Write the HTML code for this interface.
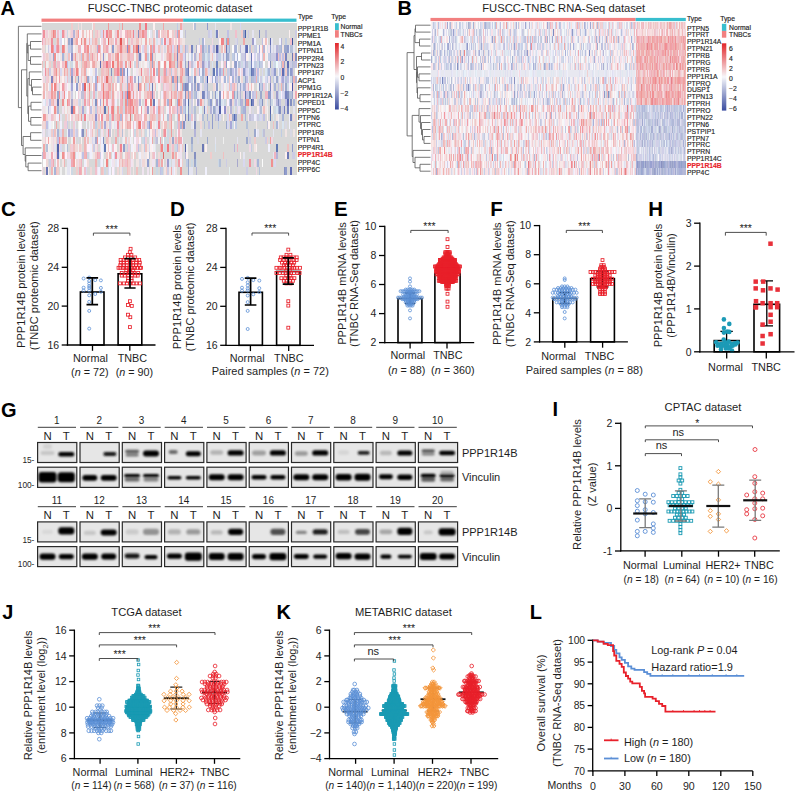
<!DOCTYPE html><html><head><meta charset="utf-8"><style>html,body{margin:0;padding:0;background:#fff}svg{display:block;font-family:"Liberation Sans",sans-serif;font-size:10.8px;fill:#1e1e1e}</style></head><body><svg width="795" height="793" viewBox="0 0 795 793"><text x="0.6" y="14.8" font-size="20" font-weight="bold" fill="#000">A</text><text x="170" y="11.9" font-size="11.2" text-anchor="middle">FUSCC-TNBC proteomic dataset</text><g shape-rendering="crispEdges" transform="translate(41.50 22.50) scale(1.5741 7.6000)" fill="none" stroke-width="1"><path stroke="#d8d8d8" d="M0 0.5h19M20 0.5h3M24 0.5h1M26 0.5h6M34 0.5h8M43 0.5h6M50 0.5h1M52 0.5h10M63 0.5h3M67 0.5h4M72 0.5h5M78 0.5h8M87 0.5h1M90 0.5h6M98 0.5h7M106 0.5h4M111 0.5h9M121 0.5h5M127 0.5h35M33 1.5h1M37 1.5h1M70 1.5h1M84 1.5h1M90 1.5h1M92 1.5h14M108 1.5h2M113 1.5h5M119 1.5h4M124 1.5h3M130 1.5h1M132 1.5h2M135 1.5h3M139 1.5h3M143 1.5h14M158 1.5h3M7 2.5h2M14 2.5h1M36 2.5h1M55 2.5h1M91 2.5h9M101 2.5h1M104 2.5h4M109 2.5h3M116 2.5h1M120 2.5h3M125 2.5h3M129 2.5h5M136 2.5h4M144 2.5h1M147 2.5h4M153 2.5h2M156 2.5h2M160 2.5h2M2 3.5h1M89 3.5h1M93 3.5h1M97 3.5h1M105 3.5h1M110 3.5h1M113 3.5h1M120 3.5h1M125 3.5h1M134 3.5h1M161 3.5h1M14 4.5h1M72 4.5h1M83 4.5h1M93 4.5h1M98 4.5h1M120 4.5h1M156 4.5h3M1 5.5h1M6 5.5h1M9 5.5h1M18 5.5h1M25 5.5h1M85 5.5h1M92 5.5h1M107 5.5h1M109 5.5h2M112 5.5h2M115 5.5h1M120 5.5h1M142 5.5h2M146 5.5h1M155 5.5h1M157 5.5h1M0 6.5h1M36 6.5h2M43 6.5h1M45 6.5h1M57 6.5h1M75 6.5h2M86 6.5h1M98 6.5h1M107 6.5h1M116 6.5h1M139 6.5h1M141 6.5h1M145 6.5h1M149 6.5h1M160 6.5h1M2 7.5h1M22 7.5h1M45 7.5h1M63 7.5h1M68 7.5h1M87 7.5h1M90 7.5h1M112 7.5h1M132 7.5h1M146 7.5h1M11 8.5h1M44 8.5h1M51 8.5h1M66 8.5h1M76 8.5h1M83 8.5h1M88 8.5h1M102 8.5h1M106 8.5h3M113 8.5h1M135 8.5h2M144 8.5h1M147 8.5h1M149 8.5h1M151 8.5h1M161 8.5h1M21 9.5h1M31 9.5h1M73 9.5h1M75 9.5h1M96 9.5h1M109 9.5h1M127 9.5h1M137 9.5h2M140 9.5h2M148 9.5h1M12 10.5h1M48 10.5h1M52 10.5h1M64 10.5h1M75 10.5h1M85 10.5h1M94 10.5h1M97 10.5h1M105 10.5h1M108 10.5h1M110 10.5h1M117 10.5h1M128 10.5h1M132 10.5h1M137 10.5h1M141 10.5h1M144 10.5h1M152 10.5h3M157 10.5h1M159 10.5h1M161 10.5h1M11 11.5h2M24 11.5h1M27 11.5h1M41 11.5h1M46 11.5h1M49 11.5h1M78 11.5h1M94 11.5h1M96 11.5h1M98 11.5h2M102 11.5h1M106 11.5h1M118 11.5h1M121 11.5h1M123 11.5h1M126 11.5h1M130 11.5h2M133 11.5h1M135 11.5h2M144 11.5h1M147 11.5h1M152 11.5h1M155 11.5h1M158 11.5h2M161 11.5h1M13 12.5h2M46 12.5h1M57 12.5h1M68 12.5h1M83 12.5h2M89 12.5h1M92 12.5h1M98 12.5h1M103 12.5h2M106 12.5h2M109 12.5h1M114 12.5h1M116 12.5h2M124 12.5h3M128 12.5h1M130 12.5h1M140 12.5h1M142 12.5h1M144 12.5h1M146 12.5h1M148 12.5h1M152 12.5h1M154 12.5h3M159 12.5h1M161 12.5h1M8 13.5h1M10 13.5h1M13 13.5h1M17 13.5h1M19 13.5h1M22 13.5h1M26 13.5h2M29 13.5h1M35 13.5h1M75 13.5h1M80 13.5h1M84 13.5h2M92 13.5h3M98 13.5h3M102 13.5h1M104 13.5h2M107 13.5h1M109 13.5h3M113 13.5h4M119 13.5h1M124 13.5h6M131 13.5h5M137 13.5h6M145 13.5h2M148 13.5h1M151 13.5h2M154 13.5h1M156 13.5h1M158 13.5h4M2 14.5h1M11 14.5h1M14 14.5h2M27 14.5h1M34 14.5h1M37 14.5h1M40 14.5h1M45 14.5h1M47 14.5h1M49 14.5h1M53 14.5h2M56 14.5h1M62 14.5h1M65 14.5h1M76 14.5h1M81 14.5h1M83 14.5h1M85 14.5h1M89 14.5h8M98 14.5h3M102 14.5h29M132 14.5h3M138 14.5h2M142 14.5h5M148 14.5h4M153 14.5h2M156 14.5h2M159 14.5h1M161 14.5h1M17 15.5h2M22 15.5h1M24 15.5h1M26 15.5h1M40 15.5h1M44 15.5h2M48 15.5h1M50 15.5h1M58 15.5h1M63 15.5h1M67 15.5h1M71 15.5h1M76 15.5h1M79 15.5h1M86 15.5h1M90 15.5h5M96 15.5h3M100 15.5h5M106 15.5h4M111 15.5h4M116 15.5h8M125 15.5h5M131 15.5h1M133 15.5h2M136 15.5h6M144 15.5h1M147 15.5h15M2 16.5h1M9 16.5h1M13 16.5h1M17 16.5h1M26 16.5h1M36 16.5h1M48 16.5h1M53 16.5h1M56 16.5h1M62 16.5h1M73 16.5h2M79 16.5h1M81 16.5h1M84 16.5h1M90 16.5h1M93 16.5h2M96 16.5h6M103 16.5h1M105 16.5h5M111 16.5h11M123 16.5h1M125 16.5h7M134 16.5h1M137 16.5h7M145 16.5h4M150 16.5h6M157 16.5h2M160 16.5h2M21 17.5h1M40 17.5h1M44 17.5h1M51 17.5h1M56 17.5h1M60 17.5h1M73 17.5h1M75 17.5h2M78 17.5h4M84 17.5h1M89 17.5h2M93 17.5h4M98 17.5h9M108 17.5h7M116 17.5h10M127 17.5h1M129 17.5h18M150 17.5h5M157 17.5h2M161 17.5h1M0 18.5h1M4 18.5h1M8 18.5h1M12 18.5h1M15 18.5h1M26 18.5h1M30 18.5h4M35 18.5h1M39 18.5h1M42 18.5h1M59 18.5h1M68 18.5h1M72 18.5h1M75 18.5h1M78 18.5h1M82 18.5h1M86 18.5h1M90 18.5h2M94 18.5h1M96 18.5h1M99 18.5h13M114 18.5h3M118 18.5h6M125 18.5h3M129 18.5h3M133 18.5h2M136 18.5h1M138 18.5h2M141 18.5h5M147 18.5h1M149 18.5h13M1 19.5h1M5 19.5h1M11 19.5h1M13 19.5h2M20 19.5h2M23 19.5h1M29 19.5h2M32 19.5h2M37 19.5h1M41 19.5h1M44 19.5h1M47 19.5h1M49 19.5h1M52 19.5h2M57 19.5h1M59 19.5h1M61 19.5h3M65 19.5h2M68 19.5h1M71 19.5h2M74 19.5h1M77 19.5h1M86 19.5h2M89 19.5h4M96 19.5h2M99 19.5h5M105 19.5h14M120 19.5h10M131 19.5h5M137 19.5h1M139 19.5h15M156 19.5h2M159 19.5h3"/><path stroke="#f0cccc" d="M19 0.5h1M33 0.5h1M28 1.5h1M34 1.5h1M57 1.5h1M60 1.5h1M76 1.5h1M78 1.5h1M83 1.5h1M127 1.5h1M4 2.5h1M9 2.5h1M20 2.5h1M33 2.5h1M35 2.5h1M43 2.5h1M45 2.5h1M51 2.5h1M63 2.5h1M75 2.5h1M11 3.5h1M31 3.5h1M34 3.5h1M44 3.5h1M52 3.5h1M56 3.5h1M85 3.5h1M90 3.5h1M133 3.5h1M3 4.5h1M20 4.5h1M24 4.5h1M33 4.5h1M45 4.5h1M79 4.5h1M87 4.5h1M154 4.5h1M160 4.5h1M5 5.5h1M14 5.5h1M34 5.5h1M38 5.5h1M49 5.5h1M55 5.5h1M101 5.5h1M3 6.5h1M15 6.5h1M26 6.5h1M40 6.5h1M65 6.5h2M84 6.5h1M90 6.5h1M105 6.5h1M117 6.5h1M125 6.5h1M152 6.5h1M155 6.5h1M4 7.5h1M27 7.5h1M36 7.5h1M43 7.5h1M46 7.5h1M50 7.5h1M64 7.5h1M71 7.5h1M119 7.5h1M3 8.5h1M24 8.5h1M41 8.5h1M47 8.5h1M81 8.5h1M36 9.5h1M60 9.5h1M65 9.5h2M80 9.5h1M83 9.5h1M89 9.5h1M32 10.5h1M58 10.5h1M9 11.5h1M25 11.5h1M30 11.5h1M59 11.5h1M69 11.5h1M105 11.5h1M7 12.5h1M15 12.5h1M21 12.5h2M32 12.5h1M47 12.5h1M62 12.5h1M72 12.5h1M75 12.5h1M2 13.5h1M36 13.5h1M53 13.5h1M60 13.5h1M81 13.5h1M6 14.5h1M20 14.5h1M60 14.5h1M63 14.5h1M70 14.5h1M9 15.5h1M12 15.5h1M42 15.5h1M81 15.5h1M135 15.5h1M143 15.5h1M18 16.5h1M24 16.5h1M28 16.5h1M42 16.5h1M87 16.5h1M89 16.5h1M9 17.5h1M34 17.5h1M41 17.5h1M53 17.5h1M59 17.5h1M70 17.5h1M107 17.5h1M24 18.5h1M52 18.5h1M55 18.5h1M85 18.5h1M89 18.5h1M10 19.5h1M22 19.5h1M39 19.5h1M55 19.5h1M79 19.5h1"/><path stroke="#f0d8d8" d="M23 0.5h1M2 1.5h1M5 1.5h1M18 1.5h1M21 1.5h1M36 1.5h1M71 1.5h1M79 1.5h1M3 2.5h1M5 2.5h1M16 2.5h1M26 2.5h1M28 2.5h1M48 2.5h1M56 2.5h1M58 2.5h2M69 2.5h1M85 2.5h1M88 2.5h1M0 3.5h2M33 3.5h1M47 3.5h1M76 3.5h1M94 3.5h1M2 4.5h1M4 4.5h1M15 4.5h1M22 4.5h1M27 4.5h1M34 4.5h1M52 4.5h2M71 4.5h1M152 4.5h1M46 5.5h2M57 5.5h1M89 5.5h1M10 6.5h1M21 6.5h1M62 6.5h1M8 7.5h1M14 7.5h1M18 7.5h1M81 7.5h1M103 7.5h1M127 7.5h1M29 8.5h1M31 8.5h1M35 8.5h1M53 8.5h1M60 8.5h1M98 8.5h1M109 8.5h1M123 8.5h1M160 8.5h1M3 9.5h1M18 9.5h1M29 9.5h1M117 9.5h1M147 9.5h1M9 10.5h1M11 10.5h1M20 10.5h1M22 10.5h1M61 10.5h1M77 10.5h1M102 10.5h1M121 10.5h1M14 11.5h1M16 11.5h1M21 11.5h1M33 11.5h1M36 11.5h1M38 11.5h1M65 11.5h1M70 11.5h1M76 11.5h1M3 12.5h1M8 12.5h1M17 12.5h1M24 12.5h1M31 12.5h1M33 12.5h1M120 12.5h1M160 12.5h1M0 13.5h2M11 13.5h1M41 13.5h1M50 13.5h1M66 13.5h1M76 13.5h1M101 13.5h1M39 14.5h1M46 14.5h1M50 14.5h1M61 14.5h1M73 14.5h1M84 14.5h1M55 15.5h1M61 15.5h1M82 15.5h1M84 15.5h1M11 16.5h1M21 16.5h2M25 16.5h1M32 16.5h1M49 16.5h1M63 16.5h1M82 16.5h1M16 17.5h1M57 17.5h1M74 17.5h1M82 17.5h1M3 18.5h1M22 18.5h1M29 18.5h1M50 18.5h1M64 18.5h2M2 19.5h1M31 19.5h1M48 19.5h1"/><path stroke="#f0e4e4" d="M25 0.5h1M120 0.5h1M4 1.5h1M17 1.5h1M46 1.5h1M49 1.5h1M112 1.5h1M62 2.5h1M72 2.5h1M89 2.5h2M15 3.5h1M21 3.5h2M32 3.5h1M46 3.5h1M79 3.5h1M153 3.5h1M10 4.5h1M12 4.5h1M23 4.5h1M38 4.5h1M40 4.5h1M46 4.5h1M65 4.5h1M78 4.5h1M107 4.5h1M4 5.5h1M24 5.5h1M35 5.5h2M62 5.5h1M64 5.5h1M75 5.5h1M79 5.5h1M6 6.5h1M13 6.5h1M33 6.5h1M56 6.5h1M61 6.5h1M64 6.5h1M87 6.5h1M138 6.5h1M5 7.5h1M12 7.5h1M20 7.5h1M24 7.5h1M26 7.5h1M31 7.5h1M37 7.5h1M47 7.5h1M122 7.5h1M2 8.5h1M23 8.5h1M49 8.5h1M59 8.5h1M71 8.5h1M75 8.5h1M110 8.5h1M117 8.5h1M9 9.5h1M35 9.5h1M46 9.5h1M81 9.5h1M101 9.5h1M160 9.5h1M14 10.5h1M18 10.5h1M25 10.5h1M28 10.5h1M38 10.5h1M40 10.5h1M89 10.5h1M135 10.5h2M142 10.5h1M1 11.5h1M17 11.5h1M32 11.5h1M47 11.5h1M119 11.5h1M140 11.5h1M142 11.5h1M20 12.5h1M29 12.5h1M40 12.5h1M55 12.5h1M67 12.5h1M90 12.5h1M100 12.5h2M149 12.5h1M39 13.5h1M42 13.5h1M71 13.5h1M136 13.5h1M9 14.5h1M23 14.5h1M33 14.5h1M52 14.5h1M55 14.5h1M64 14.5h1M79 14.5h1M88 14.5h1M155 14.5h1M160 14.5h1M0 15.5h2M6 15.5h1M8 15.5h1M31 15.5h1M43 15.5h1M6 16.5h1M34 16.5h1M37 16.5h1M51 16.5h1M64 16.5h1M67 16.5h1M135 16.5h1M33 17.5h1M48 17.5h1M61 17.5h1M63 17.5h2M66 17.5h1M69 17.5h1M13 18.5h1M46 18.5h1M58 18.5h1M60 18.5h2M66 18.5h1M69 18.5h1M50 19.5h1M58 19.5h1M78 19.5h1M81 19.5h1M85 19.5h1"/><path stroke="#f0f0f0" d="M32 0.5h1M27 1.5h1M45 1.5h1M41 2.5h1M64 2.5h2M67 2.5h1M3 3.5h1M43 3.5h1M63 3.5h1M115 3.5h1M124 3.5h1M131 3.5h1M137 3.5h1M41 4.5h1M49 4.5h1M59 4.5h1M73 4.5h3M92 4.5h1M110 4.5h1M131 4.5h1M136 4.5h1M142 4.5h1M3 5.5h1M20 5.5h1M23 5.5h1M54 5.5h1M63 5.5h1M65 5.5h1M72 5.5h1M80 5.5h1M32 6.5h1M35 6.5h1M59 6.5h1M110 6.5h1M60 7.5h1M65 7.5h1M99 7.5h1M126 7.5h1M138 7.5h1M141 7.5h1M157 7.5h1M17 8.5h1M20 8.5h1M112 8.5h1M116 8.5h1M132 8.5h1M137 8.5h1M20 9.5h1M28 9.5h1M49 9.5h1M63 9.5h2M72 9.5h1M100 9.5h1M107 9.5h1M112 9.5h1M120 9.5h1M133 9.5h1M0 10.5h1M15 10.5h1M31 10.5h1M49 10.5h1M63 10.5h1M83 10.5h2M147 10.5h1M3 11.5h1M7 11.5h1M15 11.5h1M64 11.5h1M68 11.5h1M143 11.5h1M146 11.5h1M157 11.5h1M28 12.5h1M58 12.5h1M78 12.5h2M85 12.5h1M96 12.5h1M99 12.5h1M150 12.5h1M6 13.5h1M23 13.5h1M30 13.5h1M32 13.5h1M45 13.5h1M72 13.5h1M83 13.5h1M96 13.5h1M67 14.5h1M16 15.5h1M19 15.5h1M52 15.5h1M57 15.5h1M74 15.5h1M115 15.5h1M5 16.5h1M15 16.5h1M23 16.5h1M59 16.5h1M71 16.5h1M92 16.5h1M5 17.5h1M12 17.5h1M23 17.5h1M32 17.5h1M52 17.5h1M11 18.5h1M40 18.5h1M77 18.5h1M12 19.5h1M15 19.5h1M26 19.5h1M69 19.5h1"/><path stroke="#f09c9c" d="M42 0.5h1M51 0.5h1M8 1.5h1M23 1.5h1M43 1.5h2M87 1.5h1M81 2.5h1M14 3.5h1M69 3.5h1M87 3.5h1M21 4.5h1M66 4.5h1M81 4.5h1M53 5.5h1M74 5.5h1M99 5.5h1M51 6.5h1M74 6.5h1M89 6.5h1M28 7.5h1M51 7.5h1M88 7.5h1M6 8.5h1M55 8.5h1M62 8.5h1M89 8.5h1M6 9.5h1M58 9.5h1M55 10.5h1M101 10.5h1M42 11.5h1M53 11.5h1M74 11.5h1M1 12.5h1M25 12.5h1M87 12.5h1M69 13.5h1M82 13.5h1M82 14.5h1M13 15.5h1M20 15.5h1M35 15.5h1M145 15.5h1M83 17.5h1M20 18.5h1M70 19.5h1"/><path stroke="#f0c0c0" d="M49 0.5h1M6 1.5h1M14 1.5h1M22 1.5h1M26 1.5h1M30 1.5h1M32 1.5h1M2 2.5h1M21 2.5h1M32 2.5h1M39 2.5h1M44 2.5h1M49 2.5h1M52 2.5h1M60 2.5h2M68 2.5h1M82 2.5h1M142 2.5h1M37 3.5h1M40 3.5h1M48 3.5h1M51 3.5h1M53 3.5h1M66 3.5h1M74 3.5h1M81 3.5h1M114 3.5h1M116 3.5h1M17 4.5h1M31 4.5h1M37 4.5h1M50 4.5h1M54 4.5h1M58 4.5h1M60 4.5h1M85 4.5h1M101 4.5h1M108 4.5h1M150 4.5h1M0 5.5h1M21 5.5h1M26 5.5h1M29 5.5h2M60 5.5h1M87 5.5h1M25 6.5h1M38 6.5h1M41 6.5h1M77 6.5h1M81 6.5h1M85 6.5h1M7 7.5h1M38 7.5h1M67 7.5h1M77 7.5h1M80 7.5h1M89 7.5h1M1 8.5h1M14 8.5h1M33 8.5h1M38 8.5h1M63 8.5h1M72 8.5h1M82 8.5h1M85 8.5h1M119 8.5h1M133 8.5h1M7 9.5h1M17 9.5h1M43 9.5h1M68 9.5h1M87 9.5h1M92 9.5h1M118 9.5h1M6 10.5h1M35 10.5h1M74 10.5h1M37 11.5h1M39 11.5h1M83 11.5h1M89 11.5h1M141 11.5h1M36 12.5h1M44 12.5h1M53 12.5h1M60 12.5h1M69 12.5h1M71 12.5h1M119 12.5h1M33 13.5h1M78 13.5h2M147 13.5h1M8 14.5h1M32 14.5h1M35 14.5h1M29 15.5h1M41 15.5h1M53 15.5h1M20 16.5h1M66 16.5h1M156 16.5h1M18 17.5h1M50 17.5h1M54 17.5h1M115 17.5h1M10 18.5h1M49 18.5h1M9 19.5h1M38 19.5h1M54 19.5h1M60 19.5h1"/><path stroke="#f09090" d="M62 0.5h1M39 1.5h1M48 1.5h1M64 1.5h1M25 2.5h1M27 2.5h1M118 2.5h1M29 3.5h1M55 3.5h1M58 3.5h1M8 4.5h1M48 4.5h1M48 5.5h1M78 5.5h1M88 5.5h1M9 6.5h1M35 7.5h1M56 7.5h1M14 9.5h1M42 9.5h1M51 9.5h1M56 9.5h1M13 10.5h1M16 10.5h1M53 10.5h1M57 10.5h1M130 10.5h1M8 11.5h1M56 11.5h1M61 13.5h1M13 17.5h1M20 17.5h1M146 18.5h1M88 19.5h1"/><path stroke="#f07884" d="M66 0.5h1M41 5.5h1M56 5.5h1M80 16.5h1"/><path stroke="#fcf0f0" d="M71 0.5h1M96 0.5h1M25 1.5h1M29 1.5h1M31 1.5h1M51 1.5h2M81 1.5h2M157 1.5h1M15 2.5h1M24 2.5h1M53 2.5h1M84 2.5h1M86 2.5h1M113 2.5h1M141 2.5h1M20 3.5h1M26 3.5h1M99 3.5h1M139 3.5h1M142 3.5h1M96 4.5h1M130 4.5h1M143 4.5h1M12 5.5h1M31 5.5h1M44 5.5h1M58 5.5h1M66 5.5h1M77 5.5h1M98 5.5h1M121 5.5h1M29 6.5h1M72 6.5h1M94 6.5h1M0 7.5h1M10 7.5h1M13 7.5h1M96 7.5h1M106 7.5h1M114 7.5h1M117 7.5h1M4 8.5h1M12 8.5h1M28 8.5h1M46 8.5h1M64 8.5h1M74 8.5h1M134 8.5h1M158 8.5h1M0 9.5h1M47 9.5h1M74 9.5h1M116 9.5h1M67 10.5h1M76 10.5h1M96 10.5h1M22 11.5h1M79 11.5h1M82 11.5h1M137 11.5h1M0 12.5h1M88 12.5h1M115 12.5h1M143 12.5h1M52 13.5h1M57 13.5h1M70 13.5h1M77 13.5h1M122 13.5h1M144 13.5h1M44 14.5h1M69 14.5h1M75 14.5h1M3 15.5h1M5 15.5h1M25 15.5h1M4 16.5h1M41 16.5h1M47 16.5h1M58 16.5h1M69 16.5h1M104 16.5h1M136 16.5h1M7 17.5h1M24 17.5h1M42 17.5h1M67 17.5h1M86 17.5h1M92 17.5h1M126 17.5h1M155 17.5h1M21 18.5h1M28 18.5h1M4 19.5h1M18 19.5h1"/><path stroke="#f0a8a8" d="M77 0.5h1M88 0.5h1M54 1.5h1M56 1.5h1M80 1.5h1M10 2.5h1M22 2.5h1M66 2.5h1M128 2.5h1M80 3.5h1M26 4.5h1M29 4.5h1M35 4.5h1M47 4.5h1M100 4.5h1M22 5.5h1M27 5.5h1M33 5.5h1M50 5.5h1M82 5.5h1M84 5.5h1M14 6.5h1M27 6.5h1M42 6.5h1M46 6.5h1M69 7.5h1M78 7.5h1M82 7.5h1M85 7.5h1M43 8.5h1M65 8.5h1M68 8.5h1M8 9.5h1M30 9.5h1M45 9.5h1M78 9.5h1M88 9.5h1M115 9.5h1M30 10.5h1M45 10.5h1M78 10.5h1M81 10.5h1M48 11.5h1M55 11.5h1M11 12.5h1M42 12.5h1M49 12.5h1M51 12.5h1M82 12.5h1M127 12.5h1M9 13.5h1M54 13.5h1M56 13.5h1M89 13.5h1M4 15.5h1M47 15.5h1M70 15.5h1M87 15.5h1M1 16.5h1M76 18.5h1M82 19.5h1"/><path stroke="#c0cce4" d="M86 0.5h1M76 2.5h1M155 2.5h1M17 3.5h1M104 3.5h1M118 3.5h1M136 3.5h1M25 4.5h1M67 4.5h1M95 4.5h1M106 4.5h1M112 4.5h2M121 4.5h1M144 4.5h1M135 5.5h1M139 5.5h1M82 6.5h1M103 6.5h1M114 6.5h1M118 6.5h1M132 6.5h1M143 6.5h1M151 6.5h1M95 7.5h1M101 7.5h1M104 7.5h1M118 7.5h1M137 7.5h1M143 7.5h1M147 7.5h1M139 8.5h1M131 9.5h1M119 10.5h1M139 10.5h1M34 11.5h1M90 11.5h1M94 12.5h1M34 13.5h1M112 13.5h1M123 13.5h1M36 14.5h1M152 14.5h1M65 15.5h1M65 16.5h1M133 16.5h1M92 18.5h1M76 19.5h1"/><path stroke="#f0ccd8" d="M89 0.5h1M0 1.5h1M3 1.5h1M19 1.5h1M47 1.5h1M50 1.5h1M1 2.5h1M83 2.5h1M42 3.5h1M1 4.5h1M51 4.5h1M94 5.5h1M7 6.5h1M80 6.5h1M99 6.5h1M136 6.5h1M3 7.5h1M55 7.5h1M76 7.5h1M40 8.5h1M56 8.5h1M58 8.5h1M79 8.5h2M141 8.5h1M4 9.5h2M13 9.5h1M23 9.5h1M38 9.5h1M44 10.5h1M46 10.5h1M18 11.5h1M23 11.5h1M85 11.5h1M19 12.5h1M30 12.5h1M54 12.5h1M14 13.5h2M20 13.5h1M58 14.5h1M71 14.5h1M2 15.5h1M66 15.5h1M19 16.5h1M35 16.5h1M55 16.5h1M60 16.5h1M56 18.5h1"/><path stroke="#b4c0d8" d="M97 0.5h1M73 1.5h1M119 2.5h1M132 3.5h1M151 3.5h1M158 3.5h2M102 4.5h2M122 4.5h1M145 4.5h1M125 5.5h1M152 5.5h1M159 5.5h1M73 6.5h1M102 7.5h1M134 7.5h1M155 7.5h1M124 8.5h1M97 9.5h1M108 9.5h1M157 9.5h2M106 10.5h1M97 11.5h1M110 11.5h1M127 11.5h1M139 11.5h1M80 12.5h1M102 12.5h1M103 13.5h1M130 13.5h1M51 14.5h1M3 16.5h1M16 16.5h1M95 16.5h1M68 17.5h1M113 18.5h1M138 19.5h1"/><path stroke="#909ccc" d="M105 0.5h1M45 3.5h1M86 3.5h1M145 3.5h1M156 3.5h1M70 4.5h1M117 4.5h1M117 5.5h1M123 5.5h1M50 6.5h1M92 6.5h1M128 6.5h1M148 6.5h1M156 6.5h1M158 6.5h1M23 7.5h1M61 7.5h1M83 7.5h1M22 8.5h1M86 8.5h1M99 8.5h1M111 8.5h1M110 9.5h1M144 9.5h2M107 10.5h1M129 10.5h1M108 12.5h1M112 12.5h1M123 12.5h1M68 13.5h1M108 13.5h1M52 16.5h1M159 16.5h1M67 18.5h1M155 19.5h1"/><path stroke="#e4e4f0" d="M110 0.5h1M9 1.5h1M69 1.5h1M134 1.5h1M11 2.5h1M31 2.5h1M79 2.5h1M146 2.5h1M57 3.5h1M72 3.5h1M127 3.5h2M146 3.5h1M148 3.5h1M157 3.5h1M160 3.5h1M99 4.5h1M109 4.5h1M114 4.5h1M116 4.5h1M132 4.5h1M52 5.5h1M67 5.5h1M73 5.5h1M90 5.5h1M97 5.5h1M150 5.5h2M122 6.5h1M124 6.5h1M131 6.5h1M15 7.5h1M53 7.5h1M62 7.5h1M75 7.5h1M98 7.5h1M115 7.5h1M131 7.5h1M148 7.5h1M18 8.5h1M69 8.5h1M96 8.5h1M114 8.5h1M118 8.5h1M125 8.5h1M12 9.5h1M32 9.5h1M90 9.5h1M99 9.5h1M146 9.5h1M4 10.5h1M33 10.5h1M104 10.5h1M115 10.5h1M124 10.5h1M148 10.5h1M5 11.5h1M28 11.5h1M61 11.5h1M104 11.5h1M108 11.5h1M160 11.5h1M12 12.5h1M16 12.5h1M39 12.5h1M136 12.5h1M18 13.5h1M21 13.5h1M46 13.5h1M73 13.5h1M95 13.5h1M0 14.5h1M4 14.5h2M29 14.5h1M74 14.5h1M101 14.5h1M137 14.5h1M147 14.5h1M33 15.5h1M49 15.5h1M51 15.5h1M54 15.5h1M68 15.5h1M110 15.5h1M124 15.5h1M8 16.5h1M39 16.5h1M72 16.5h1M25 17.5h1M30 17.5h1M65 17.5h1M128 17.5h1M147 17.5h1M16 18.5h3M37 18.5h1M47 18.5h1M63 18.5h1M83 18.5h2M16 19.5h2M46 19.5h1M83 19.5h1M94 19.5h2"/><path stroke="#d8d8f0" d="M126 0.5h1M38 1.5h1M107 1.5h1M12 2.5h1M8 3.5h1M64 3.5h1M83 3.5h1M88 3.5h1M108 3.5h1M90 4.5h1M135 4.5h1M96 5.5h1M104 5.5h1M128 5.5h1M147 5.5h1M12 6.5h1M106 6.5h1M130 6.5h1M140 6.5h1M30 7.5h1M142 7.5h1M154 7.5h1M67 8.5h1M127 8.5h1M86 9.5h1M104 9.5h1M153 9.5h1M23 10.5h1M73 11.5h1M111 11.5h1M124 11.5h1M138 11.5h1M113 12.5h1M118 12.5h1M139 12.5h1M91 13.5h1M118 13.5h1M12 14.5h1M21 14.5h1M32 15.5h1M12 16.5h1M68 16.5h1M46 17.5h1M128 18.5h1M148 18.5h1M28 19.5h1M42 19.5h1M51 19.5h1"/><path stroke="#f0909c" d="M1 1.5h1M13 1.5h1M6 2.5h1M10 3.5h1M36 3.5h1M2 6.5h1M74 7.5h1M11 9.5h1M44 11.5h1M38 12.5h1M45 12.5h1M48 13.5h1M42 14.5h1M78 14.5h1M11 15.5h1M47 17.5h1M132 18.5h1"/><path stroke="#f08484" d="M7 1.5h1M114 2.5h1M6 3.5h1M13 3.5h1M50 3.5h1M69 4.5h1M15 5.5h1M81 5.5h1M22 6.5h1M8 8.5h1M30 8.5h1M39 8.5h1M39 10.5h1M87 10.5h1M131 10.5h1M20 11.5h1M45 11.5h1M76 16.5h1M41 18.5h1"/><path stroke="#f0c0cc" d="M10 1.5h1M35 1.5h1M63 1.5h1M77 1.5h1M85 1.5h1M123 1.5h1M57 2.5h1M158 2.5h1M62 3.5h1M65 3.5h1M84 3.5h1M28 4.5h1M56 4.5h2M10 5.5h2M13 5.5h1M116 5.5h1M20 6.5h1M39 6.5h1M67 6.5h1M16 7.5h1M25 7.5h1M40 7.5h1M70 7.5h1M77 8.5h1M121 8.5h1M37 9.5h1M50 9.5h1M62 9.5h1M71 9.5h1M77 9.5h1M79 9.5h1M29 10.5h1M35 11.5h1M54 11.5h1M66 11.5h1M75 11.5h1M77 11.5h1M84 11.5h1M87 11.5h1M6 12.5h1M63 12.5h1M81 12.5h1M95 12.5h1M58 13.5h1M64 13.5h1M45 16.5h1M83 16.5h1M55 17.5h1M71 17.5h1M6 18.5h1M53 18.5h1M27 19.5h1M34 19.5h1"/><path stroke="#f0e4f0" d="M11 1.5h1M29 2.5h1M74 2.5h1M5 3.5h1M30 3.5h1M73 3.5h1M77 3.5h1M144 3.5h1M1 6.5h1M60 6.5h1M39 7.5h1M72 7.5h1M107 7.5h1M144 7.5h1M151 7.5h1M101 8.5h1M146 8.5h1M154 8.5h1M24 9.5h1M59 9.5h1M42 10.5h2M0 11.5h1M2 11.5h1M13 11.5h1M43 11.5h1M125 11.5h1M132 11.5h1M4 12.5h2M131 12.5h1M47 13.5h1M150 13.5h1M1 14.5h1M38 14.5h1M21 15.5h1M28 15.5h1M88 16.5h1M3 17.5h2M8 17.5h1M87 17.5h2M45 18.5h1M57 18.5h1M70 18.5h2M35 19.5h1M64 19.5h1M67 19.5h1"/><path stroke="#d8e4f0" d="M12 1.5h1M70 2.5h1M73 2.5h1M67 3.5h1M143 3.5h1M104 4.5h1M17 5.5h1M105 5.5h1M108 5.5h1M68 6.5h1M95 6.5h1M112 6.5h1M142 6.5h1M157 6.5h1M140 7.5h1M5 8.5h1M111 9.5h1M151 9.5h1M2 10.5h1M112 10.5h1M114 10.5h1M143 10.5h1M122 11.5h1M149 11.5h1M147 12.5h1M4 13.5h1M153 13.5h1M77 16.5h1M110 16.5h1M11 17.5h1M81 18.5h1"/><path stroke="#f0d8e4" d="M15 1.5h1M40 1.5h1M38 2.5h1M80 2.5h1M108 2.5h1M16 3.5h1M107 3.5h1M6 4.5h1M44 4.5h1M76 4.5h1M100 5.5h1M83 6.5h1M127 6.5h1M1 7.5h1M52 7.5h1M10 8.5h1M15 8.5h1M52 8.5h1M78 8.5h1M115 8.5h1M130 8.5h1M48 9.5h1M57 9.5h1M128 9.5h1M3 10.5h1M8 10.5h1M21 10.5h1M65 10.5h1M79 10.5h1M117 11.5h1M35 12.5h1M31 13.5h1M44 13.5h1M31 14.5h1M41 14.5h1M7 15.5h1M37 15.5h1M60 15.5h1M146 15.5h1M7 16.5h1M132 16.5h1M17 17.5h1M49 17.5h1M23 18.5h1M79 18.5h1M135 18.5h1M0 19.5h1M56 19.5h1M136 19.5h1"/><path stroke="#ccd8e4" d="M16 1.5h1M110 1.5h1M96 3.5h1M105 4.5h1M140 4.5h1M19 5.5h1M59 5.5h1M68 5.5h1M127 5.5h1M131 5.5h2M137 5.5h1M148 5.5h1M49 7.5h1M91 7.5h1M124 7.5h1M128 7.5h1M150 7.5h1M158 7.5h1M156 8.5h1M34 9.5h1M123 9.5h1M24 10.5h1M103 10.5h1M116 10.5h1M122 10.5h1M125 10.5h1M146 10.5h1M52 11.5h1M148 11.5h1M43 12.5h1M138 12.5h1M37 13.5h1M121 13.5h1M59 14.5h1M66 14.5h1M80 14.5h1M140 14.5h1M64 15.5h1M78 15.5h1M80 15.5h1M78 16.5h1M85 16.5h1M29 17.5h1M36 18.5h1M95 18.5h1M98 18.5h1M112 18.5h1M19 19.5h1M40 19.5h1M73 19.5h1"/><path stroke="#b4b4d8" d="M20 1.5h1M152 2.5h1M35 3.5h1M109 3.5h1M122 3.5h1M126 3.5h1M141 3.5h1M149 3.5h1M91 4.5h1M97 4.5h1M115 4.5h1M106 5.5h1M123 6.5h1M59 7.5h1M161 7.5h1M95 8.5h1M100 8.5h1M129 8.5h1M126 9.5h1M54 10.5h1M62 10.5h1M90 10.5h1M127 10.5h1M149 10.5h1M4 11.5h1M86 11.5h1M88 11.5h1M107 11.5h1M120 11.5h1M50 12.5h1M97 14.5h1M122 16.5h1M91 17.5h1M149 17.5h1M98 19.5h1"/><path stroke="#f0f0fc" d="M24 1.5h1M72 1.5h1M88 1.5h2M46 2.5h1M77 2.5h1M135 2.5h1M143 2.5h1M151 2.5h1M25 3.5h1M38 3.5h1M100 3.5h1M9 4.5h1M11 4.5h1M18 4.5h1M64 4.5h1M77 4.5h1M94 4.5h1M123 4.5h1M124 5.5h1M134 5.5h1M24 6.5h1M31 6.5h1M53 6.5h1M55 6.5h1M70 6.5h1M96 6.5h1M101 6.5h1M126 6.5h1M150 6.5h1M33 7.5h1M58 7.5h1M109 7.5h1M36 8.5h2M143 8.5h1M2 9.5h1M15 9.5h1M76 9.5h1M119 9.5h1M1 10.5h1M47 10.5h1M73 10.5h1M92 10.5h1M109 10.5h1M80 11.5h1M100 11.5h1M114 11.5h1M10 12.5h1M52 12.5h1M76 12.5h1M135 12.5h1M157 12.5h1M5 13.5h1M12 13.5h1M28 13.5h1M59 13.5h1M63 13.5h1M157 13.5h1M16 14.5h1M136 14.5h1M36 15.5h1M38 15.5h1M56 15.5h1M69 15.5h1M89 15.5h1M31 16.5h1M38 16.5h1M57 16.5h1M144 16.5h1M22 17.5h1M31 17.5h1M45 17.5h1M62 17.5h1M72 17.5h1M27 18.5h1M38 18.5h1M44 18.5h1M48 18.5h1M88 18.5h1M36 19.5h1M43 19.5h1M84 19.5h1M104 19.5h1"/><path stroke="#f08490" d="M41 1.5h1M58 1.5h1M78 2.5h1M115 2.5h1M48 6.5h1M63 6.5h1M71 6.5h1M56 10.5h1M66 10.5h1M27 12.5h1M74 13.5h1M50 16.5h1"/><path stroke="#f0b4b4" d="M42 1.5h1M55 1.5h1M62 1.5h1M30 2.5h1M34 2.5h1M71 2.5h1M23 3.5h1M28 3.5h1M39 3.5h1M59 3.5h1M140 3.5h1M42 4.5h1M55 4.5h1M80 4.5h1M82 4.5h1M88 4.5h1M141 4.5h1M2 5.5h1M32 5.5h1M69 5.5h1M71 5.5h1M83 5.5h1M153 5.5h1M4 6.5h1M8 6.5h1M11 6.5h1M16 6.5h1M18 6.5h1M23 6.5h1M49 6.5h1M69 6.5h1M88 6.5h1M97 6.5h1M104 6.5h1M9 7.5h1M21 7.5h1M42 7.5h1M66 7.5h1M79 7.5h1M84 7.5h1M136 7.5h1M160 7.5h1M9 8.5h1M45 8.5h1M50 8.5h1M122 8.5h1M152 8.5h1M1 9.5h1M40 9.5h1M67 9.5h1M84 9.5h2M94 9.5h1M136 9.5h1M7 10.5h1M59 10.5h1M88 10.5h1M50 11.5h1M60 11.5h1M23 12.5h1M41 12.5h1M48 12.5h1M59 12.5h1M65 12.5h2M70 12.5h1M74 12.5h1M77 12.5h1M38 13.5h1M51 13.5h1M55 13.5h1M65 13.5h1M13 14.5h1M28 14.5h1M77 14.5h1M14 15.5h2M27 15.5h1M27 16.5h1M75 16.5h1M2 17.5h1M14 17.5h1M19 17.5h1M27 17.5h1M43 17.5h1M85 17.5h1M14 18.5h1M34 18.5h1M51 18.5h1M54 18.5h1M6 19.5h1M25 19.5h1"/><path stroke="#f0b4c0" d="M53 1.5h1M74 1.5h1M40 2.5h1M87 2.5h1M24 3.5h1M49 3.5h1M101 3.5h1M43 4.5h1M89 4.5h1M7 5.5h1M40 5.5h1M51 5.5h1M44 7.5h1M131 8.5h1M27 9.5h1M33 9.5h1M142 9.5h2M50 10.5h1M60 10.5h1M51 11.5h1M57 11.5h1M81 11.5h1M61 12.5h1M87 13.5h1M48 14.5h1M87 14.5h1M85 15.5h1M124 16.5h1M36 17.5h1M148 17.5h1M25 18.5h1M74 18.5h1"/><path stroke="#d8d8e4" d="M59 1.5h1M112 2.5h1M123 2.5h1M12 3.5h1M75 3.5h1M78 3.5h1M147 3.5h1M5 4.5h1M16 4.5h1M63 4.5h1M17 6.5h1M28 6.5h1M17 7.5h1M32 7.5h1M142 8.5h1M44 9.5h1M125 9.5h1M26 10.5h1M70 10.5h1M112 11.5h1M134 11.5h1M26 12.5h1M73 12.5h1M151 12.5h1M49 13.5h1M155 13.5h1M3 14.5h1M158 14.5h1M23 15.5h1M46 15.5h1M99 15.5h1M14 16.5h1M62 18.5h1"/><path stroke="#8490c0" d="M61 1.5h1M138 1.5h1M161 4.5h1M145 5.5h1M44 6.5h1M54 6.5h1M19 7.5h1M86 7.5h1M97 7.5h1M92 8.5h1M138 8.5h1M91 9.5h1M103 9.5h1M113 9.5h1M132 9.5h1M156 9.5h1M34 10.5h1M91 10.5h1M113 10.5h1M140 10.5h1M150 10.5h1M158 10.5h1M93 11.5h1M151 11.5h1M90 13.5h1M97 13.5h1M26 14.5h1M39 15.5h1M97 17.5h1M154 19.5h1"/><path stroke="#f0a8b4" d="M65 1.5h2M0 2.5h1M47 2.5h1M54 2.5h1M9 3.5h1M41 3.5h1M82 3.5h1M84 4.5h1M8 5.5h1M39 5.5h1M42 5.5h2M47 6.5h1M57 7.5h1M42 8.5h1M57 8.5h1M161 9.5h1M17 10.5h1M51 10.5h1M71 11.5h1M88 15.5h1M1 17.5h1M6 17.5h1M28 17.5h1M35 17.5h1M7 18.5h1M19 18.5h1M24 19.5h1"/><path stroke="#e4f0f0" d="M67 1.5h1M68 4.5h1M126 4.5h1M73 8.5h1M92 11.5h1M101 11.5h1M30 15.5h1M0 16.5h1M44 16.5h1M39 17.5h1M43 18.5h1M7 19.5h1M119 19.5h1"/><path stroke="#fcfcfc" d="M68 1.5h1M75 1.5h1M13 2.5h1M37 2.5h1M121 3.5h1M125 4.5h1M76 5.5h1M118 5.5h1M141 5.5h1M30 6.5h1M161 6.5h1M0 8.5h1M32 8.5h1M48 8.5h1M94 8.5h1M16 9.5h1M22 9.5h1M68 10.5h1M72 10.5h1M62 11.5h1M18 12.5h1M37 12.5h1M7 13.5h1M24 13.5h1M24 14.5h1M57 14.5h1M77 15.5h1M58 17.5h1M1 18.5h2M140 18.5h1"/><path stroke="#a8b4d8" d="M86 1.5h1M102 2.5h1M19 3.5h1M91 3.5h1M106 3.5h1M119 3.5h1M123 3.5h1M152 3.5h1M13 4.5h1M124 4.5h1M129 5.5h1M138 5.5h1M91 6.5h1M100 6.5h1M135 6.5h1M144 6.5h1M154 6.5h1M34 7.5h1M108 7.5h1M116 7.5h1M121 7.5h1M133 7.5h1M54 8.5h1M128 8.5h1M140 8.5h1M148 8.5h1M98 9.5h1M105 9.5h1M80 10.5h1M126 10.5h1M160 10.5h1M10 11.5h1M91 11.5h1M128 11.5h1M150 11.5h1M105 12.5h1M129 12.5h1M153 12.5h1M88 13.5h1M149 13.5h1M10 14.5h1M73 18.5h1M137 18.5h1M8 19.5h1"/><path stroke="#c0c0d8" d="M91 1.5h1M142 1.5h1M70 3.5h1M150 3.5h1M61 4.5h1M61 5.5h1M95 5.5h1M103 5.5h1M130 5.5h1M160 5.5h1M79 6.5h1M108 6.5h1M153 8.5h1M25 9.5h2M106 9.5h1M97 12.5h1M110 12.5h1M132 12.5h1M143 13.5h1M43 14.5h1M141 14.5h1M73 15.5h1M0 17.5h1"/><path stroke="#cccce4" d="M106 1.5h1M131 1.5h1M161 1.5h1M100 2.5h1M124 2.5h1M4 3.5h1M18 3.5h1M92 3.5h1M103 3.5h1M135 3.5h1M30 4.5h1M119 4.5h1M127 4.5h2M137 4.5h1M146 4.5h3M126 5.5h1M136 5.5h1M140 5.5h1M158 5.5h1M5 6.5h1M119 6.5h1M146 6.5h1M92 7.5h1M113 7.5h1M139 7.5h1M84 8.5h1M103 8.5h2M120 8.5h1M19 9.5h1M52 9.5h1M135 9.5h1M150 9.5h1M154 9.5h1M95 10.5h1M100 10.5h1M95 11.5h1M153 11.5h1M86 12.5h1M111 12.5h1M133 12.5h2M137 12.5h1M16 13.5h1M43 13.5h1M86 13.5h1M7 14.5h1M18 14.5h1M22 14.5h1M68 14.5h1M131 14.5h1M72 15.5h1M132 15.5h1M142 15.5h1M33 16.5h1M54 16.5h1M37 17.5h1M159 17.5h2M5 18.5h1M117 18.5h1M80 19.5h1M130 19.5h1"/><path stroke="#7884c0" d="M111 1.5h1M19 2.5h1M95 3.5h1M129 3.5h1M62 4.5h1M86 4.5h1M155 4.5h1M133 5.5h1M134 6.5h1M61 8.5h1M91 8.5h1M145 8.5h1M54 9.5h1M102 9.5h1M155 9.5h1M134 10.5h1M103 11.5h1M154 11.5h1M156 11.5h1M91 12.5h1M93 12.5h1M158 12.5h1"/><path stroke="#c0c0e4" d="M118 1.5h1M18 2.5h1M140 2.5h1M111 4.5h1M138 4.5h1M151 4.5h1M153 4.5h1M16 5.5h1M161 5.5h1M34 6.5h1M121 6.5h1M129 6.5h1M137 6.5h1M147 6.5h1M48 7.5h1M94 7.5h1M111 7.5h1M123 7.5h1M130 7.5h1M135 7.5h1M152 7.5h1M156 7.5h1M150 8.5h1M95 9.5h1M130 9.5h1M134 9.5h1M5 10.5h1M123 10.5h1M138 10.5h1M151 10.5h1M155 10.5h1M31 11.5h1M141 12.5h1M3 13.5h1M67 13.5h1M106 13.5h1M19 14.5h1M25 14.5h1M72 14.5h1M10 15.5h1M61 16.5h1M86 16.5h1M26 17.5h1M75 19.5h1"/><path stroke="#9ca8cc" d="M128 1.5h1M17 2.5h1M117 2.5h1M102 3.5h1M154 3.5h2M7 4.5h1M118 4.5h1M70 5.5h1M91 5.5h1M122 5.5h1M102 6.5h1M120 6.5h1M29 7.5h1M54 7.5h1M93 7.5h1M110 7.5h1M125 7.5h1M129 7.5h1M149 7.5h1M159 7.5h1M90 8.5h1M93 8.5h1M97 8.5h1M105 8.5h1M126 8.5h1M155 8.5h1M10 9.5h1M93 9.5h1M122 9.5h1M124 9.5h1M139 9.5h1M159 9.5h1M145 10.5h1M109 11.5h1M121 12.5h1M117 13.5h1M135 14.5h1M83 15.5h1M95 15.5h1M105 15.5h1M130 15.5h1M93 18.5h1M97 18.5h1M93 19.5h1"/><path stroke="#4860a8" d="M129 1.5h1M133 10.5h1"/><path stroke="#fcf0fc" d="M23 2.5h1M103 2.5h1M68 3.5h1M0 4.5h1M36 4.5h1M134 4.5h1M139 4.5h1M114 5.5h1M119 5.5h1M144 5.5h1M58 6.5h1M73 7.5h1M100 7.5h1M120 7.5h1M7 8.5h1M16 8.5h1M21 8.5h1M25 8.5h1M87 8.5h1M157 8.5h1M61 9.5h1M114 9.5h1M152 9.5h1M36 10.5h1M98 10.5h1M118 10.5h1M6 11.5h1M29 11.5h1M72 11.5h1M115 11.5h1M9 12.5h1M64 12.5h1M25 13.5h1M30 14.5h1M86 14.5h1M59 15.5h1M62 15.5h1M29 16.5h2M43 16.5h1M46 16.5h1M70 16.5h1M15 17.5h1M38 17.5h1M9 18.5h1M45 19.5h1"/><path stroke="#e46c6c" d="M42 2.5h1M41 7.5h1M55 9.5h1M77 17.5h1"/><path stroke="#e45454" d="M50 2.5h1"/><path stroke="#9c9ccc" d="M134 2.5h1M86 5.5h1M102 5.5h1M154 5.5h1M52 6.5h1M149 9.5h1M99 10.5h1M111 10.5h1M120 10.5h1M67 11.5h1M80 18.5h1"/><path stroke="#606cb4" d="M145 2.5h1M61 3.5h1M130 3.5h1M37 5.5h1M156 5.5h1M153 6.5h1M156 10.5h1M10 17.5h1M158 19.5h1"/><path stroke="#3c549c" d="M159 2.5h1"/><path stroke="#f09ca8" d="M7 3.5h1M27 3.5h1M71 3.5h1M32 4.5h1M28 5.5h1M78 6.5h1M115 6.5h1M11 7.5h1M13 8.5h1M41 9.5h1M53 9.5h1M69 9.5h1M82 9.5h1M121 9.5h1M27 10.5h1M41 10.5h1M63 11.5h1M2 12.5h1M75 15.5h1M87 18.5h1"/><path stroke="#9090cc" d="M54 3.5h1M19 4.5h1M39 4.5h1M149 4.5h1M116 11.5h1M34 12.5h1"/><path stroke="#e47878" d="M60 3.5h1M69 10.5h1M82 10.5h1M56 12.5h1"/><path stroke="#a8a8cc" d="M98 3.5h1M19 10.5h1M34 15.5h1M124 18.5h1"/><path stroke="#5460a8" d="M111 3.5h1M113 11.5h1M145 11.5h1M10 16.5h1M91 16.5h1"/><path stroke="#a8a8d8" d="M112 3.5h1M138 3.5h1M129 4.5h1M19 6.5h1M113 6.5h1M159 6.5h1M145 7.5h1M153 7.5h1M19 8.5h1M26 8.5h1M34 8.5h1M37 10.5h1M86 10.5h1M26 11.5h1M129 11.5h1M40 13.5h1M120 13.5h1M17 14.5h1"/><path stroke="#6c78b4" d="M117 3.5h1M133 4.5h1M159 4.5h1M93 6.5h1M70 8.5h1M129 9.5h1M10 10.5h1M71 10.5h1M19 11.5h1M102 16.5h1M156 17.5h1M3 19.5h1"/><path stroke="#f07878" d="M45 5.5h1M39 9.5h1M58 11.5h1M62 13.5h1"/><path stroke="#8484c0" d="M93 5.5h1M6 7.5h1M70 9.5h1"/><path stroke="#6c84c0" d="M111 5.5h1"/><path stroke="#f0fcfc" d="M149 5.5h1"/><path stroke="#6078b4" d="M109 6.5h1M133 6.5h1M40 11.5h1M145 12.5h1M40 16.5h1M149 16.5h1"/><path stroke="#8490cc" d="M111 6.5h1"/><path stroke="#4854a8" d="M105 7.5h1M159 8.5h1"/><path stroke="#e46060" d="M27 8.5h1"/><path stroke="#546ca8" d="M93 10.5h1"/><path stroke="#546cb4" d="M122 12.5h1"/></g><rect x="41.5" y="18.6" width="141.67" height="3.2" fill="#f28080"/><rect x="183.17" y="18.6" width="113.33" height="3.2" fill="#38bece"/><text x="298" y="19.3" font-size="6.8" stroke="#1e1e1e" stroke-width="0.15">Type</text><text x="297.8" y="30.8" font-size="6.8" stroke="#1e1e1e" stroke-width="0.15">PPP1R1B</text><text x="297.8" y="38.2" font-size="6.8" stroke="#1e1e1e" stroke-width="0.15">PPME1</text><text x="297.8" y="45.7" font-size="6.8" stroke="#1e1e1e" stroke-width="0.15">PPM1A</text><text x="297.8" y="53.1" font-size="6.8" stroke="#1e1e1e" stroke-width="0.15">PTPN11</text><text x="297.8" y="60.5" font-size="6.8" stroke="#1e1e1e" stroke-width="0.15">PPP2R4</text><text x="297.8" y="68" font-size="6.8" stroke="#1e1e1e" stroke-width="0.15">PTPN23</text><text x="297.8" y="75.4" font-size="6.8" stroke="#1e1e1e" stroke-width="0.15">PPP1R7</text><text x="297.8" y="82.8" font-size="6.8" stroke="#1e1e1e" stroke-width="0.15">ACP1</text><text x="297.8" y="90.2" font-size="6.8" stroke="#1e1e1e" stroke-width="0.15">PPM1G</text><text x="297.8" y="97.7" font-size="6.8" stroke="#1e1e1e" stroke-width="0.15">PPP1R12A</text><text x="297.8" y="105.1" font-size="6.8" stroke="#1e1e1e" stroke-width="0.15">CPPED1</text><text x="297.8" y="112.5" font-size="6.8" stroke="#1e1e1e" stroke-width="0.15">PPP5C</text><text x="297.8" y="120" font-size="6.8" stroke="#1e1e1e" stroke-width="0.15">PTPN6</text><text x="297.8" y="127.4" font-size="6.8" stroke="#1e1e1e" stroke-width="0.15">PTPRC</text><text x="297.8" y="134.8" font-size="6.8" stroke="#1e1e1e" stroke-width="0.15">PPP1R8</text><text x="297.8" y="142.2" font-size="6.8" stroke="#1e1e1e" stroke-width="0.15">PTPN1</text><text x="297.8" y="149.7" font-size="6.8" stroke="#1e1e1e" stroke-width="0.15">PPP4R1</text><text x="297.8" y="157.1" font-size="6.8" font-weight="bold" fill="#e8262b" stroke="#e8262b" stroke-width="0.15">PPP1R14B</text><text x="297.8" y="164.5" font-size="6.8" stroke="#1e1e1e" stroke-width="0.15">PPP4C</text><text x="297.8" y="172" font-size="6.8" stroke="#1e1e1e" stroke-width="0.15">PPP6C</text><text x="331.3" y="19.3" font-size="6.8" stroke="#1e1e1e" stroke-width="0.15">Type</text><rect x="335" y="23.2" width="3.8" height="7" fill="#38bece"/><rect x="335" y="30.2" width="3.8" height="7.4" fill="#f28080"/><text x="340.5" y="29.3" font-size="6.8" stroke="#1e1e1e" stroke-width="0.15">Normal</text><text x="340.5" y="36.6" font-size="6.8" stroke="#1e1e1e" stroke-width="0.15">TNBCs</text><defs><linearGradient id="cb335" x1="0" y1="0" x2="0" y2="1"><stop offset="0" stop-color="#e2262a"/><stop offset="0.5" stop-color="#f7f7fa"/><stop offset="1" stop-color="#3a4ca0"/></linearGradient></defs><rect x="335" y="43" width="3.8" height="66.5" fill="url(#cb335)"/><text x="340.5" y="49.2" font-size="6.8" stroke="#1e1e1e" stroke-width="0.15">4</text><text x="340.5" y="64.4" font-size="6.8" stroke="#1e1e1e" stroke-width="0.15">2</text><text x="340.5" y="79.9" font-size="6.8" stroke="#1e1e1e" stroke-width="0.15">0</text><text x="340.5" y="95.6" font-size="6.8" stroke="#1e1e1e" stroke-width="0.15">−2</text><text x="340.5" y="111.1" font-size="6.8" stroke="#1e1e1e" stroke-width="0.15">−4</text><path d="M30.5 41.5H41.5M30.5 49.1H41.5M30.5 41.5V49.1M30.5 56.7H41.5M30.5 64.3H41.5M30.5 56.7V64.3M28.2 45.3H30.5M28.2 60.5H30.5M28.2 45.3V60.5M27.3 33.9H41.5M27.3 52.9H28.2M27.3 33.9V52.9M32.5 87.1H41.5M32.5 94.7H41.5M32.5 87.1V94.7M31.5 79.5H41.5M31.5 90.9H32.5M31.5 79.5V90.9M29.3 71.9H41.5M29.3 85.2H31.5M29.3 71.9V85.2M31 102.3H41.5M31 109.9H41.5M31 102.3V109.9M30.8 117.5H41.5M30.8 125.1H41.5M30.8 117.5V125.1M28.5 106.1H31M28.5 121.3H30.8M28.5 106.1V121.3M27.8 78.6H29.3M27.8 113.7H28.5M27.8 78.6V113.7M26.8 43.4H27.3M26.8 96.1H27.8M26.8 43.4V96.1M30.6 132.7H41.5M30.6 140.3H41.5M30.6 132.7V140.3M28.1 163.1H41.5M28.1 170.7H41.5M28.1 163.1V170.7M25.8 155.5H41.5M25.8 166.9H28.1M25.8 155.5V166.9M25.2 147.9H41.5M25.2 161.2H25.8M25.2 147.9V161.2M23.1 136.5H30.6M23.1 154.5H25.2M23.1 136.5V154.5M21.5 69.8H26.8M21.5 145.5H23.1M21.5 69.8V145.5M18.4 26.3H41.5M18.4 107.6H21.5M18.4 26.3V107.6" stroke="#555" stroke-width="0.8" fill="none"/><text x="397.6" y="15.1" font-size="20" font-weight="bold" fill="#000">B</text><text x="563.7" y="12" font-size="11.2" text-anchor="middle">FUSCC-TNBC RNA-Seq dataset</text><g shape-rendering="crispEdges" transform="translate(430.50 21.70) scale(1.0007 6.9550)" fill="none" stroke-width="1"><path stroke="#f8f0f0" d="M0 0.5h1M26 0.5h1M67 0.5h1M74 0.5h1M81 0.5h1M99 0.5h1M113 0.5h1M152 0.5h1M164 0.5h1M184 0.5h1M192 0.5h1M86 1.5h1M119 1.5h1M156 1.5h1M28 2.5h1M55 2.5h1M57 2.5h2M65 2.5h2M148 2.5h1M154 2.5h1M199 2.5h1M1 3.5h1M5 3.5h1M9 3.5h1M29 3.5h1M60 3.5h2M135 3.5h1M140 3.5h1M160 3.5h1M169 3.5h1M172 3.5h1M196 3.5h1M203 3.5h1M7 4.5h1M34 4.5h1M80 4.5h1M108 4.5h2M137 4.5h1M143 4.5h1M168 4.5h1M184 4.5h1M187 4.5h2M6 5.5h1M44 5.5h1M107 5.5h1M136 5.5h1M144 5.5h1M166 5.5h1M198 5.5h1M34 6.5h1M46 6.5h1M54 6.5h1M69 6.5h1M89 6.5h1M111 6.5h1M124 6.5h1M142 6.5h1M167 6.5h1M182 6.5h1M35 8.5h1M40 8.5h1M51 8.5h1M60 8.5h1M70 8.5h1M82 8.5h1M97 8.5h1M103 8.5h1M108 8.5h1M116 8.5h1M118 8.5h1M140 8.5h1M145 8.5h1M152 8.5h1M155 8.5h1M13 9.5h1M16 9.5h1M41 9.5h1M57 9.5h1M85 9.5h1M134 9.5h1M148 9.5h1M171 9.5h1M197 9.5h1M204 9.5h1M4 10.5h1M57 10.5h1M78 10.5h1M92 10.5h1M142 10.5h1M156 10.5h1M189 10.5h1M4 11.5h1M20 11.5h1M45 11.5h1M56 11.5h1M74 11.5h1M89 11.5h1M101 11.5h1M159 11.5h1M194 11.5h1M10 12.5h1M12 12.5h1M54 12.5h1M68 12.5h1M125 12.5h1M136 12.5h2M139 12.5h1M153 12.5h2M7 13.5h1M15 13.5h1M25 13.5h1M93 13.5h1M111 13.5h1M117 13.5h1M123 13.5h1M137 13.5h1M157 13.5h1M176 13.5h1M185 13.5h2M46 14.5h1M60 14.5h1M62 14.5h1M87 14.5h1M92 14.5h1M112 14.5h1M137 14.5h1M139 14.5h1M163 14.5h1M185 14.5h1M189 14.5h1M197 14.5h1M37 15.5h1M45 15.5h1M55 15.5h1M60 15.5h1M101 15.5h1M117 15.5h1M125 15.5h1M171 15.5h1M192 15.5h1M9 16.5h1M36 16.5h1M55 16.5h1M73 16.5h1M95 16.5h1M98 16.5h1M146 16.5h1M150 16.5h1M159 16.5h1M190 16.5h1M6 17.5h1M22 17.5h1M36 17.5h1M41 17.5h1M57 17.5h1M84 17.5h1M115 17.5h1M130 17.5h1M177 17.5h1M10 18.5h1M16 18.5h1M31 18.5h1M45 18.5h1M52 18.5h1M88 18.5h1M117 18.5h1M124 18.5h1M131 18.5h1M151 18.5h1M17 19.5h1M44 19.5h1M77 19.5h1M81 19.5h1M88 19.5h1M115 19.5h1M132 19.5h1M147 19.5h1M149 19.5h1M156 19.5h1M158 19.5h1M183 19.5h1M198 19.5h1M7 20.5h1M65 20.5h1M70 20.5h1M91 20.5h1M105 20.5h1M138 20.5h1M149 20.5h1M170 20.5h1M173 20.5h1M179 20.5h1M191 20.5h1M34 21.5h1M40 21.5h1M72 21.5h1M74 21.5h1M85 21.5h1M90 21.5h1M132 21.5h1M134 21.5h2M160 21.5h1M191 21.5h1"/><path stroke="#e8e8f0" d="M1 0.5h1M8 0.5h1M13 0.5h1M23 0.5h2M32 0.5h1M36 0.5h1M44 0.5h1M68 0.5h1M77 0.5h1M80 0.5h1M91 0.5h1M104 0.5h1M110 0.5h1M139 0.5h1M150 0.5h1M163 0.5h1M175 0.5h1M179 0.5h2M7 1.5h1M31 1.5h1M46 1.5h2M93 1.5h1M100 1.5h1M105 1.5h1M127 1.5h1M143 1.5h1M151 1.5h2M158 1.5h2M165 1.5h1M182 1.5h1M186 1.5h1M189 1.5h1M202 1.5h1M0 2.5h1M7 2.5h1M37 2.5h1M77 2.5h1M81 2.5h1M95 2.5h1M120 2.5h1M135 2.5h1M150 2.5h1M169 2.5h1M173 2.5h1M190 2.5h1M0 3.5h1M31 3.5h4M41 3.5h1M43 3.5h1M64 3.5h1M66 3.5h1M86 3.5h1M113 3.5h1M116 3.5h1M122 3.5h1M144 3.5h2M148 3.5h1M155 3.5h1M162 3.5h1M168 3.5h1M194 3.5h2M11 4.5h1M15 4.5h1M27 4.5h1M31 4.5h1M45 4.5h1M51 4.5h1M55 4.5h2M70 4.5h1M72 4.5h1M78 4.5h1M82 4.5h1M89 4.5h1M91 4.5h1M98 4.5h1M104 4.5h1M132 4.5h1M146 4.5h1M150 4.5h1M153 4.5h1M155 4.5h1M160 4.5h1M175 4.5h1M3 5.5h1M25 5.5h1M77 5.5h1M111 5.5h1M113 5.5h1M117 5.5h1M138 5.5h1M161 5.5h1M178 5.5h1M192 5.5h1M57 6.5h2M76 6.5h1M84 6.5h1M87 6.5h2M105 6.5h1M108 6.5h1M129 6.5h1M141 6.5h1M145 6.5h2M152 6.5h1M165 6.5h1M173 6.5h1M175 6.5h1M0 7.5h6M10 7.5h3M14 7.5h6M22 7.5h3M27 7.5h2M30 7.5h2M35 7.5h1M38 7.5h1M40 7.5h3M46 7.5h3M50 7.5h1M54 7.5h3M60 7.5h3M64 7.5h5M70 7.5h2M73 7.5h1M75 7.5h1M77 7.5h2M81 7.5h1M84 7.5h3M90 7.5h4M95 7.5h3M101 7.5h1M104 7.5h2M110 7.5h3M115 7.5h5M121 7.5h1M123 7.5h2M126 7.5h2M131 7.5h1M133 7.5h2M137 7.5h11M149 7.5h3M153 7.5h1M155 7.5h1M157 7.5h4M164 7.5h3M168 7.5h5M176 7.5h2M179 7.5h1M183 7.5h2M186 7.5h3M190 7.5h1M192 7.5h3M199 7.5h1M201 7.5h3M17 8.5h1M21 8.5h1M41 8.5h2M47 8.5h1M59 8.5h1M76 8.5h1M86 8.5h1M89 8.5h1M120 8.5h1M128 8.5h1M141 8.5h1M146 8.5h1M156 8.5h1M168 8.5h1M178 8.5h1M195 8.5h2M201 8.5h1M24 9.5h1M78 9.5h1M88 9.5h1M99 9.5h1M103 9.5h1M106 9.5h1M145 9.5h1M155 9.5h1M178 9.5h1M187 9.5h1M22 10.5h1M35 10.5h1M44 10.5h1M62 10.5h1M70 10.5h1M81 10.5h1M109 10.5h2M128 10.5h1M132 10.5h1M159 10.5h1M169 10.5h1M171 10.5h1M196 10.5h1M199 10.5h1M203 10.5h1M0 11.5h1M15 11.5h1M28 11.5h1M91 11.5h1M108 11.5h1M146 11.5h1M160 11.5h1M173 11.5h1M176 11.5h1M189 11.5h1M0 12.5h1M14 12.5h1M20 12.5h1M32 12.5h1M52 12.5h1M81 12.5h1M96 12.5h1M105 12.5h1M110 12.5h1M119 12.5h1M131 12.5h1M166 12.5h2M193 12.5h1M18 13.5h1M103 13.5h1M110 13.5h1M146 13.5h1M153 13.5h1M174 13.5h1M181 13.5h1M189 13.5h1M12 14.5h1M35 14.5h1M58 14.5h1M65 14.5h1M72 14.5h1M77 14.5h2M125 14.5h1M145 14.5h1M198 14.5h1M19 15.5h1M34 15.5h1M57 15.5h1M113 15.5h1M182 15.5h1M185 15.5h1M26 16.5h1M31 16.5h1M62 16.5h1M64 16.5h1M126 16.5h1M136 16.5h1M140 16.5h1M179 16.5h1M198 16.5h1M204 16.5h1M8 17.5h2M55 17.5h2M62 17.5h1M81 17.5h1M90 17.5h1M103 17.5h1M107 17.5h1M109 17.5h1M137 17.5h1M140 17.5h1M143 17.5h2M169 17.5h1M186 17.5h1M1 18.5h1M15 18.5h1M17 18.5h2M23 18.5h1M50 18.5h1M55 18.5h1M69 18.5h1M73 18.5h1M120 18.5h1M128 18.5h1M134 18.5h1M187 18.5h1M5 19.5h1M23 19.5h1M45 19.5h1M50 19.5h1M57 19.5h1M70 19.5h1M78 19.5h1M94 19.5h1M99 19.5h1M126 19.5h2M144 19.5h1M56 20.5h1M101 20.5h1M136 20.5h1M194 20.5h1M202 20.5h2M21 21.5h1M52 21.5h1M75 21.5h1M91 21.5h1M131 21.5h1M133 21.5h1M176 21.5h1"/><path stroke="#c0c8e0" d="M2 0.5h1M28 0.5h1M55 0.5h1M58 0.5h1M87 0.5h1M129 0.5h1M45 1.5h1M48 1.5h2M71 1.5h1M83 1.5h1M149 1.5h1M177 1.5h1M24 2.5h1M83 2.5h1M93 2.5h1M103 2.5h1M107 2.5h1M110 2.5h1M125 2.5h1M147 2.5h1M87 3.5h1M150 3.5h1M152 3.5h1M202 3.5h1M3 4.5h1M16 4.5h1M20 4.5h1M35 4.5h2M86 4.5h2M90 4.5h1M9 5.5h1M27 5.5h1M30 5.5h1M49 5.5h1M54 5.5h1M57 5.5h1M3 6.5h1M15 6.5h1M27 6.5h1M39 6.5h1M194 6.5h2M48 8.5h1M55 8.5h1M57 8.5h1M4 9.5h1M50 9.5h1M63 9.5h1M83 9.5h1M20 10.5h1M30 10.5h1M97 10.5h1M115 10.5h1M122 10.5h1M175 10.5h1M178 10.5h1M187 10.5h1M14 11.5h1M44 11.5h1M46 11.5h1M68 11.5h1M133 11.5h1M41 12.5h1M5 13.5h1M58 13.5h1M109 14.5h1M172 14.5h1M203 14.5h1M72 15.5h1M134 15.5h1M191 15.5h1M155 16.5h1M38 17.5h1M7 18.5h1M40 18.5h1M55 19.5h1M182 19.5h1M94 20.5h1M64 21.5h1M185 21.5h1"/><path stroke="#d8d8e8" d="M3 0.5h1M59 0.5h1M84 0.5h1M117 0.5h1M186 0.5h2M195 0.5h2M201 0.5h1M204 0.5h1M3 1.5h1M17 1.5h1M23 1.5h1M28 1.5h1M72 1.5h1M82 1.5h1M85 1.5h1M130 1.5h1M137 1.5h1M155 1.5h1M181 1.5h1M8 2.5h1M39 2.5h1M42 2.5h1M49 2.5h1M54 2.5h1M60 2.5h1M75 2.5h1M78 2.5h1M84 2.5h1M91 2.5h1M102 2.5h1M105 2.5h1M127 2.5h1M163 2.5h1M186 2.5h1M8 3.5h1M10 3.5h1M22 3.5h1M24 3.5h1M38 3.5h1M48 3.5h1M54 3.5h1M68 3.5h1M82 3.5h1M84 3.5h1M108 3.5h1M183 3.5h1M0 4.5h1M8 4.5h1M22 4.5h1M73 4.5h1M84 4.5h1M88 4.5h1M128 4.5h1M130 4.5h1M189 4.5h1M191 4.5h1M199 4.5h1M74 5.5h1M87 5.5h1M122 5.5h1M141 5.5h1M162 5.5h1M169 5.5h1M194 5.5h1M4 6.5h1M13 6.5h1M30 6.5h1M33 6.5h1M36 6.5h1M64 6.5h1M83 6.5h1M112 6.5h1M117 6.5h1M139 6.5h1M162 6.5h1M179 6.5h1M2 8.5h1M4 8.5h1M8 8.5h1M26 8.5h1M32 8.5h1M38 8.5h1M161 8.5h1M175 8.5h1M181 8.5h1M15 9.5h1M29 9.5h1M39 9.5h1M47 9.5h1M86 9.5h1M112 9.5h1M131 9.5h1M140 9.5h1M143 9.5h1M162 9.5h1M172 9.5h1M181 9.5h1M190 9.5h1M17 10.5h1M31 10.5h1M52 10.5h1M64 10.5h1M71 10.5h1M94 10.5h2M133 10.5h1M191 10.5h1M198 10.5h1M201 10.5h1M7 11.5h1M18 11.5h1M27 11.5h1M67 11.5h1M88 11.5h1M106 11.5h1M115 11.5h1M129 11.5h1M135 11.5h1M143 11.5h1M165 11.5h1M177 11.5h1M181 11.5h1M188 11.5h1M204 11.5h1M6 12.5h1M45 12.5h1M48 12.5h1M78 12.5h1M123 12.5h1M144 12.5h1M6 13.5h1M33 13.5h1M56 13.5h1M75 13.5h1M85 13.5h1M108 13.5h1M172 13.5h1M5 14.5h1M64 14.5h1M126 14.5h1M138 14.5h1M12 15.5h1M24 15.5h1M130 15.5h1M140 15.5h1M161 15.5h1M180 15.5h1M5 16.5h1M51 16.5h1M114 16.5h1M170 16.5h1M11 17.5h1M53 17.5h1M69 17.5h1M93 17.5h1M126 17.5h1M202 17.5h1M5 18.5h1M80 18.5h1M157 18.5h1M30 19.5h1M140 19.5h1M142 19.5h1M162 19.5h1M33 20.5h1M71 20.5h1M114 20.5h1M134 20.5h1M147 20.5h1M20 21.5h1M39 21.5h1M109 21.5h1M183 21.5h1"/><path stroke="#d8e0f0" d="M4 0.5h1M50 0.5h1M95 0.5h1M133 0.5h1M172 0.5h1M24 1.5h1M59 1.5h1M73 1.5h1M96 1.5h1M142 1.5h1M153 1.5h1M5 2.5h1M68 2.5h1M90 2.5h1M131 2.5h1M75 3.5h1M89 3.5h1M103 3.5h1M107 3.5h1M115 3.5h1M124 3.5h1M128 3.5h1M136 3.5h1M187 3.5h1M77 4.5h1M105 4.5h1M122 4.5h1M178 4.5h1M12 5.5h1M15 5.5h1M35 5.5h1M40 5.5h1M69 5.5h1M86 5.5h1M89 5.5h1M96 5.5h1M98 5.5h1M101 5.5h1M139 5.5h1M157 5.5h1M176 5.5h1M183 5.5h1M14 6.5h1M72 6.5h1M32 7.5h1M3 8.5h1M73 8.5h1M121 8.5h1M135 8.5h1M96 9.5h1M151 9.5h1M173 9.5h1M26 10.5h1M40 10.5h1M74 10.5h1M88 10.5h1M100 10.5h1M102 10.5h1M120 10.5h1M51 11.5h1M61 11.5h1M153 11.5h1M161 11.5h1M164 11.5h1M177 13.5h1M1 14.5h1M144 14.5h1M161 14.5h1M1 16.5h1M18 16.5h1M32 17.5h1M151 17.5h1M171 19.5h1M29 20.5h1M93 20.5h1M126 20.5h1M144 20.5h1M38 21.5h1M156 21.5h1"/><path stroke="#f0f0f8" d="M5 0.5h1M10 0.5h1M12 0.5h1M30 0.5h1M33 0.5h1M60 0.5h1M71 0.5h1M96 0.5h2M123 0.5h1M131 0.5h1M135 0.5h1M137 0.5h1M142 0.5h1M155 0.5h1M157 0.5h1M5 1.5h1M11 1.5h1M39 1.5h1M44 1.5h1M51 1.5h1M55 1.5h1M58 1.5h1M74 1.5h2M81 1.5h1M88 1.5h1M101 1.5h2M134 1.5h1M144 1.5h1M150 1.5h1M162 1.5h1M175 1.5h1M183 1.5h1M12 2.5h1M19 2.5h1M44 2.5h2M59 2.5h1M106 2.5h1M111 2.5h1M122 2.5h1M132 2.5h1M144 2.5h1M156 2.5h1M162 2.5h1M170 2.5h1M181 2.5h1M189 2.5h1M191 2.5h1M196 2.5h1M7 3.5h1M23 3.5h1M26 3.5h1M30 3.5h1M39 3.5h1M58 3.5h1M70 3.5h2M79 3.5h1M121 3.5h1M125 3.5h1M151 3.5h1M186 3.5h1M198 3.5h1M200 3.5h1M21 4.5h1M24 4.5h1M41 4.5h1M46 4.5h1M49 4.5h1M66 4.5h3M85 4.5h1M92 4.5h1M106 4.5h1M118 4.5h1M120 4.5h1M140 4.5h2M148 4.5h1M152 4.5h1M170 4.5h1M177 4.5h1M201 4.5h1M28 5.5h1M36 5.5h1M38 5.5h2M47 5.5h1M55 5.5h1M60 5.5h2M64 5.5h1M93 5.5h1M95 5.5h1M100 5.5h1M109 5.5h1M116 5.5h1M120 5.5h1M125 5.5h1M140 5.5h1M158 5.5h1M165 5.5h1M170 5.5h1M174 5.5h1M180 5.5h1M191 5.5h1M195 5.5h1M202 5.5h1M6 6.5h1M31 6.5h2M56 6.5h1M61 6.5h1M71 6.5h1M79 6.5h1M95 6.5h1M127 6.5h1M130 6.5h2M133 6.5h1M136 6.5h1M159 6.5h2M177 6.5h1M183 6.5h1M188 6.5h1M190 6.5h1M193 6.5h1M197 6.5h1M8 7.5h1M29 7.5h1M36 7.5h1M43 7.5h1M52 7.5h1M57 7.5h1M87 7.5h1M98 7.5h1M125 7.5h1M136 7.5h1M152 7.5h1M163 7.5h1M178 7.5h1M180 7.5h1M185 7.5h1M197 7.5h1M10 8.5h1M46 8.5h1M58 8.5h1M67 8.5h1M77 8.5h1M84 8.5h2M98 8.5h2M107 8.5h1M132 8.5h1M139 8.5h1M164 8.5h1M176 8.5h1M180 8.5h1M187 8.5h1M198 8.5h1M203 8.5h1M7 9.5h1M23 9.5h1M55 9.5h2M59 9.5h2M62 9.5h1M65 9.5h1M69 9.5h1M91 9.5h1M94 9.5h1M108 9.5h1M119 9.5h1M127 9.5h2M141 9.5h2M150 9.5h1M169 9.5h2M188 9.5h1M194 9.5h1M202 9.5h1M11 10.5h1M19 10.5h1M24 10.5h1M36 10.5h1M46 10.5h1M53 10.5h2M61 10.5h1M85 10.5h1M104 10.5h1M114 10.5h1M125 10.5h2M134 10.5h1M136 10.5h1M157 10.5h1M160 10.5h1M162 10.5h1M185 10.5h1M200 10.5h1M204 10.5h1M2 11.5h1M37 11.5h1M49 11.5h1M76 11.5h1M93 11.5h1M95 11.5h1M98 11.5h2M110 11.5h1M113 11.5h1M122 11.5h1M127 11.5h1M130 11.5h1M137 11.5h1M151 11.5h1M155 11.5h1M201 11.5h2M38 12.5h1M60 12.5h1M67 12.5h1M70 12.5h1M72 12.5h1M84 12.5h1M103 12.5h1M134 12.5h1M170 12.5h1M186 12.5h1M189 12.5h1M16 13.5h1M21 13.5h1M26 13.5h1M32 13.5h1M46 13.5h1M86 13.5h1M90 13.5h1M96 13.5h1M99 13.5h1M105 13.5h1M126 13.5h1M130 13.5h1M134 13.5h1M148 13.5h1M154 13.5h1M192 13.5h1M203 13.5h1M0 14.5h1M10 14.5h1M20 14.5h1M40 14.5h1M53 14.5h1M55 14.5h1M102 14.5h1M108 14.5h1M111 14.5h1M133 14.5h1M181 14.5h1M32 15.5h1M40 15.5h1M58 15.5h1M68 15.5h2M71 15.5h1M73 15.5h1M80 15.5h1M82 15.5h1M86 15.5h1M91 15.5h1M93 15.5h1M96 15.5h1M98 15.5h1M121 15.5h1M132 15.5h1M160 15.5h1M166 15.5h1M176 15.5h2M6 16.5h1M20 16.5h1M33 16.5h1M49 16.5h1M54 16.5h1M56 16.5h1M93 16.5h1M96 16.5h1M107 16.5h1M124 16.5h1M133 16.5h1M157 16.5h1M165 16.5h1M167 16.5h1M188 16.5h1M197 16.5h1M21 17.5h1M39 17.5h1M43 17.5h1M71 17.5h2M89 17.5h1M91 17.5h1M111 17.5h1M167 17.5h2M190 17.5h1M21 18.5h1M38 18.5h1M43 18.5h2M46 18.5h1M51 18.5h1M68 18.5h1M77 18.5h1M99 18.5h1M109 18.5h1M142 18.5h1M148 18.5h1M181 18.5h2M184 18.5h1M186 18.5h1M192 18.5h1M25 19.5h1M33 19.5h1M38 19.5h1M53 19.5h1M75 19.5h2M87 19.5h1M100 19.5h1M108 19.5h1M111 19.5h1M117 19.5h1M120 19.5h1M128 19.5h1M133 19.5h1M135 19.5h1M138 19.5h1M148 19.5h1M199 19.5h1M2 20.5h1M14 20.5h1M38 20.5h1M58 20.5h1M61 20.5h1M73 20.5h1M76 20.5h1M96 20.5h1M110 20.5h1M117 20.5h1M123 20.5h1M142 20.5h1M157 20.5h1M192 20.5h1M1 21.5h1M10 21.5h1M14 21.5h1M29 21.5h1M59 21.5h2M69 21.5h1M81 21.5h2M92 21.5h2M102 21.5h1M155 21.5h1M180 21.5h1M198 21.5h1"/><path stroke="#f8e0e0" d="M6 0.5h1M11 0.5h1M52 0.5h1M88 0.5h1M140 0.5h1M25 1.5h1M120 1.5h1M123 1.5h2M148 1.5h1M16 2.5h1M86 2.5h1M89 2.5h1M98 2.5h1M128 2.5h1M152 2.5h2M184 2.5h1M198 2.5h1M47 3.5h1M65 3.5h1M5 4.5h1M30 4.5h1M43 4.5h1M97 4.5h1M131 4.5h1M166 4.5h1M192 4.5h1M63 5.5h1M126 5.5h1M159 5.5h1M171 5.5h1M203 5.5h1M5 6.5h1M35 6.5h1M92 6.5h1M97 6.5h1M123 6.5h1M134 6.5h1M148 6.5h1M154 6.5h1M181 6.5h1M184 6.5h1M64 8.5h1M72 8.5h1M95 8.5h2M117 8.5h1M130 8.5h1M158 8.5h1M169 8.5h1M186 8.5h1M202 8.5h1M26 9.5h1M28 9.5h1M31 9.5h1M45 9.5h1M68 9.5h1M79 9.5h1M95 9.5h1M137 9.5h1M192 9.5h1M195 9.5h1M69 10.5h1M73 10.5h1M117 10.5h1M130 10.5h1M148 10.5h1M25 11.5h2M32 11.5h1M47 11.5h1M77 11.5h1M107 11.5h1M174 11.5h2M180 11.5h1M190 11.5h1M9 12.5h1M42 12.5h1M47 12.5h1M73 12.5h1M83 12.5h1M94 12.5h1M138 12.5h1M192 12.5h1M52 13.5h1M133 13.5h1M142 13.5h2M151 13.5h2M184 13.5h1M13 14.5h1M30 14.5h1M33 14.5h1M45 14.5h1M52 14.5h1M95 14.5h1M103 14.5h1M117 14.5h1M188 14.5h1M194 14.5h1M199 14.5h1M25 15.5h1M31 15.5h1M52 15.5h1M94 15.5h1M99 15.5h1M103 15.5h1M129 15.5h1M154 15.5h1M168 15.5h1M170 15.5h1M184 15.5h1M204 15.5h1M0 16.5h1M7 16.5h1M15 16.5h1M39 16.5h1M70 16.5h1M74 16.5h1M80 16.5h1M135 16.5h1M154 16.5h1M174 16.5h1M0 17.5h1M2 17.5h1M4 17.5h1M51 17.5h1M113 17.5h1M117 17.5h1M132 17.5h1M142 17.5h1M166 17.5h1M191 17.5h1M197 17.5h1M84 18.5h1M122 18.5h1M140 18.5h1M145 18.5h1M149 18.5h1M179 18.5h1M200 18.5h1M11 19.5h1M14 19.5h1M179 19.5h1M192 19.5h1M201 19.5h1M11 20.5h1M20 20.5h1M53 20.5h1M75 20.5h1M95 20.5h1M100 20.5h1M169 20.5h1M189 20.5h1M204 20.5h1M9 21.5h1M13 21.5h1M31 21.5h1M47 21.5h1M54 21.5h1M62 21.5h1M94 21.5h1M170 21.5h2M187 21.5h1"/><path stroke="#b8c0e0" d="M7 0.5h1M64 0.5h1M128 0.5h1M200 0.5h1M190 1.5h1M35 3.5h1M40 3.5h1M170 3.5h1M18 4.5h1M154 4.5h1M90 5.5h1M97 5.5h1M7 6.5h1M20 6.5h1M81 6.5h1M114 6.5h1M120 6.5h1M12 9.5h1M32 9.5h1M35 9.5h1M58 11.5h1M39 13.5h1M170 14.5h1M1 15.5h1M72 16.5h1M63 19.5h1M26 20.5h1M148 21.5h1"/><path stroke="#f8e0e8" d="M9 0.5h1M15 0.5h1M21 0.5h1M79 0.5h1M115 0.5h1M60 1.5h2M66 1.5h1M146 1.5h1M170 1.5h1M185 1.5h1M2 2.5h1M15 2.5h1M134 2.5h1M197 2.5h1M104 3.5h1M110 3.5h1M126 3.5h1M164 3.5h1M25 4.5h1M101 4.5h1M112 4.5h1M125 4.5h1M194 4.5h1M197 4.5h1M200 4.5h1M99 5.5h1M155 5.5h1M184 5.5h1M189 5.5h2M193 5.5h1M0 6.5h1M9 6.5h1M125 6.5h1M201 6.5h1M7 7.5h1M74 8.5h1M185 8.5h1M1 9.5h1M34 9.5h1M100 9.5h1M10 10.5h1M55 10.5h1M82 10.5h1M87 10.5h1M113 10.5h1M123 10.5h1M111 11.5h1M154 11.5h1M171 11.5h1M179 11.5h1M24 12.5h1M90 12.5h1M121 12.5h1M155 12.5h1M171 12.5h1M14 13.5h1M19 13.5h1M23 13.5h1M59 13.5h1M78 13.5h1M82 13.5h1M84 13.5h1M109 13.5h1M122 13.5h1M150 13.5h1M168 13.5h1M198 13.5h1M6 14.5h1M34 14.5h1M37 14.5h1M54 14.5h1M63 14.5h1M69 14.5h1M83 14.5h1M149 14.5h1M187 14.5h1M190 14.5h1M192 14.5h1M0 15.5h1M22 15.5h1M26 15.5h1M47 15.5h1M61 15.5h1M109 15.5h1M128 15.5h1M150 15.5h1M164 15.5h1M174 15.5h1M187 15.5h1M201 15.5h1M91 16.5h1M148 16.5h1M49 17.5h1M64 17.5h1M67 17.5h1M116 17.5h1M131 17.5h1M160 17.5h1M164 17.5h1M175 17.5h1M65 18.5h1M71 18.5h1M107 18.5h1M119 18.5h1M125 18.5h1M185 18.5h1M13 19.5h1M32 19.5h1M39 19.5h1M101 19.5h1M114 19.5h1M125 19.5h1M141 19.5h1M174 19.5h1M178 19.5h1M191 19.5h1M8 20.5h1M88 20.5h1M148 20.5h1M16 21.5h1M26 21.5h1M28 21.5h1M37 21.5h1M55 21.5h1M68 21.5h1M71 21.5h1M108 21.5h1M127 21.5h1M144 21.5h1M178 21.5h1M192 21.5h1M196 21.5h1M200 21.5h1"/><path stroke="#f0c8d0" d="M14 0.5h1M72 0.5h1M121 0.5h1M181 0.5h1M190 0.5h1M199 0.5h1M202 0.5h1M176 1.5h1M52 2.5h1M82 2.5h1M158 2.5h1M164 2.5h1M203 2.5h1M193 3.5h1M71 4.5h1M163 4.5h1M8 5.5h1M33 5.5h1M45 5.5h1M93 6.5h1M197 8.5h1M11 11.5h1M65 11.5h1M157 11.5h1M31 12.5h1M140 12.5h1M62 13.5h1M171 13.5h1M4 14.5h1M50 14.5h1M88 14.5h1M99 14.5h1M104 14.5h1M153 14.5h1M41 15.5h1M49 15.5h1M56 15.5h1M66 15.5h1M84 15.5h2M155 15.5h1M68 16.5h1M88 16.5h1M106 16.5h1M131 16.5h1M169 16.5h1M141 17.5h1M146 17.5h1M184 17.5h1M194 17.5h1M2 18.5h1M102 18.5h1M133 18.5h1M27 19.5h1M93 19.5h1M96 19.5h1M152 19.5h1M172 19.5h1M190 19.5h1M200 19.5h1M57 20.5h1M66 20.5h1M102 20.5h1M133 20.5h1M152 20.5h1M190 20.5h1M196 20.5h1M84 21.5h1M115 21.5h1M120 21.5h1M146 21.5h1M168 21.5h1M188 21.5h1"/><path stroke="#a0a8d0" d="M16 0.5h1M94 0.5h1M116 0.5h1M159 0.5h1M121 2.5h1M17 3.5h1M50 3.5h1M166 3.5h1M50 6.5h1M113 6.5h1M132 9.5h1M103 10.5h1"/><path stroke="#f8f8f8" d="M17 0.5h1M22 0.5h1M27 0.5h1M45 0.5h1M48 0.5h1M70 0.5h1M78 0.5h1M86 0.5h1M89 0.5h1M111 0.5h1M114 0.5h1M134 0.5h1M176 0.5h1M183 0.5h1M194 0.5h1M197 0.5h1M0 1.5h1M8 1.5h3M16 1.5h1M35 1.5h1M53 1.5h1M57 1.5h1M65 1.5h1M87 1.5h1M89 1.5h1M94 1.5h2M98 1.5h1M125 1.5h1M132 1.5h1M161 1.5h1M188 1.5h1M198 1.5h1M204 1.5h1M6 2.5h1M14 2.5h1M17 2.5h1M27 2.5h1M38 2.5h1M51 2.5h1M74 2.5h1M117 2.5h1M138 2.5h1M155 2.5h1M159 2.5h1M195 2.5h1M12 3.5h1M15 3.5h1M20 3.5h1M37 3.5h1M45 3.5h1M97 3.5h2M120 3.5h1M141 3.5h1M146 3.5h2M153 3.5h1M167 3.5h1M180 3.5h1M197 3.5h1M12 4.5h1M81 4.5h1M113 4.5h2M123 4.5h1M129 4.5h1M133 4.5h1M135 4.5h1M145 4.5h1M156 4.5h1M162 4.5h1M167 4.5h1M173 4.5h1M176 4.5h1M2 5.5h1M48 5.5h1M58 5.5h1M75 5.5h1M78 5.5h1M80 5.5h1M103 5.5h1M110 5.5h1M124 5.5h1M127 5.5h1M133 5.5h1M142 5.5h1M148 5.5h1M150 5.5h2M197 5.5h1M25 6.5h1M53 6.5h1M101 6.5h1M135 6.5h1M161 6.5h1M163 6.5h1M169 6.5h1M15 8.5h1M19 8.5h1M22 8.5h1M37 8.5h1M69 8.5h1M93 8.5h1M113 8.5h1M123 8.5h1M136 8.5h1M149 8.5h1M170 8.5h1M193 8.5h1M3 9.5h1M40 9.5h1M53 9.5h1M67 9.5h1M70 9.5h1M110 9.5h1M113 9.5h1M123 9.5h1M126 9.5h1M158 9.5h1M189 9.5h1M201 9.5h1M32 10.5h1M37 10.5h1M39 10.5h1M58 10.5h1M67 10.5h2M72 10.5h1M77 10.5h1M79 10.5h1M112 10.5h1M135 10.5h1M167 10.5h1M170 10.5h1M182 10.5h1M184 10.5h1M1 11.5h1M35 11.5h1M41 11.5h1M55 11.5h1M72 11.5h1M79 11.5h1M87 11.5h1M97 11.5h1M100 11.5h1M105 11.5h1M120 11.5h1M139 11.5h1M145 11.5h1M170 11.5h1M184 11.5h1M187 11.5h1M8 12.5h1M11 12.5h1M15 12.5h2M29 12.5h1M76 12.5h1M80 12.5h1M109 12.5h1M114 12.5h1M145 12.5h2M163 12.5h1M175 12.5h1M191 12.5h1M11 13.5h1M28 13.5h1M40 13.5h1M47 13.5h1M100 13.5h1M201 13.5h1M17 14.5h1M26 14.5h1M32 14.5h1M38 14.5h1M42 14.5h1M97 14.5h1M106 14.5h1M115 14.5h1M124 14.5h1M131 14.5h2M174 14.5h1M179 14.5h1M184 14.5h1M13 15.5h2M29 15.5h1M33 15.5h1M38 15.5h1M50 15.5h1M53 15.5h1M78 15.5h1M133 15.5h1M135 15.5h2M148 15.5h1M188 15.5h1M92 16.5h1M99 16.5h1M109 16.5h1M171 16.5h1M175 16.5h1M185 16.5h1M203 16.5h1M47 17.5h1M63 17.5h1M78 17.5h1M127 17.5h1M135 17.5h1M147 17.5h1M178 17.5h2M181 17.5h1M187 17.5h1M198 17.5h1M12 18.5h1M49 18.5h1M64 18.5h1M78 18.5h1M93 18.5h1M101 18.5h1M103 18.5h1M114 18.5h1M130 18.5h1M178 18.5h1M183 18.5h1M189 18.5h1M12 19.5h1M21 19.5h1M41 19.5h1M62 19.5h1M73 19.5h1M97 19.5h1M109 19.5h1M123 19.5h1M137 19.5h1M151 19.5h1M169 19.5h1M175 19.5h1M184 19.5h1M196 19.5h1M1 20.5h1M6 20.5h1M23 20.5h1M39 20.5h1M52 20.5h1M67 20.5h1M90 20.5h1M92 20.5h1M111 20.5h1M113 20.5h1M127 20.5h1M146 20.5h1M168 20.5h1M172 20.5h1M25 21.5h1M48 21.5h1M76 21.5h1M106 21.5h1M162 21.5h1M167 21.5h1M173 21.5h1M175 21.5h1M202 21.5h1"/><path stroke="#d0d0e8" d="M18 0.5h1M49 0.5h1M76 0.5h1M138 0.5h1M147 0.5h1M1 1.5h1M27 1.5h1M54 1.5h1M56 1.5h1M67 1.5h1M104 1.5h1M109 1.5h1M129 1.5h1M140 1.5h1M145 1.5h1M3 2.5h1M21 2.5h1M73 2.5h1M85 2.5h1M133 2.5h1M192 2.5h1M4 3.5h1M13 3.5h1M19 3.5h1M56 3.5h1M109 3.5h1M156 3.5h1M158 3.5h2M176 3.5h1M191 3.5h1M19 4.5h1M23 4.5h1M37 4.5h1M99 4.5h1M110 4.5h2M116 4.5h1M124 4.5h1M144 4.5h1M161 4.5h1M181 4.5h1M5 5.5h1M13 5.5h2M17 5.5h1M20 5.5h1M66 5.5h1M92 5.5h1M102 5.5h1M105 5.5h1M123 5.5h1M137 5.5h1M167 5.5h1M17 6.5h1M24 6.5h1M44 6.5h1M47 6.5h1M158 6.5h1M0 8.5h1M27 8.5h1M36 8.5h1M78 8.5h1M102 8.5h1M106 8.5h1M112 8.5h1M131 8.5h1M137 8.5h1M142 8.5h1M151 8.5h1M165 8.5h1M173 8.5h1M36 9.5h1M51 9.5h1M77 9.5h1M87 9.5h1M104 9.5h1M166 9.5h1M3 10.5h1M42 10.5h1M89 10.5h1M91 10.5h1M111 10.5h1M118 10.5h1M127 10.5h1M202 10.5h1M9 11.5h2M30 11.5h1M62 11.5h1M70 11.5h1M126 11.5h1M128 11.5h1M156 11.5h1M158 11.5h1M5 12.5h1M40 12.5h1M50 12.5h1M57 12.5h1M182 12.5h1M197 12.5h1M0 13.5h1M38 13.5h1M70 13.5h1M94 13.5h1M197 13.5h1M110 14.5h1M146 14.5h1M167 14.5h1M39 15.5h1M43 15.5h1M87 15.5h1M97 16.5h1M117 16.5h1M5 17.5h1M10 17.5h1M98 17.5h1M26 18.5h1M138 18.5h1M152 18.5h1M130 19.5h1M186 19.5h1M16 20.5h1M62 20.5h1M178 20.5h1M30 21.5h1M33 21.5h1M43 21.5h1M57 21.5h1M77 21.5h1M172 21.5h1"/><path stroke="#b0b8d8" d="M19 0.5h1M166 0.5h1M4 1.5h1M12 1.5h1M114 2.5h1M21 3.5h1M139 3.5h1M201 3.5h1M9 4.5h1M13 4.5h1M52 4.5h1M57 4.5h1M19 6.5h1M40 6.5h1M104 6.5h1M80 8.5h1M2 9.5h1M22 9.5h1M74 9.5h1M89 9.5h1M16 10.5h1M86 10.5h1M131 10.5h1M73 11.5h1M83 11.5h1M116 11.5h1M149 11.5h1M182 11.5h1M193 11.5h1M115 13.5h1M120 13.5h1M147 13.5h1M21 16.5h1M43 16.5h1M193 17.5h1M103 19.5h1M167 19.5h1"/><path stroke="#f0d8d8" d="M20 0.5h1M43 0.5h1M73 0.5h1M101 0.5h1M151 0.5h1M68 1.5h1M97 1.5h1M126 1.5h1M172 1.5h1M178 1.5h1M197 1.5h1M62 2.5h1M69 2.5h1M113 2.5h1M188 2.5h1M149 3.5h1M28 4.5h1M53 4.5h1M182 4.5h1M52 5.5h1M143 5.5h1M8 6.5h1M66 6.5h1M107 6.5h1M132 6.5h1M189 6.5h1M5 8.5h1M111 8.5h1M122 8.5h1M125 8.5h3M150 8.5h1M177 8.5h1M30 9.5h1M75 9.5h1M92 9.5h1M122 9.5h1M167 9.5h1M21 10.5h1M99 10.5h1M137 10.5h1M180 10.5h1M17 11.5h1M54 11.5h1M69 11.5h1M90 11.5h1M119 11.5h1M121 11.5h1M163 11.5h1M191 11.5h1M1 12.5h1M7 12.5h1M21 12.5h2M25 12.5h1M27 12.5h1M35 12.5h1M58 12.5h1M61 12.5h1M92 12.5h1M111 12.5h1M164 12.5h1M173 12.5h1M187 12.5h1M4 13.5h1M37 13.5h1M42 13.5h1M49 13.5h1M60 13.5h1M79 13.5h1M107 13.5h1M127 13.5h1M156 13.5h1M182 13.5h1M200 13.5h1M11 14.5h1M43 14.5h1M57 14.5h1M66 14.5h1M98 14.5h1M157 14.5h1M160 14.5h1M166 14.5h1M17 15.5h1M20 15.5h1M83 15.5h1M88 15.5h1M90 15.5h1M112 15.5h1M119 15.5h1M143 15.5h1M159 15.5h1M169 15.5h1M4 16.5h1M27 16.5h2M38 16.5h1M46 16.5h1M77 16.5h1M129 16.5h1M144 16.5h1M183 16.5h1M3 17.5h1M14 17.5h1M26 17.5h1M50 17.5h1M68 17.5h1M74 17.5h1M104 17.5h1M112 17.5h1M121 17.5h1M124 17.5h1M148 17.5h1M170 17.5h1M199 17.5h1M6 18.5h1M42 18.5h1M48 18.5h1M62 18.5h1M94 18.5h1M137 18.5h1M144 18.5h1M158 18.5h1M165 18.5h3M174 18.5h1M19 19.5h1M35 19.5h1M47 19.5h1M60 19.5h1M85 19.5h1M107 19.5h1M124 19.5h1M157 19.5h1M159 19.5h1M173 19.5h1M194 19.5h1M30 20.5h1M36 20.5h1M60 20.5h1M125 20.5h1M128 20.5h1M137 20.5h1M155 20.5h1M158 20.5h1M162 20.5h1M176 20.5h1M186 20.5h1M200 20.5h1M8 21.5h1M18 21.5h1M36 21.5h1M50 21.5h1M61 21.5h1M86 21.5h1M95 21.5h1M103 21.5h1M121 21.5h1M125 21.5h1M139 21.5h1M141 21.5h1"/><path stroke="#c8d0e8" d="M25 0.5h1M29 0.5h1M56 0.5h1M61 0.5h1M124 0.5h1M156 0.5h1M32 1.5h1M84 1.5h1M113 1.5h1M43 2.5h1M46 2.5h1M71 2.5h1M76 2.5h1M92 2.5h1M97 2.5h1M171 2.5h1M2 3.5h1M63 3.5h1M90 3.5h2M95 3.5h1M111 3.5h2M137 3.5h1M10 4.5h1M26 4.5h1M32 4.5h1M79 4.5h1M136 4.5h1M149 4.5h1M180 4.5h1M4 5.5h1M7 5.5h1M65 5.5h1M73 5.5h1M88 5.5h1M104 5.5h1M132 5.5h1M201 5.5h1M10 6.5h1M16 6.5h1M29 6.5h1M42 6.5h1M98 6.5h1M121 6.5h1M198 6.5h1M12 8.5h1M30 8.5h1M56 8.5h1M182 8.5h1M204 8.5h1M38 9.5h1M73 9.5h1M93 9.5h1M168 9.5h1M2 10.5h1M5 10.5h1M8 10.5h1M12 10.5h1M124 10.5h1M194 10.5h1M3 11.5h1M80 11.5h1M82 11.5h1M104 11.5h1M118 11.5h1M123 11.5h1M132 11.5h1M39 12.5h1M157 12.5h1M101 13.5h1M139 15.5h1M146 15.5h1M11 16.5h1M57 16.5h1M33 17.5h1M52 17.5h1M92 17.5h1M115 18.5h1M121 20.5h1M163 20.5h1M53 21.5h1"/><path stroke="#d0d8e8" d="M31 0.5h1M35 0.5h1M161 0.5h1M177 0.5h1M29 1.5h1M50 1.5h1M135 1.5h1M4 2.5h1M20 2.5h1M25 2.5h1M34 2.5h1M40 2.5h1M161 2.5h1M6 3.5h1M25 3.5h1M49 3.5h1M53 3.5h1M55 3.5h1M76 3.5h1M78 3.5h1M94 3.5h1M119 3.5h1M130 3.5h1M134 3.5h1M173 3.5h1M38 4.5h1M94 4.5h1M165 4.5h1M21 5.5h1M42 5.5h1M79 5.5h1M130 5.5h2M149 5.5h1M188 5.5h1M204 5.5h1M23 6.5h1M59 6.5h1M65 6.5h1M90 6.5h1M103 6.5h1M143 6.5h1M157 6.5h1M200 6.5h1M24 8.5h1M61 8.5h1M91 8.5h1M110 8.5h1M114 8.5h1M119 8.5h1M138 8.5h1M200 8.5h1M5 9.5h2M8 9.5h1M10 9.5h1M14 9.5h1M111 9.5h1M196 9.5h1M56 10.5h1M66 10.5h1M105 10.5h1M152 10.5h1M161 10.5h1M165 10.5h1M36 11.5h1M136 11.5h1M152 11.5h1M172 11.5h1M196 11.5h2M203 12.5h1M30 13.5h1M41 13.5h1M57 13.5h1M29 14.5h1M82 14.5h1M180 14.5h1M64 15.5h1M197 15.5h1M52 16.5h1M78 16.5h1M108 16.5h1M151 16.5h1M180 16.5h1M15 17.5h1M44 17.5h1M134 17.5h1M98 18.5h1M156 18.5h1M65 19.5h1M72 19.5h1M180 19.5h1M5 20.5h1M68 20.5h1"/><path stroke="#f8f0f8" d="M34 0.5h1M46 0.5h1M93 0.5h1M102 0.5h2M143 0.5h1M2 1.5h1M14 1.5h1M70 1.5h1M106 1.5h1M166 1.5h1M108 2.5h1M112 2.5h1M129 2.5h1M172 2.5h1M74 3.5h1M105 3.5h1M161 3.5h1M40 4.5h1M61 4.5h1M100 4.5h1M103 4.5h1M183 4.5h1M70 5.5h2M135 5.5h1M152 5.5h1M186 5.5h1M11 6.5h2M21 6.5h1M28 6.5h1M38 6.5h1M55 6.5h1M67 6.5h1M153 6.5h1M191 6.5h1M25 8.5h1M43 8.5h2M124 8.5h1M183 8.5h1M192 8.5h1M21 9.5h1M82 9.5h1M135 9.5h1M149 9.5h1M186 9.5h1M203 9.5h1M96 10.5h1M106 10.5h1M140 10.5h1M19 11.5h1M71 12.5h1M99 12.5h1M107 12.5h2M115 12.5h1M158 12.5h1M176 12.5h1M8 13.5h2M87 13.5h1M113 13.5h1M121 13.5h1M144 13.5h1M155 13.5h1M21 14.5h1M47 14.5h1M59 14.5h1M68 14.5h1M86 14.5h1M176 14.5h1M200 14.5h1M92 15.5h1M199 15.5h1M203 15.5h1M14 16.5h1M75 16.5h1M83 16.5h2M123 16.5h1M31 17.5h1M99 17.5h1M129 17.5h1M156 17.5h1M159 17.5h1M195 17.5h1M204 17.5h1M22 18.5h1M25 18.5h1M63 18.5h1M96 18.5h1M100 18.5h1M141 18.5h1M173 18.5h1M3 19.5h1M8 19.5h1M43 19.5h1M74 19.5h1M89 19.5h1M176 19.5h1M10 20.5h1M15 20.5h1M17 20.5h2M31 20.5h1M167 20.5h1M185 20.5h1M198 20.5h1M143 21.5h1M179 21.5h1"/><path stroke="#a8b0d0" d="M37 0.5h1M42 0.5h1M116 2.5h1M165 2.5h1M168 2.5h1M3 3.5h1M29 4.5h1M0 5.5h1M81 5.5h1M172 6.5h1M49 10.5h1"/><path stroke="#b8c0d8" d="M38 0.5h1M53 0.5h1M20 1.5h1M63 2.5h1M99 2.5h1M18 5.5h1M179 5.5h1M62 6.5h1M20 8.5h1M68 8.5h1M167 8.5h1M19 9.5h1M27 10.5h1M63 10.5h1M98 10.5h1M81 11.5h1M85 11.5h1M112 11.5h1M186 15.5h1M32 16.5h1M197 19.5h1"/><path stroke="#c8c8e0" d="M39 0.5h1M118 0.5h1M154 0.5h1M36 1.5h1M43 1.5h1M91 1.5h1M164 1.5h1M22 2.5h1M104 2.5h1M118 2.5h1M157 2.5h1M183 2.5h1M11 3.5h1M44 3.5h1M72 3.5h1M80 3.5h1M88 3.5h1M106 3.5h1M174 3.5h1M6 4.5h1M47 4.5h1M95 4.5h1M24 5.5h1M51 5.5h1M41 6.5h1M85 6.5h1M128 6.5h1M147 6.5h1M202 6.5h1M9 8.5h1M13 8.5h1M20 9.5h1M49 9.5h1M80 9.5h1M90 9.5h1M98 9.5h1M159 9.5h1M200 9.5h1M108 10.5h1M166 10.5h1M190 10.5h1M23 11.5h2M29 11.5h1M102 11.5h1M138 11.5h1M199 11.5h1M124 13.5h1M160 13.5h1M22 14.5h1M202 14.5h1M144 15.5h1M53 16.5h1M37 19.5h1M64 19.5h1M82 20.5h1M45 21.5h1M186 21.5h1"/><path stroke="#f8e8e8" d="M40 0.5h1M107 0.5h1M126 0.5h1M37 1.5h1M77 1.5h1M80 1.5h1M99 1.5h1M103 1.5h1M128 1.5h1M136 1.5h1M138 1.5h1M147 1.5h1M157 1.5h1M163 1.5h1M179 1.5h1M200 1.5h1M59 3.5h1M81 3.5h1M114 3.5h1M184 3.5h2M1 4.5h1M69 4.5h1M159 4.5h1M19 5.5h1M23 5.5h1M43 5.5h1M50 5.5h1M56 5.5h1M72 5.5h1M84 5.5h1M182 5.5h1M185 5.5h1M1 6.5h1M43 6.5h1M86 6.5h1M166 6.5h1M185 6.5h1M192 6.5h1M49 8.5h1M52 8.5h1M62 8.5h1M88 8.5h1M105 8.5h1M134 8.5h1M144 8.5h1M157 8.5h1M160 8.5h1M188 8.5h1M190 8.5h1M9 9.5h1M25 9.5h1M72 9.5h1M81 9.5h1M117 9.5h2M152 9.5h1M161 9.5h1M177 9.5h1M1 10.5h1M9 10.5h1M34 10.5h1M45 10.5h1M60 10.5h1M75 10.5h2M107 10.5h1M145 10.5h1M147 10.5h1M153 10.5h2M181 10.5h1M195 10.5h1M21 11.5h1M34 11.5h1M42 11.5h2M53 11.5h1M60 11.5h1M103 11.5h1M131 11.5h1M142 11.5h1M198 11.5h1M2 12.5h1M17 12.5h1M33 12.5h1M49 12.5h1M64 12.5h1M149 12.5h1M156 12.5h1M161 12.5h1M185 12.5h1M190 12.5h1M198 12.5h1M1 13.5h2M22 13.5h1M29 13.5h1M35 13.5h1M44 13.5h1M51 13.5h1M69 13.5h1M102 13.5h1M106 13.5h1M129 13.5h1M149 13.5h1M169 13.5h1M173 13.5h1M180 13.5h1M39 14.5h1M56 14.5h1M67 14.5h1M94 14.5h1M127 14.5h1M129 14.5h2M136 14.5h1M30 15.5h1M51 15.5h1M74 15.5h1M123 15.5h1M141 15.5h2M157 15.5h1M163 15.5h1M193 15.5h1M200 15.5h1M85 16.5h1M94 16.5h1M100 16.5h1M103 16.5h1M128 16.5h1M181 16.5h1M189 16.5h1M1 17.5h1M20 17.5h1M28 17.5h1M40 17.5h1M75 17.5h1M100 17.5h1M102 17.5h1M105 17.5h1M114 17.5h1M139 17.5h1M155 17.5h1M185 17.5h1M200 17.5h1M0 18.5h1M11 18.5h1M14 18.5h1M19 18.5h1M47 18.5h1M67 18.5h1M79 18.5h1M82 18.5h2M89 18.5h1M111 18.5h1M188 18.5h1M6 19.5h1M10 19.5h1M16 19.5h1M42 19.5h1M51 19.5h2M54 19.5h1M67 19.5h1M112 19.5h2M155 19.5h1M181 19.5h1M12 20.5h1M24 20.5h1M51 20.5h1M63 20.5h1M79 20.5h1M120 20.5h1M129 20.5h3M154 20.5h1M156 20.5h1M160 20.5h1M0 21.5h1M11 21.5h1M19 21.5h1M22 21.5h1M44 21.5h1M56 21.5h1M79 21.5h1M89 21.5h1M99 21.5h1M119 21.5h1M124 21.5h1M147 21.5h1M149 21.5h1M151 21.5h1M161 21.5h1M164 21.5h1M174 21.5h1M181 21.5h2M189 21.5h1M197 21.5h1"/><path stroke="#e8f0f8" d="M41 0.5h1M66 0.5h1M109 0.5h1M122 0.5h1M141 0.5h1M30 1.5h1M116 1.5h1M201 1.5h1M26 2.5h1M80 2.5h1M88 2.5h1M119 2.5h1M123 2.5h1M177 2.5h1M14 3.5h1M27 3.5h1M46 3.5h1M132 3.5h1M59 4.5h1M10 5.5h1M46 5.5h1M106 5.5h1M119 5.5h1M75 6.5h1M100 6.5h1M174 6.5h1M196 6.5h1M25 7.5h1M33 7.5h2M45 7.5h1M51 7.5h1M99 7.5h2M113 7.5h1M204 7.5h1M1 8.5h1M75 8.5h1M101 8.5h1M159 8.5h1M166 8.5h1M139 9.5h1M182 9.5h1M198 9.5h1M43 10.5h1M116 10.5h1M138 10.5h1M163 10.5h1M186 10.5h1M22 11.5h1M31 11.5h1M92 11.5h1M168 11.5h1M203 11.5h1M77 12.5h1M97 12.5h1M76 15.5h1M82 17.5h1M139 18.5h1M143 18.5h1M110 19.5h1M182 20.5h1M24 21.5h1M113 21.5h1M117 21.5h1"/><path stroke="#d8e0e8" d="M47 0.5h1M63 0.5h1M18 1.5h1M111 1.5h1M184 1.5h1M4 4.5h1M153 5.5h1M48 6.5h1M18 9.5h1M102 9.5h1M141 10.5h1M174 10.5h1M94 11.5h1M86 12.5h1M147 15.5h1M41 16.5h1M142 16.5h1M132 18.5h1M199 20.5h1M126 21.5h1"/><path stroke="#e0e0f0" d="M51 0.5h1M90 0.5h1M92 0.5h1M100 0.5h1M105 0.5h1M108 0.5h1M144 0.5h1M149 0.5h1M168 0.5h1M174 0.5h1M182 0.5h1M191 0.5h1M13 1.5h1M15 1.5h1M21 1.5h1M34 1.5h1M64 1.5h1M76 1.5h1M90 1.5h1M107 1.5h1M117 1.5h1M167 1.5h1M169 1.5h1M173 1.5h1M191 1.5h1M194 1.5h1M196 1.5h1M199 1.5h1M23 2.5h1M35 2.5h2M67 2.5h1M100 2.5h1M137 2.5h1M146 2.5h1M151 2.5h1M160 2.5h1M166 2.5h1M18 3.5h1M28 3.5h1M51 3.5h1M57 3.5h1M62 3.5h1M67 3.5h1M69 3.5h1M101 3.5h2M118 3.5h1M129 3.5h1M131 3.5h1M143 3.5h1M157 3.5h1M178 3.5h2M189 3.5h1M14 4.5h1M39 4.5h1M50 4.5h1M58 4.5h1M62 4.5h1M127 4.5h1M138 4.5h1M164 4.5h1M171 4.5h1M174 4.5h1M186 4.5h1M204 4.5h1M22 5.5h1M34 5.5h1M67 5.5h1M83 5.5h1M115 5.5h1M128 5.5h1M134 5.5h1M145 5.5h1M173 5.5h1M175 5.5h1M177 5.5h1M22 6.5h1M45 6.5h1M49 6.5h1M60 6.5h1M91 6.5h1M96 6.5h1M99 6.5h1M106 6.5h1M119 6.5h1M150 6.5h1M155 6.5h1M164 6.5h1M168 6.5h1M171 6.5h1M178 6.5h1M204 6.5h1M6 7.5h1M20 7.5h1M74 7.5h1M76 7.5h1M79 7.5h1M94 7.5h1M102 7.5h1M132 7.5h1M148 7.5h1M161 7.5h1M175 7.5h1M181 7.5h1M189 7.5h1M196 7.5h1M198 7.5h1M7 8.5h1M18 8.5h1M29 8.5h1M33 8.5h1M45 8.5h1M53 8.5h2M63 8.5h1M79 8.5h1M115 8.5h1M133 8.5h1M189 8.5h1M191 8.5h1M194 8.5h1M199 8.5h1M17 9.5h1M43 9.5h1M71 9.5h1M97 9.5h1M105 9.5h1M114 9.5h1M133 9.5h1M136 9.5h1M160 9.5h1M18 10.5h1M29 10.5h1M38 10.5h1M48 10.5h1M51 10.5h1M59 10.5h1M65 10.5h1M84 10.5h1M90 10.5h1M143 10.5h2M149 10.5h2M155 10.5h1M192 10.5h1M197 10.5h1M5 11.5h1M59 11.5h1M63 11.5h2M66 11.5h1M71 11.5h1M96 11.5h1M109 11.5h1M114 11.5h1M147 11.5h1M162 11.5h1M169 11.5h1M195 11.5h1M132 12.5h2M172 12.5h1M180 12.5h1M184 12.5h1M195 12.5h1M43 13.5h1M45 13.5h1M71 13.5h1M112 13.5h1M140 13.5h1M204 13.5h1M8 14.5h1M16 14.5h1M18 14.5h1M80 14.5h1M101 14.5h1M113 14.5h1M121 14.5h1M123 14.5h1M147 14.5h1M169 14.5h1M6 15.5h1M15 15.5h1M28 15.5h1M116 15.5h1M120 15.5h1M16 16.5h1M44 16.5h2M69 16.5h1M82 16.5h1M110 16.5h2M137 16.5h1M160 16.5h1M178 16.5h1M186 16.5h1M58 17.5h1M60 17.5h1M77 17.5h1M86 17.5h1M119 17.5h1M125 17.5h1M172 17.5h1M56 18.5h1M86 18.5h1M91 18.5h1M112 18.5h1M116 18.5h1M154 18.5h1M203 18.5h1M0 19.5h1M59 19.5h1M68 19.5h2M91 19.5h1M106 19.5h1M121 19.5h1M43 20.5h1M72 20.5h1M103 20.5h1M115 20.5h1M135 20.5h1M166 20.5h1M181 20.5h1M193 20.5h1M70 21.5h1M80 21.5h1M110 21.5h1M203 21.5h1"/><path stroke="#a8b0d8" d="M54 0.5h1M153 0.5h1M154 1.5h1M18 2.5h1M175 2.5h1M187 2.5h1M200 2.5h1M16 3.5h1M142 3.5h1M2 4.5h1M48 4.5h1M134 4.5h1M163 5.5h1M68 6.5h1M80 6.5h1M102 6.5h1M118 6.5h1M13 10.5h1M162 14.5h1M10 16.5h1M60 18.5h1M5 21.5h1"/><path stroke="#c8d0e0" d="M57 0.5h1M19 1.5h1M92 1.5h1M118 1.5h1M48 2.5h1M109 2.5h1M42 3.5h1M64 4.5h1M151 4.5h1M68 5.5h1M73 6.5h1M16 8.5h1M162 8.5h1M129 9.5h1M12 11.5h1M16 11.5h1M55 13.5h1M198 15.5h1M34 17.5h1M30 18.5h1M116 19.5h1"/><path stroke="#f0f8f8" d="M62 0.5h1M131 1.5h1M145 2.5h1M92 3.5h1M163 3.5h1M204 3.5h1M156 5.5h1M78 11.5h1M65 12.5h1M63 16.5h1M86 16.5h1M65 17.5h1M171 17.5h1M71 19.5h1M82 19.5h1M106 20.5h1M116 20.5h1"/><path stroke="#f0b8b8" d="M65 0.5h1M162 0.5h1M168 1.5h1M64 2.5h1M96 2.5h1M127 3.5h1M202 4.5h1M70 6.5h1M149 6.5h1M147 9.5h1M154 9.5h1M175 9.5h2M28 10.5h1M164 10.5h1M176 10.5h1M188 10.5h1M39 11.5h1M167 11.5h1M93 12.5h1M104 12.5h1M135 12.5h1M162 12.5h1M174 12.5h1M20 13.5h1M68 13.5h1M72 13.5h2M199 13.5h1M79 14.5h1M81 14.5h1M118 14.5h1M48 15.5h1M104 15.5h1M195 15.5h1M61 16.5h1M173 16.5h1M200 16.5h1M12 17.5h1M24 17.5h1M48 17.5h1M97 17.5h1M110 17.5h1M176 17.5h1M182 17.5h1M8 18.5h1M34 18.5h1M58 18.5h1M75 18.5h2M97 18.5h1M127 18.5h1M135 18.5h1M164 18.5h1M80 19.5h1M92 19.5h1M185 19.5h1M40 20.5h1M69 20.5h1M165 20.5h1M130 21.5h1M137 21.5h1"/><path stroke="#c0c0e0" d="M69 0.5h1M79 1.5h1M1 2.5h1M33 2.5h1M50 2.5h1M94 2.5h1M141 2.5h1M73 3.5h1M171 3.5h1M83 4.5h1M93 4.5h1M53 5.5h1M59 5.5h1M2 6.5h1M37 6.5h1M74 6.5h1M170 6.5h1M176 6.5h1M14 8.5h1M153 8.5h1M174 8.5h1M42 9.5h1M7 10.5h1M151 10.5h1M158 10.5h1M117 11.5h1M56 12.5h1M88 12.5h1M115 16.5h1M203 17.5h1M33 18.5h1M92 18.5h1M146 19.5h1"/><path stroke="#f0a0a0" d="M75 0.5h1M70 2.5h1M141 11.5h1M129 12.5h1M48 13.5h1M135 13.5h1M175 13.5h1M48 14.5h1M138 15.5h1M149 15.5h1M194 15.5h1M37 16.5h1M66 16.5h1M199 16.5h1M83 17.5h1M150 19.5h1M27 20.5h1M177 20.5h1M180 20.5h1M107 21.5h1M190 21.5h1"/><path stroke="#f0d0d0" d="M82 0.5h1M145 0.5h1M169 0.5h1M171 0.5h1M6 1.5h1M78 1.5h1M195 1.5h1M72 2.5h1M174 2.5h1M52 3.5h1M96 3.5h1M177 3.5h1M199 3.5h1M139 4.5h1M112 5.5h1M154 5.5h1M181 5.5h1M200 5.5h1M52 6.5h1M115 6.5h2M126 6.5h1M199 6.5h1M203 6.5h1M156 7.5h1M65 8.5h1M120 9.5h1M144 9.5h1M183 9.5h1M168 10.5h1M144 11.5h1M28 12.5h1M51 12.5h1M53 12.5h1M74 12.5h1M79 12.5h1M95 12.5h1M117 12.5h1M141 12.5h1M10 13.5h1M64 13.5h1M77 13.5h1M118 13.5h1M131 13.5h1M178 13.5h1M7 14.5h1M27 14.5h1M41 14.5h1M154 14.5h1M158 14.5h1M165 14.5h1M201 14.5h1M3 15.5h1M7 15.5h1M10 15.5h1M35 15.5h1M54 15.5h1M62 15.5h1M89 15.5h1M97 15.5h1M102 15.5h1M165 15.5h1M181 15.5h1M190 15.5h1M13 16.5h1M17 16.5h1M23 16.5h1M47 16.5h1M60 16.5h1M81 16.5h1M139 16.5h1M153 16.5h1M177 16.5h1M192 16.5h1M201 16.5h1M23 17.5h1M54 17.5h1M88 17.5h1M94 17.5h1M96 17.5h1M154 17.5h1M158 17.5h1M165 17.5h1M173 17.5h1M183 17.5h1M41 18.5h1M54 18.5h1M126 18.5h1M136 18.5h1M155 18.5h1M177 18.5h1M193 18.5h1M202 18.5h1M15 19.5h1M48 19.5h1M58 19.5h1M102 19.5h1M170 19.5h1M188 19.5h1M195 19.5h1M9 20.5h1M34 20.5h1M55 20.5h1M81 20.5h1M87 20.5h1M108 20.5h1M161 20.5h1M174 20.5h1M183 20.5h1M23 21.5h1M51 21.5h1M65 21.5h1M114 21.5h1M122 21.5h1M152 21.5h1M199 21.5h1"/><path stroke="#e0e8f0" d="M83 0.5h1M132 0.5h1M173 0.5h1M193 0.5h1M198 0.5h1M26 1.5h1M62 1.5h2M112 1.5h1M121 1.5h1M133 1.5h1M160 1.5h1M11 2.5h1M136 2.5h1M139 2.5h1M201 2.5h1M204 2.5h1M154 3.5h1M188 3.5h1M17 4.5h1M54 4.5h1M63 4.5h1M74 4.5h3M102 4.5h1M119 4.5h1M126 4.5h1M198 4.5h1M1 5.5h1M62 5.5h1M82 5.5h1M114 5.5h1M121 5.5h1M18 6.5h1M63 6.5h1M110 6.5h1M137 6.5h2M26 7.5h1M39 7.5h1M44 7.5h1M49 7.5h1M53 7.5h1M59 7.5h1M69 7.5h1M72 7.5h1M82 7.5h2M106 7.5h4M114 7.5h1M120 7.5h1M122 7.5h1M128 7.5h3M154 7.5h1M162 7.5h1M167 7.5h1M174 7.5h1M191 7.5h1M195 7.5h1M200 7.5h1M66 8.5h1M87 8.5h1M129 8.5h1M147 8.5h1M154 8.5h1M0 9.5h1M11 9.5h1M33 9.5h1M46 9.5h1M52 9.5h1M61 9.5h1M84 9.5h1M156 9.5h2M80 10.5h1M101 10.5h1M8 11.5h1M13 11.5h1M40 11.5h1M84 11.5h1M86 11.5h1M150 11.5h1M183 11.5h1M186 11.5h1M26 12.5h1M130 12.5h1M97 13.5h1M136 13.5h1M190 13.5h1M93 14.5h1M5 15.5h1M21 15.5h1M23 15.5h1M79 15.5h1M175 15.5h1M116 16.5h1M153 17.5h1M32 18.5h1M161 18.5h1M169 18.5h1M134 19.5h1M3 20.5h1M25 20.5h1M78 20.5h1M109 20.5h1M153 20.5h1M78 21.5h1M111 21.5h1"/><path stroke="#b0b0d8" d="M85 0.5h1M99 3.5h1"/><path stroke="#b8b8d8" d="M98 0.5h1M9 2.5h1M44 4.5h1M172 4.5h1M37 5.5h1M54 9.5h1M50 10.5h1M147 12.5h1M96 21.5h1"/><path stroke="#f0d0d8" d="M106 0.5h1M112 0.5h1M120 0.5h1M170 0.5h1M189 0.5h1M115 1.5h1M174 1.5h1M53 2.5h1M79 2.5h1M42 4.5h1M60 4.5h1M169 4.5h1M85 5.5h1M147 5.5h1M77 6.5h1M82 6.5h1M71 8.5h1M94 8.5h1M48 9.5h1M58 9.5h1M107 9.5h1M179 9.5h1M14 10.5h1M129 10.5h1M146 10.5h1M75 11.5h1M148 11.5h1M3 12.5h1M23 12.5h1M55 12.5h1M59 12.5h1M63 12.5h1M98 12.5h1M124 12.5h1M128 12.5h1M148 12.5h1M168 12.5h1M202 12.5h1M36 13.5h1M65 13.5h1M74 13.5h1M24 14.5h1M31 14.5h1M51 14.5h1M75 14.5h1M84 14.5h1M148 14.5h1M182 14.5h1M44 15.5h1M100 15.5h1M110 15.5h1M152 15.5h1M156 15.5h1M179 15.5h1M19 16.5h1M48 16.5h1M79 16.5h1M101 16.5h1M105 16.5h1M113 16.5h1M130 16.5h1M17 17.5h1M25 17.5h1M79 17.5h1M85 17.5h1M101 17.5h1M108 17.5h1M133 17.5h1M157 17.5h1M192 17.5h1M3 18.5h1M20 18.5h1M24 18.5h1M53 18.5h1M72 18.5h1M104 18.5h1M106 18.5h1M118 18.5h1M123 18.5h1M146 18.5h1M153 18.5h1M194 18.5h1M197 18.5h1M7 19.5h1M34 19.5h1M95 19.5h1M119 19.5h1M129 19.5h1M131 19.5h1M160 19.5h1M0 20.5h1M59 20.5h1M77 20.5h1M80 20.5h1M58 21.5h1M66 21.5h1M105 21.5h1M140 21.5h1M157 21.5h1M201 21.5h1"/><path stroke="#f0b8c0" d="M119 0.5h1M125 0.5h1M203 0.5h1M69 1.5h1M180 1.5h1M203 1.5h1M193 2.5h1M26 5.5h1M144 6.5h1M90 8.5h1M184 8.5h1M109 9.5h1M25 10.5h1M19 12.5h1M43 12.5h1M46 12.5h1M112 12.5h1M118 12.5h1M122 12.5h1M183 12.5h1M92 13.5h1M95 13.5h1M139 13.5h1M145 13.5h1M194 13.5h1M202 13.5h1M23 14.5h1M25 14.5h1M142 14.5h2M16 15.5h1M24 16.5h1M35 16.5h1M67 16.5h1M90 16.5h1M138 16.5h1M143 16.5h1M172 16.5h1M18 17.5h1M37 17.5h1M128 17.5h1M150 17.5h1M152 17.5h1M36 18.5h1M66 18.5h1M74 18.5h1M110 18.5h1M172 18.5h1M176 18.5h1M190 18.5h1M40 19.5h1M122 19.5h1M139 19.5h1M187 19.5h1M44 20.5h1M47 20.5h1M98 20.5h1M145 20.5h1M187 20.5h1M201 20.5h1M83 21.5h1M138 21.5h1M195 21.5h1"/><path stroke="#e8e8f8" d="M127 0.5h1M56 2.5h1M121 4.5h1M122 6.5h1M9 7.5h1M13 7.5h1M21 7.5h1M37 7.5h1M58 7.5h1M63 7.5h1M80 7.5h1M89 7.5h1M103 7.5h1M135 7.5h1M173 7.5h1M182 7.5h1M81 8.5h1M109 8.5h1M174 9.5h1M184 9.5h1M199 9.5h1M50 11.5h1M192 11.5h1M126 12.5h1M141 13.5h1M162 16.5h1M7 17.5h1M145 17.5h1M29 18.5h1M105 18.5h1M142 21.5h1"/><path stroke="#f8e8f0" d="M130 0.5h1M158 0.5h1M160 0.5h1M185 0.5h1M33 1.5h1M40 1.5h1M110 1.5h1M139 1.5h1M187 1.5h1M192 1.5h2M13 2.5h1M32 2.5h1M87 2.5h1M143 2.5h1M149 2.5h1M202 2.5h1M93 3.5h1M117 3.5h1M138 3.5h1M175 3.5h1M181 3.5h2M107 4.5h1M142 4.5h1M157 4.5h1M185 4.5h1M190 4.5h1M196 4.5h1M203 4.5h1M11 5.5h1M16 5.5h1M32 5.5h1M129 5.5h1M146 5.5h1M160 5.5h1M168 5.5h1M172 5.5h1M187 5.5h1M199 5.5h1M51 6.5h1M78 6.5h1M94 6.5h1M140 6.5h1M156 6.5h1M23 8.5h1M28 8.5h1M31 8.5h1M50 8.5h1M100 8.5h1M104 8.5h1M143 8.5h1M148 8.5h1M163 8.5h1M101 9.5h1M116 9.5h1M124 9.5h1M146 9.5h1M153 9.5h1M163 9.5h1M185 9.5h1M0 10.5h1M41 10.5h1M119 10.5h1M183 10.5h1M48 11.5h1M124 11.5h1M166 11.5h1M178 11.5h1M4 12.5h1M13 12.5h1M62 12.5h1M113 12.5h1M199 12.5h1M12 13.5h1M24 13.5h1M34 13.5h1M88 13.5h1M91 13.5h1M116 13.5h1M125 13.5h1M132 13.5h1M164 13.5h1M166 13.5h1M191 13.5h1M71 14.5h1M96 14.5h1M100 14.5h1M116 14.5h1M134 14.5h2M141 14.5h1M178 14.5h1M195 14.5h1M42 15.5h1M81 15.5h1M106 15.5h1M172 15.5h1M183 15.5h1M30 16.5h1M50 16.5h1M132 16.5h1M134 16.5h1M141 16.5h1M152 16.5h1M193 16.5h2M29 17.5h1M35 17.5h1M45 17.5h1M106 17.5h1M123 17.5h1M180 17.5h1M189 17.5h1M39 18.5h1M57 18.5h1M108 18.5h1M191 18.5h1M196 18.5h1M2 19.5h1M56 19.5h1M145 19.5h1M153 19.5h1M22 20.5h1M54 20.5h1M86 20.5h1M139 20.5h1M184 20.5h1M197 20.5h1M3 21.5h1M32 21.5h1M42 21.5h1M88 21.5h1M100 21.5h1M116 21.5h1M136 21.5h1M145 21.5h1M153 21.5h1"/><path stroke="#f8d8e0" d="M136 0.5h1M41 1.5h1M114 1.5h1M171 1.5h1M29 2.5h1M47 2.5h1M142 2.5h1M167 2.5h1M178 2.5h2M194 2.5h1M77 3.5h1M190 3.5h1M192 3.5h1M65 4.5h1M76 5.5h1M91 5.5h1M94 5.5h1M118 5.5h1M164 5.5h1M151 6.5h1M88 7.5h1M39 8.5h1M15 10.5h1M47 10.5h1M93 10.5h1M172 10.5h1M52 11.5h1M57 11.5h1M140 11.5h1M200 11.5h1M87 12.5h1M151 12.5h1M160 12.5h1M194 12.5h1M17 13.5h1M50 13.5h1M67 13.5h1M81 13.5h1M114 13.5h1M167 13.5h1M193 13.5h1M119 14.5h1M128 14.5h1M156 14.5h1M164 14.5h1M191 14.5h1M36 15.5h1M77 15.5h1M127 15.5h1M145 15.5h1M153 15.5h1M178 15.5h1M202 15.5h1M25 16.5h1M29 16.5h1M42 16.5h1M58 16.5h2M89 16.5h1M104 16.5h1M120 16.5h1M147 16.5h1M168 16.5h1M187 16.5h1M19 17.5h1M61 17.5h1M76 17.5h1M162 17.5h1M4 18.5h1M95 18.5h1M121 18.5h1M180 18.5h1M198 18.5h2M201 18.5h1M204 18.5h1M1 19.5h1M136 19.5h1M143 19.5h1M193 19.5h1M41 20.5h1M85 20.5h1M118 20.5h1M124 20.5h1M132 20.5h1M188 20.5h1M7 21.5h1M35 21.5h1M41 21.5h1M123 21.5h1M154 21.5h1"/><path stroke="#f0b0b8" d="M146 0.5h1M10 2.5h1M101 2.5h1M126 2.5h1M29 5.5h1M186 6.5h1M179 8.5h1M76 9.5h1M115 9.5h1M179 12.5h1M200 12.5h1M53 13.5h1M138 13.5h1M195 13.5h1M14 14.5h1M61 14.5h1M85 14.5h1M140 14.5h1M193 14.5h1M118 15.5h1M173 15.5h1M189 15.5h1M119 16.5h1M136 17.5h1M149 17.5h1M70 18.5h1M85 18.5h1M4 19.5h1M49 19.5h1M163 19.5h1M45 20.5h1M46 21.5h1M101 21.5h1M193 21.5h1"/><path stroke="#f0c8c8" d="M148 0.5h1M165 0.5h1M167 0.5h1M108 1.5h1M30 2.5h1M41 2.5h1M124 2.5h1M140 2.5h1M176 2.5h1M123 3.5h1M115 4.5h1M196 5.5h1M109 6.5h1M34 8.5h1M138 9.5h1M165 9.5h1M193 9.5h1M121 10.5h1M139 10.5h1M33 11.5h1M125 11.5h1M134 11.5h1M36 12.5h1M44 12.5h1M82 12.5h1M152 12.5h1M204 12.5h1M128 13.5h1M161 13.5h1M165 13.5h1M170 13.5h1M187 13.5h1M44 14.5h1M70 14.5h1M120 14.5h1M122 14.5h1M159 14.5h1M204 14.5h1M2 15.5h1M59 15.5h1M65 15.5h1M105 15.5h1M115 15.5h1M126 15.5h1M131 15.5h1M167 15.5h1M3 16.5h1M40 16.5h1M161 16.5h1M163 16.5h1M176 16.5h1M191 16.5h1M196 16.5h1M27 17.5h1M42 17.5h1M80 17.5h1M118 17.5h1M161 17.5h1M163 17.5h1M188 17.5h1M196 17.5h1M27 18.5h1M61 18.5h1M160 18.5h1M171 18.5h1M175 18.5h1M195 18.5h1M46 19.5h1M90 19.5h1M189 19.5h1M203 19.5h2M13 20.5h1M35 20.5h1M46 20.5h1M48 20.5h1M89 20.5h1M99 20.5h1M150 20.5h1M164 20.5h1M2 21.5h1M4 21.5h1M63 21.5h1M67 21.5h1M98 21.5h1M112 21.5h1M129 21.5h1M158 21.5h1M204 21.5h1"/><path stroke="#f0c0c8" d="M178 0.5h1M188 0.5h1M52 1.5h1M115 2.5h1M85 3.5h1M165 3.5h1M179 4.5h1M195 4.5h1M180 6.5h1M92 8.5h1M66 9.5h1M130 9.5h1M23 10.5h1M6 11.5h1M185 11.5h1M34 12.5h1M91 12.5h1M116 12.5h1M188 12.5h1M201 12.5h1M183 13.5h1M49 14.5h1M76 14.5h1M89 14.5h1M168 14.5h1M9 15.5h1M75 15.5h1M107 15.5h2M124 15.5h1M2 16.5h1M12 16.5h1M22 16.5h1M87 16.5h1M102 16.5h1M127 16.5h1M156 16.5h1M184 16.5h1M202 16.5h1M59 17.5h1M73 17.5h1M174 17.5h1M81 18.5h1M113 18.5h1M170 18.5h1M9 19.5h1M164 19.5h1M166 19.5h1M202 19.5h1M21 20.5h1M50 20.5h1M64 20.5h1M119 20.5h1M122 20.5h1M151 20.5h1M27 21.5h1M184 21.5h1"/><path stroke="#98a0d0" d="M22 1.5h1M61 2.5h1M83 3.5h1M31 5.5h1"/><path stroke="#f0c0c0" d="M38 1.5h1M42 1.5h1M180 2.5h1M185 2.5h1M193 4.5h1M108 5.5h1M6 8.5h1M171 8.5h1M27 9.5h1M44 9.5h1M121 9.5h1M125 9.5h1M164 9.5h1M191 9.5h1M179 10.5h1M38 11.5h1M37 12.5h1M102 12.5h1M106 12.5h1M142 12.5h1M165 12.5h1M169 12.5h1M178 12.5h1M3 13.5h1M61 13.5h1M188 13.5h1M2 14.5h1M19 14.5h1M28 14.5h1M105 14.5h1M114 14.5h1M151 14.5h1M186 14.5h1M11 15.5h1M18 15.5h1M27 15.5h1M70 15.5h1M162 15.5h1M65 16.5h1M71 16.5h1M112 16.5h1M121 16.5h1M149 16.5h1M158 16.5h1M13 17.5h1M46 17.5h1M122 17.5h1M59 18.5h1M87 18.5h1M90 18.5h1M168 18.5h1M24 19.5h1M83 19.5h1M98 19.5h1M154 19.5h1M165 19.5h1M28 20.5h1M37 20.5h1M42 20.5h1M74 20.5h1M107 20.5h1M171 20.5h1M195 20.5h1M15 21.5h1M17 21.5h1M73 21.5h1M165 21.5h2"/><path stroke="#8088c0" d="M122 1.5h1"/><path stroke="#9098c8" d="M141 1.5h1M36 3.5h1M96 4.5h1M173 10.5h1"/><path stroke="#f0b0b0" d="M31 2.5h1M130 2.5h1M182 2.5h1M180 9.5h1M6 10.5h1M33 10.5h1M193 10.5h1M18 12.5h1M30 12.5h1M75 12.5h1M85 12.5h1M127 12.5h1M143 12.5h1M31 13.5h1M66 13.5h1M98 13.5h1M104 13.5h1M158 13.5h1M162 13.5h1M3 14.5h1M15 14.5h1M155 14.5h1M171 14.5h1M4 15.5h1M95 15.5h1M111 15.5h1M166 16.5h1M195 16.5h1M16 17.5h1M70 17.5h1M87 17.5h1M120 17.5h1M201 17.5h1M20 19.5h1M4 20.5h1M112 20.5h1M6 21.5h1M12 21.5h1M104 21.5h1M150 21.5h1M169 21.5h1"/><path stroke="#f09098" d="M100 3.5h1M73 14.5h1M90 14.5h1M196 15.5h1M164 16.5h1M13 18.5h1"/><path stroke="#f0a8a8" d="M133 3.5h1M41 5.5h1M64 9.5h1M89 12.5h1M120 12.5h1M159 12.5h1M177 12.5h1M54 13.5h1M179 13.5h1M196 13.5h1M183 14.5h1M122 16.5h1M9 18.5h1M35 18.5h1M147 18.5h1M150 18.5h1M159 18.5h1M163 18.5h1M26 19.5h1M31 19.5h1M19 20.5h1M49 20.5h1M84 20.5h1"/><path stroke="#e88888" d="M33 4.5h1M89 13.5h1M143 20.5h1M159 20.5h1"/><path stroke="#f0d8e0" d="M117 4.5h1M187 6.5h1M107 14.5h1M34 16.5h1M138 17.5h1M104 19.5h1M118 21.5h1"/><path stroke="#f0a8b0" d="M147 4.5h1M172 8.5h1M66 12.5h1M69 12.5h1M181 12.5h1M27 13.5h1M83 13.5h1M9 14.5h1M74 14.5h1M91 14.5h1M173 14.5h1M177 14.5h1M8 15.5h1M46 15.5h1M122 15.5h1M137 15.5h1M158 15.5h1M8 16.5h1M76 16.5h1M182 16.5h1M66 17.5h1M37 18.5h1M18 19.5h1M22 19.5h1M28 19.5h1M141 20.5h1M163 21.5h1"/><path stroke="#8090c0" d="M158 4.5h1M177 10.5h1"/><path stroke="#8890c0" d="M26 6.5h1M83 8.5h1M37 9.5h1"/><path stroke="#7888c0" d="M11 8.5h1"/><path stroke="#98a0c8" d="M83 10.5h1"/><path stroke="#f09898" d="M100 12.5h2M150 12.5h1M150 14.5h1M152 14.5h1M175 14.5h1M67 15.5h1M114 15.5h1M79 19.5h1M83 20.5h1M49 21.5h1M87 21.5h1"/><path stroke="#e88088" d="M196 12.5h1M63 13.5h1M159 13.5h1M61 19.5h1M168 19.5h1"/><path stroke="#f098a0" d="M13 13.5h1M76 13.5h1M196 14.5h1M151 15.5h1M118 16.5h1M125 16.5h1M177 19.5h1M177 21.5h1"/><path stroke="#f09090" d="M80 13.5h1M86 19.5h1M128 21.5h1"/><path stroke="#f0a0a8" d="M119 13.5h1M163 13.5h1M36 14.5h1M63 15.5h1M145 16.5h1M30 17.5h1M95 17.5h1M28 18.5h1M129 18.5h1M162 18.5h1M36 19.5h1M66 19.5h1M105 19.5h1M118 19.5h1M161 19.5h1M32 20.5h1M104 20.5h1M175 20.5h1M97 21.5h1"/><path stroke="#f08890" d="M29 19.5h1M140 20.5h1"/><path stroke="#e87878" d="M84 19.5h1"/><path stroke="#e87880" d="M97 20.5h1"/><path stroke="#e88890" d="M159 21.5h1"/><path stroke="#e88080" d="M194 21.5h1"/></g><g shape-rendering="crispEdges" transform="translate(635.65 21.70) scale(1.0030 6.9550)" fill="none" stroke-width="1"><path stroke="#f8e0e8" d="M0 0.5h1M23 0.5h1M29 0.5h1M49 0.5h1M2 1.5h1M37 1.5h1M47 1.5h1M42 4.5h1M12 7.5h1M29 7.5h1"/><path stroke="#f0c0c8" d="M1 0.5h1M6 0.5h1M14 0.5h1M24 0.5h1M37 0.5h2M46 0.5h1M18 1.5h1M38 1.5h1M4 2.5h1M10 2.5h1M41 2.5h1M25 3.5h1M30 4.5h1M44 4.5h1M6 5.5h1M20 5.5h1M27 5.5h1M33 5.5h1M0 6.5h1M35 6.5h1M45 6.5h1M14 7.5h1M33 7.5h1M6 8.5h1M10 8.5h1M21 8.5h1M3 9.5h1M29 9.5h1M31 9.5h1M28 10.5h1M49 10.5h1M37 11.5h1"/><path stroke="#f0d8d8" d="M2 0.5h1M9 0.5h2M18 0.5h1M26 0.5h1M30 0.5h1M47 0.5h1M9 1.5h1M16 1.5h1M39 1.5h1M41 1.5h1M49 1.5h1M5 7.5h1M23 7.5h1M31 7.5h1M38 7.5h1M5 8.5h1M9 9.5h1M43 9.5h1M45 9.5h1M36 11.5h1"/><path stroke="#f0d0d0" d="M3 0.5h1M15 0.5h1M20 0.5h1M27 0.5h1M32 0.5h1M36 0.5h1M11 1.5h1M35 1.5h1M22 3.5h1M4 4.5h1M8 4.5h1M18 4.5h1M33 4.5h1M36 4.5h1M12 5.5h1M22 5.5h1M28 5.5h1M42 6.5h1M4 7.5h1M9 7.5h1M32 7.5h1M40 7.5h2M47 7.5h1M20 9.5h1M32 9.5h1M47 10.5h1M6 11.5h1M13 11.5h1M47 11.5h1"/><path stroke="#f8f0f8" d="M4 0.5h1M10 1.5h1M24 1.5h1"/><path stroke="#f0c0c0" d="M5 0.5h1M12 0.5h1M40 0.5h1M45 0.5h1M34 1.5h1M0 2.5h1M6 2.5h1M8 2.5h1M27 2.5h1M31 2.5h1M9 3.5h1M27 3.5h1M43 3.5h1M48 4.5h1M17 5.5h1M26 5.5h1M35 5.5h1M2 6.5h2M8 6.5h2M25 6.5h2M31 6.5h1M48 6.5h1M16 7.5h1M20 7.5h1M30 7.5h1M0 8.5h1M30 8.5h1M37 8.5h1M15 9.5h1M17 9.5h1M25 9.5h1M9 10.5h1M12 10.5h2M20 10.5h1M34 10.5h1M38 10.5h1M3 11.5h1M8 11.5h1M12 11.5h1M22 11.5h1M25 11.5h1M43 11.5h1M45 11.5h1M49 11.5h1"/><path stroke="#f0b8c0" d="M7 0.5h1M35 0.5h1M30 1.5h1M11 2.5h1M22 2.5h1M33 2.5h1M42 2.5h1M17 4.5h1M20 4.5h1M23 4.5h2M46 4.5h2M25 5.5h1M30 5.5h1M11 6.5h2M3 7.5h1M7 7.5h1M13 7.5h1M17 7.5h1M19 7.5h1M25 7.5h1M34 8.5h1M49 8.5h1M28 9.5h1M36 9.5h2M49 9.5h1M2 10.5h1M10 10.5h1M46 10.5h1M2 11.5h1"/><path stroke="#f8e8f0" d="M8 0.5h1M35 7.5h1"/><path stroke="#f8e8e8" d="M11 0.5h1M22 1.5h1M32 1.5h1M44 1.5h1M37 7.5h1"/><path stroke="#f0d0d8" d="M13 0.5h1M41 0.5h1M1 1.5h1M21 1.5h1M45 3.5h1M7 5.5h1M6 7.5h1M33 8.5h1M14 9.5h1M27 9.5h1M0 11.5h1"/><path stroke="#f8e0e0" d="M16 0.5h1M44 0.5h1M4 1.5h1M7 1.5h2M14 1.5h2M17 1.5h1M40 1.5h1M45 1.5h1M46 7.5h1M26 9.5h1"/><path stroke="#f0c8c8" d="M17 0.5h1M19 0.5h1M21 0.5h1M25 0.5h1M28 0.5h1M48 0.5h1M6 1.5h1M23 1.5h1M25 1.5h1M9 2.5h1M15 2.5h1M26 2.5h1M30 2.5h1M40 2.5h1M1 3.5h1M17 3.5h1M9 4.5h1M14 4.5h1M45 4.5h1M32 5.5h1M49 5.5h1M15 6.5h1M17 6.5h1M29 6.5h1M36 6.5h1M39 7.5h1M11 8.5h1M13 8.5h1M15 8.5h1M27 8.5h1M40 9.5h1M18 10.5h2M26 10.5h1M7 11.5h1M11 11.5h1"/><path stroke="#f8d8e0" d="M22 0.5h1M3 1.5h1M5 1.5h1M12 1.5h2M27 1.5h1M33 1.5h1M48 1.5h1M44 5.5h1M39 6.5h1M10 7.5h1M22 9.5h1M27 10.5h1"/><path stroke="#f0b0b0" d="M31 0.5h1M31 1.5h1M36 1.5h1M13 2.5h2M28 2.5h2M35 2.5h1M48 2.5h1M6 3.5h3M16 3.5h1M38 3.5h1M42 3.5h1M47 3.5h1M2 4.5h1M5 4.5h2M13 4.5h1M15 4.5h1M28 4.5h1M39 4.5h1M2 5.5h1M16 5.5h1M19 5.5h1M29 5.5h1M31 5.5h1M37 5.5h1M48 5.5h1M13 6.5h1M28 6.5h1M34 6.5h1M43 6.5h1M47 6.5h1M2 7.5h1M11 7.5h1M22 7.5h1M42 7.5h2M12 8.5h1M26 8.5h1M46 8.5h1M7 9.5h1M30 9.5h1M42 9.5h1M3 10.5h1M6 10.5h3M21 10.5h1M23 10.5h1M48 10.5h1M1 11.5h1M4 11.5h1M23 11.5h1M34 11.5h1M46 11.5h1"/><path stroke="#f0a8a8" d="M33 0.5h2M17 2.5h1M23 2.5h2M45 2.5h1M2 3.5h1M12 3.5h1M18 3.5h1M37 3.5h1M40 3.5h1M3 4.5h1M7 4.5h1M12 4.5h1M37 4.5h1M49 4.5h1M0 5.5h1M3 5.5h1M8 5.5h1M14 5.5h2M47 5.5h1M14 6.5h1M18 6.5h2M33 6.5h1M49 6.5h1M34 7.5h1M48 7.5h1M2 8.5h1M20 8.5h1M28 8.5h1M44 8.5h1M2 9.5h1M6 9.5h1M4 10.5h1M22 10.5h1M29 10.5h1M31 10.5h1M39 10.5h1M41 10.5h1M43 10.5h1M20 11.5h1M27 11.5h1M35 11.5h1"/><path stroke="#d8e0f0" d="M39 0.5h1M14 13.5h1M9 14.5h1M7 17.5h1M32 17.5h1M3 18.5h1M41 18.5h1M12 19.5h1M35 19.5h1"/><path stroke="#f8f0f0" d="M42 0.5h1M29 1.5h1"/><path stroke="#f0b8b8" d="M43 0.5h1M42 1.5h1M46 1.5h1M3 2.5h1M19 2.5h1M38 2.5h1M43 2.5h2M46 2.5h1M3 3.5h2M26 3.5h1M32 3.5h1M41 3.5h1M44 3.5h1M46 3.5h1M49 3.5h1M0 4.5h1M25 4.5h1M40 4.5h1M43 4.5h1M10 5.5h1M13 5.5h1M24 5.5h1M41 5.5h1M46 5.5h1M0 7.5h1M8 7.5h1M24 7.5h1M28 7.5h1M49 7.5h1M4 8.5h1M8 8.5h2M22 8.5h1M24 8.5h1M38 8.5h1M40 8.5h1M0 9.5h2M12 9.5h1M18 9.5h1M38 9.5h2M41 9.5h1M46 9.5h1M40 10.5h1M14 11.5h1M28 11.5h2M39 11.5h1"/><path stroke="#f0b0b8" d="M0 1.5h1M26 1.5h1M5 2.5h1M37 2.5h1M24 3.5h1M33 3.5h1M11 4.5h1M19 4.5h1M21 4.5h1M31 4.5h1M35 4.5h1M23 5.5h1M45 5.5h1M5 6.5h1M7 6.5h1M32 6.5h1M15 7.5h1M36 7.5h1M1 8.5h1M3 8.5h1M45 8.5h1M8 9.5h1M34 9.5h1M48 9.5h1M24 10.5h1M35 10.5h1M17 11.5h1M24 11.5h1"/><path stroke="#f0c8d0" d="M19 1.5h1M28 1.5h1M43 1.5h1M43 5.5h1M22 6.5h1M24 6.5h1M1 7.5h1M26 7.5h1M44 7.5h1M4 9.5h1M15 10.5h1M45 10.5h1M44 11.5h1"/><path stroke="#f0d8e0" d="M20 1.5h1M45 7.5h1"/><path stroke="#f0a0a8" d="M1 2.5h1M7 2.5h1M34 2.5h1M13 3.5h1M28 3.5h1M35 3.5h1M26 4.5h2M18 5.5h1M39 5.5h2M42 5.5h1M37 6.5h1M14 8.5h1M36 8.5h1M13 9.5h1M23 9.5h2M25 10.5h1M44 10.5h1M18 11.5h1M21 11.5h1M32 11.5h1M48 11.5h1"/><path stroke="#f0a8b0" d="M2 2.5h1M18 2.5h1M20 2.5h1M49 2.5h1M0 3.5h1M5 3.5h1M10 3.5h1M14 3.5h1M20 3.5h1M23 3.5h1M31 3.5h1M36 3.5h1M1 4.5h1M16 4.5h1M22 4.5h1M34 4.5h1M38 4.5h1M41 4.5h1M5 5.5h1M1 6.5h1M21 6.5h1M23 6.5h1M38 6.5h1M18 7.5h1M27 7.5h1M16 8.5h1M10 9.5h2M19 9.5h1M21 9.5h1M33 9.5h1M44 9.5h1M0 10.5h1M37 10.5h1M40 11.5h2"/><path stroke="#f098a0" d="M12 2.5h1M47 2.5h1M48 3.5h1M9 5.5h1M21 5.5h1M36 5.5h1M4 6.5h1M16 6.5h1M20 6.5h1M30 6.5h1M31 8.5h2M43 8.5h1M26 11.5h1M30 11.5h1"/><path stroke="#f0a0a0" d="M16 2.5h1M21 2.5h1M19 3.5h1M21 3.5h1M34 3.5h1M10 4.5h1M32 4.5h1M1 5.5h1M4 5.5h1M11 5.5h1M38 5.5h1M6 6.5h1M10 6.5h1M27 6.5h1M41 6.5h1M46 6.5h1M18 8.5h1M29 8.5h1M39 8.5h1M41 8.5h1M47 8.5h2M47 9.5h1M1 10.5h1M11 10.5h1M33 10.5h1M36 10.5h1M9 11.5h2M31 11.5h1M33 11.5h1"/><path stroke="#f09898" d="M25 2.5h1M36 2.5h1M21 7.5h1M7 8.5h1M17 8.5h1M25 8.5h1M42 8.5h1M16 9.5h1M35 9.5h1M5 10.5h1M14 10.5h1M32 10.5h1M19 11.5h1M38 11.5h1"/><path stroke="#f09098" d="M32 2.5h1M39 2.5h1M30 3.5h1M39 3.5h1M17 10.5h1M42 10.5h1M5 11.5h1"/><path stroke="#e88088" d="M11 3.5h1M35 8.5h1"/><path stroke="#f09090" d="M15 3.5h1M29 3.5h1M29 4.5h1M44 6.5h1M23 8.5h1M16 10.5h1M15 11.5h1"/><path stroke="#e88890" d="M34 5.5h1M16 11.5h1"/><path stroke="#e88888" d="M40 6.5h1M5 9.5h1M42 11.5h1"/><path stroke="#f08890" d="M19 8.5h1M30 10.5h1"/><path stroke="#c0c8e0" d="M0 12.5h1M2 12.5h1M5 12.5h1M9 12.5h2M18 12.5h1M21 12.5h1M39 12.5h3M43 12.5h1M45 12.5h1M49 12.5h1M4 13.5h1M8 13.5h1M12 13.5h1M41 13.5h1M48 13.5h2M14 14.5h1M18 14.5h1M34 14.5h1M39 14.5h1M47 14.5h1M7 15.5h1M13 15.5h1M38 15.5h1M41 15.5h1M44 15.5h2M1 16.5h1M9 16.5h1M15 16.5h1M27 16.5h1M30 16.5h1M32 16.5h1M1 17.5h1M9 17.5h1M25 17.5h1M27 17.5h1M33 17.5h1M37 17.5h1M1 18.5h2M16 18.5h1M23 18.5h1M39 18.5h1M42 18.5h1M44 18.5h1M1 19.5h1M19 19.5h1M20 21.5h1M31 21.5h1"/><path stroke="#c8d0e8" d="M1 12.5h1M13 12.5h1M26 12.5h1M48 12.5h1M17 13.5h1M21 13.5h1M23 14.5h1M31 14.5h1M0 15.5h1M10 15.5h1M12 15.5h1M19 15.5h1M33 15.5h1M37 15.5h1M42 15.5h1M16 16.5h1M42 16.5h1M47 16.5h1M49 16.5h1M12 17.5h1M23 17.5h1M40 17.5h1M22 18.5h1M32 18.5h1M37 18.5h1M45 18.5h1M7 19.5h1M11 19.5h1M14 19.5h1M16 19.5h1M24 19.5h1M33 19.5h1M8 21.5h1M22 21.5h1M40 21.5h1"/><path stroke="#b8c0e0" d="M3 12.5h1M7 12.5h1M17 12.5h1M25 12.5h1M29 12.5h1M38 12.5h1M44 12.5h1M3 13.5h1M19 13.5h1M24 13.5h1M28 13.5h1M36 13.5h1M39 13.5h1M8 14.5h1M16 14.5h1M27 14.5h2M35 14.5h1M49 14.5h1M1 15.5h1M4 15.5h1M30 15.5h1M6 16.5h1M21 16.5h1M35 16.5h1M37 16.5h1M11 17.5h1M30 17.5h1M36 17.5h1M13 18.5h1M33 18.5h1M33 21.5h1M36 21.5h1"/><path stroke="#d0d0e8" d="M4 12.5h1M0 13.5h1M13 13.5h1M16 13.5h1M20 13.5h1M25 13.5h1M32 13.5h1M37 13.5h1M3 14.5h2M17 14.5h1M22 14.5h1M30 14.5h1M38 14.5h1M40 14.5h1M45 14.5h1M34 15.5h1M2 16.5h1M26 16.5h1M34 16.5h1M2 17.5h1M4 17.5h1M15 17.5h1M20 17.5h3M41 17.5h2M7 18.5h1M9 18.5h1M26 18.5h2M34 18.5h1M47 18.5h1M3 19.5h3M23 19.5h1M26 19.5h1M36 19.5h1M38 19.5h1M47 19.5h1M15 21.5h1"/><path stroke="#b0b8d8" d="M6 12.5h1M8 12.5h1M6 13.5h1M31 13.5h1M34 13.5h1M43 13.5h1M19 14.5h1M36 14.5h2M41 14.5h1M43 14.5h1M5 15.5h1M28 15.5h1M49 15.5h1M4 16.5h1M10 16.5h1M17 16.5h1M45 16.5h1M16 17.5h1M48 18.5h1M17 19.5h1M4 20.5h1M8 20.5h1M21 20.5h1M30 20.5h1M41 20.5h1M3 21.5h2M7 21.5h1M10 21.5h1M25 21.5h1M28 21.5h2M41 21.5h2M46 21.5h1M48 21.5h2"/><path stroke="#d0d8e8" d="M11 12.5h1M42 12.5h1M7 13.5h1M18 13.5h1M33 13.5h1M40 13.5h1M44 13.5h1M11 14.5h1M29 14.5h1M11 15.5h1M14 15.5h1M18 15.5h1M25 15.5h1M31 15.5h1M39 15.5h1M47 15.5h1M11 16.5h1M38 16.5h1M43 16.5h1M0 17.5h1M17 17.5h2M26 17.5h1M31 17.5h1M14 18.5h1M29 18.5h1M20 19.5h1M41 19.5h1M45 19.5h1M9 21.5h1"/><path stroke="#e8e8f8" d="M12 12.5h1"/><path stroke="#e0e0f0" d="M14 12.5h1M46 12.5h1M47 13.5h1M7 14.5h1M32 14.5h1M44 14.5h1M3 15.5h1M28 16.5h1M12 18.5h1M19 18.5h1M28 18.5h1M30 18.5h1M38 18.5h1M46 18.5h1M6 19.5h1M15 19.5h1M21 19.5h1M25 19.5h1M28 19.5h1M30 19.5h1M32 19.5h1M39 19.5h1M42 19.5h1M49 19.5h1"/><path stroke="#d8d8e8" d="M15 12.5h1M19 12.5h1M22 12.5h2M34 12.5h1M15 13.5h1M23 13.5h1M42 13.5h1M5 14.5h1M24 14.5h1M17 15.5h1M20 15.5h1M35 15.5h1M40 15.5h1M3 16.5h1M5 16.5h1M19 16.5h1M36 16.5h1M39 16.5h1M10 17.5h1M19 17.5h1M35 17.5h1M45 17.5h2M48 17.5h1M0 18.5h1M5 18.5h1M10 18.5h1M15 18.5h1M20 18.5h1M24 18.5h2M40 18.5h1M43 18.5h1M49 18.5h1M2 19.5h1M10 19.5h1M18 19.5h1M29 19.5h1M31 19.5h1M34 19.5h1M40 19.5h1M44 19.5h1"/><path stroke="#c8d0e0" d="M16 12.5h1M27 12.5h1M36 12.5h1M2 13.5h1M38 13.5h1M10 14.5h1M15 14.5h1M22 15.5h1M32 15.5h1M20 16.5h1M23 16.5h1M3 17.5h1M44 17.5h1M11 18.5h1"/><path stroke="#c8c8e0" d="M20 12.5h1M30 12.5h1M32 12.5h1M37 12.5h1M5 13.5h1M11 13.5h1M26 13.5h1M29 13.5h2M20 14.5h1M33 14.5h1M46 14.5h1M9 15.5h1M27 15.5h1M46 15.5h1M12 16.5h1M18 16.5h1M22 16.5h1M25 16.5h1M29 16.5h1M31 16.5h1M48 16.5h1M5 17.5h1M13 17.5h1M38 17.5h1M43 17.5h1M18 18.5h1M9 19.5h1M48 19.5h1M24 21.5h1M38 21.5h1"/><path stroke="#b8c0d8" d="M24 12.5h1M1 13.5h1M9 13.5h2M22 13.5h1M1 14.5h1M12 14.5h2M26 14.5h1M48 14.5h1M2 15.5h1M8 15.5h1M29 15.5h1M8 16.5h1M14 16.5h1M24 16.5h1M41 16.5h1M46 16.5h1M28 17.5h1M49 17.5h1M13 21.5h1M27 21.5h1M34 21.5h1"/><path stroke="#e0e8f0" d="M28 12.5h1M6 15.5h1M21 15.5h1M13 16.5h1M6 18.5h1M21 18.5h1M43 19.5h1"/><path stroke="#a8b0d8" d="M31 12.5h1M47 12.5h1M45 13.5h1M16 15.5h1M33 16.5h1M47 17.5h1M0 19.5h1M0 20.5h1M13 20.5h1M24 20.5h1M29 20.5h1M33 20.5h1M11 21.5h2M32 21.5h1M35 21.5h1M43 21.5h3"/><path stroke="#b8b8d8" d="M33 12.5h1M42 14.5h1M24 15.5h1M43 15.5h1M8 17.5h1M18 20.5h1M32 20.5h1M40 20.5h1M37 21.5h1M47 21.5h1"/><path stroke="#c0c0e0" d="M35 12.5h1M35 13.5h1M0 14.5h1M2 14.5h1M48 15.5h1M0 16.5h1M7 16.5h1M40 16.5h1M44 16.5h1M14 17.5h1M34 17.5h1M39 17.5h1M36 18.5h1M13 19.5h1M1 21.5h1M14 21.5h1M30 21.5h1"/><path stroke="#e8e8f0" d="M27 13.5h1M25 14.5h1M24 17.5h1M8 18.5h1M31 18.5h1M8 19.5h1M27 19.5h1M37 19.5h1"/><path stroke="#a8b0d0" d="M46 13.5h1M21 14.5h1M15 15.5h1M36 15.5h1M6 17.5h1M35 18.5h1M10 20.5h1M12 20.5h1M20 20.5h1M22 20.5h1M31 20.5h1M35 20.5h1M37 20.5h1M2 21.5h1M16 21.5h2M23 21.5h1M26 21.5h1"/><path stroke="#a0a8d0" d="M6 14.5h1M23 15.5h1M2 20.5h2M11 20.5h1M17 20.5h1M19 20.5h1M39 20.5h1M42 20.5h1M44 20.5h1M46 20.5h3M0 21.5h1M6 21.5h1M19 21.5h1M21 21.5h1M39 21.5h1"/><path stroke="#d8e0e8" d="M26 15.5h1"/><path stroke="#e8f0f8" d="M29 17.5h1"/><path stroke="#f0f0f8" d="M4 18.5h1M17 18.5h1M46 19.5h1"/><path stroke="#f8f8f8" d="M22 19.5h1"/><path stroke="#9098c8" d="M1 20.5h1M9 20.5h1"/><path stroke="#98a0c8" d="M5 20.5h1M26 20.5h2M34 20.5h1M36 20.5h1M18 21.5h1"/><path stroke="#98a0d0" d="M6 20.5h1M14 20.5h2M23 20.5h1M38 20.5h1M43 20.5h1"/><path stroke="#90a0c8" d="M7 20.5h1M45 20.5h1M49 20.5h1"/><path stroke="#b0b0d8" d="M16 20.5h1"/><path stroke="#8890c0" d="M25 20.5h1"/><path stroke="#98a8d0" d="M28 20.5h1M5 21.5h1"/></g><rect x="430.5" y="17.9" width="205.15" height="3.2" fill="#f28080"/><rect x="635.65" y="17.9" width="50.15" height="3.2" fill="#38bece"/><text x="687" y="21" font-size="6.8" stroke="#1e1e1e" stroke-width="0.15">Type</text><text x="687" y="30.5" font-size="6.8" stroke="#1e1e1e" stroke-width="0.15">PTPN5</text><text x="687" y="37.3" font-size="6.8" stroke="#1e1e1e" stroke-width="0.15">PTPRT</text><text x="687" y="44.2" font-size="6.8" stroke="#1e1e1e" stroke-width="0.15">PPP1R14A</text><text x="687" y="51.1" font-size="6.8" stroke="#1e1e1e" stroke-width="0.15">PTPN21</text><text x="687" y="58" font-size="6.8" stroke="#1e1e1e" stroke-width="0.15">PTPRB</text><text x="687" y="64.8" font-size="6.8" stroke="#1e1e1e" stroke-width="0.15">PTPRG</text><text x="687" y="71.7" font-size="6.8" stroke="#1e1e1e" stroke-width="0.15">PTPRS</text><text x="687" y="78.6" font-size="6.8" stroke="#1e1e1e" stroke-width="0.15">PPP1R1A</text><text x="687" y="85.5" font-size="6.8" stroke="#1e1e1e" stroke-width="0.15">PTPRQ</text><text x="687" y="92.4" font-size="6.8" stroke="#1e1e1e" stroke-width="0.15">DUSP1</text><text x="687" y="99.2" font-size="6.8" stroke="#1e1e1e" stroke-width="0.15">PTPN13</text><text x="687" y="106.1" font-size="6.8" stroke="#1e1e1e" stroke-width="0.15">PTPRH</text><text x="687" y="113" font-size="6.8" stroke="#1e1e1e" stroke-width="0.15">PTPRO</text><text x="687" y="119.9" font-size="6.8" stroke="#1e1e1e" stroke-width="0.15">PTPN22</text><text x="687" y="126.8" font-size="6.8" stroke="#1e1e1e" stroke-width="0.15">PTPN6</text><text x="687" y="133.7" font-size="6.8" stroke="#1e1e1e" stroke-width="0.15">PSTPIP1</text><text x="687" y="140.5" font-size="6.8" stroke="#1e1e1e" stroke-width="0.15">PTPN7</text><text x="687" y="147.4" font-size="6.8" stroke="#1e1e1e" stroke-width="0.15">PTPRC</text><text x="687" y="154.3" font-size="6.8" stroke="#1e1e1e" stroke-width="0.15">PTPRN</text><text x="687" y="161.2" font-size="6.8" stroke="#1e1e1e" stroke-width="0.15">PPP1R14C</text><text x="687" y="168" font-size="6.8" font-weight="bold" fill="#e8262b" stroke="#e8262b" stroke-width="0.15">PPP1R14B</text><text x="687" y="174.9" font-size="6.8" stroke="#1e1e1e" stroke-width="0.15">PPP4C</text><text x="720.2" y="21" font-size="6.8" stroke="#1e1e1e" stroke-width="0.15">Type</text><rect x="721.9" y="23.8" width="4.4" height="7.1" fill="#38bece"/><rect x="721.9" y="30.9" width="4.4" height="6.8" fill="#f28080"/><text x="729" y="29.6" font-size="6.8" stroke="#1e1e1e" stroke-width="0.15">Normal</text><text x="729" y="36.8" font-size="6.8" stroke="#1e1e1e" stroke-width="0.15">TNBCs</text><defs><linearGradient id="cb721" x1="0" y1="0" x2="0" y2="1"><stop offset="0" stop-color="#e2262a"/><stop offset="0.5" stop-color="#f7f7fa"/><stop offset="1" stop-color="#3a4ca0"/></linearGradient></defs><rect x="721.9" y="43.3" width="4.4" height="67.3" fill="url(#cb721)"/><text x="729" y="50.5" font-size="6.8" stroke="#1e1e1e" stroke-width="0.15">6</text><text x="729" y="60.7" font-size="6.8" stroke="#1e1e1e" stroke-width="0.15">4</text><text x="729" y="70.6" font-size="6.8" stroke="#1e1e1e" stroke-width="0.15">2</text><text x="729" y="80.8" font-size="6.8" stroke="#1e1e1e" stroke-width="0.15">0</text><text x="729" y="91.1" font-size="6.8" stroke="#1e1e1e" stroke-width="0.15">−2</text><text x="729" y="101.2" font-size="6.8" stroke="#1e1e1e" stroke-width="0.15">−4</text><text x="729" y="111" font-size="6.8" stroke="#1e1e1e" stroke-width="0.15">−6</text><path d="M415.5 25.2H430.5M415.5 32.1H430.5M415.5 25.2V32.1M419.5 39.1H430.5M419.5 46H430.5M419.5 39.1V46M415 28.7H415.5M415 42.6H419.5M415 28.7V42.6M421.5 53H430.5M421.5 60H430.5M421.5 53V60M419 73.9H430.5M419 80.8H430.5M419 73.9V80.8M417.5 66.9H430.5M417.5 77.3H419M417.5 66.9V77.3M420 94.7H430.5M420 101.7H430.5M420 94.7V101.7M417.5 87.8H430.5M417.5 98.2H420M417.5 87.8V98.2M417 72.1H417.5M417 93H417.5M417 72.1V93M416.5 56.5H421.5M416.5 82.6H417M416.5 56.5V82.6M414 35.6H415M414 69.5H416.5M414 35.6V69.5M424 136.5H430.5M424 143.4H430.5M424 136.5V143.4M422.5 129.5H430.5M422.5 139.9H424M422.5 129.5V139.9M421.5 122.5H430.5M421.5 134.7H422.5M421.5 122.5V134.7M420.5 115.6H430.5M420.5 128.6H421.5M420.5 115.6V128.6M419 108.6H430.5M419 122.1H420.5M419 108.6V122.1M420 164.3H430.5M420 171.2H430.5M420 164.3V171.2M415 157.3H430.5M415 167.8H420M415 157.3V167.8M413 150.4H430.5M413 162.5H415M413 150.4V162.5M412.2 115.4H419M412.2 156.5H413M412.2 115.4V156.5M407.1 52.6H414M407.1 135.9H412.2M407.1 52.6V135.9" stroke="#555" stroke-width="0.8" fill="none"/><text x="1" y="215.8" font-size="20.5" font-weight="bold" fill="#000">C</text><rect x="80.4" y="292" width="23.6" height="53" fill="#fff" stroke="#000" stroke-width="1.6"/><rect x="118.1" y="273.8" width="23.7" height="71.2" fill="#fff" stroke="#000" stroke-width="1.6"/><defs><marker id="m0" markerUnits="userSpaceOnUse" markerWidth="1" markerHeight="1" refX="0" refY="0" overflow="visible"><circle r="1.5" fill="none" stroke="#5b8fd6" stroke-width="0.8"/></marker></defs><path d="M83.6 278.5M89.2 277.6M95.2 280.1M100.9 280.4M89.2 281.0M89.2 283.5M89.2 286.1M83.6 287.7M89.2 287.9M100.9 287.9M83.6 290.5M89.2 290.5M100.9 291.7M89.2 295.3M95.2 294.0M89.2 301.8M89.2 310.9M89.2 328.6" fill="none" stroke="none" marker-start="url(#m0)" marker-mid="url(#m0)" marker-end="url(#m0)"/><defs><marker id="m1" markerUnits="userSpaceOnUse" markerWidth="1" markerHeight="1" refX="0" refY="0" overflow="visible"><rect x="-1.45" y="-1.45" width="2.9" height="2.9" fill="none" stroke="#e8202a" stroke-width="0.85"/></marker></defs><path d="M121.7 273.0M125.7 273.0M128.7 273.0M132.2 273.0M134.4 273.0M138.2 273.0M125.0 257.4M128.0 257.4M131.2 257.4M135.2 257.4M120.0 283.4M123.8 283.4M126.9 283.4M130.1 283.4M133.6 283.4M136.4 283.4M140.0 283.4M120.3 265.2M123.8 265.2M126.7 265.2M130.6 265.2M133.1 265.2M136.1 265.2M139.3 265.2M118.5 267.8M120.3 267.8M123.0 267.8M124.4 267.8M126.9 267.8M129.1 267.8M130.5 267.8M133.7 267.8M135.0 267.8M137.3 267.8M139.9 267.8M141.0 267.8M120.6 260.0M123.7 260.0M126.5 260.0M130.1 260.0M132.7 260.0M136.7 260.0M139.2 260.0M128.0 254.8M131.4 254.8M121.7 275.6M124.8 275.6M128.3 275.6M131.8 275.6M135.3 275.6M137.7 275.6M129.8 252.2M120.8 262.6M123.5 262.6M127.0 262.6M130.5 262.6M133.1 262.6M136.2 262.6M139.8 262.6M126.3 270.4M129.9 270.4M133.3 270.4M128.2 278.2M131.5 278.2M127.9 280.8M131.6 280.8M129.9 301.2M128.0 305.0M131.8 305.9M128.0 314.7M130.3 317.2M129.9 327.1M129.3 271.5M130.6 248.8" fill="none" stroke="none" marker-start="url(#m1)" marker-mid="url(#m1)" marker-end="url(#m1)"/><path d="M86.5 277.9H98.1M92.3 277.9V304.6M86.5 304.6H98.1" stroke="#000" stroke-width="1.7" fill="none"/><path d="M124.4 258.7H135.6M130 258.7V288M124.4 288H135.6" stroke="#000" stroke-width="1.7" fill="none"/><line x1="67.5" y1="227.8" x2="67.5" y2="345.6" stroke="#000" stroke-width="1.3"/><line x1="61.7" y1="228.4" x2="67.5" y2="228.4" stroke="#000" stroke-width="1.3"/><text x="59.1" y="232.2" font-size="10.5" text-anchor="end">28</text><line x1="61.7" y1="267.3" x2="67.5" y2="267.3" stroke="#000" stroke-width="1.3"/><text x="59.1" y="271" font-size="10.5" text-anchor="end">24</text><line x1="61.7" y1="306.1" x2="67.5" y2="306.1" stroke="#000" stroke-width="1.3"/><text x="59.1" y="309.9" font-size="10.5" text-anchor="end">20</text><line x1="61.7" y1="345" x2="67.5" y2="345" stroke="#000" stroke-width="1.3"/><text x="59.1" y="348.8" font-size="10.5" text-anchor="end">16</text><line x1="66.8" y1="345" x2="155.5" y2="345" stroke="#000" stroke-width="1.3"/><line x1="92.5" y1="345" x2="92.5" y2="350.8" stroke="#000" stroke-width="1.3"/><line x1="129.8" y1="345" x2="129.8" y2="350.8" stroke="#000" stroke-width="1.3"/><path d="M93.4 235.7V233.1H129.9V235.7" stroke="#3a3a3a" stroke-width="0.9" fill="none"/><text x="111.7" y="232.5" font-size="10.5" text-anchor="middle">***</text><text x="25.2" y="285.7" font-size="11.1" text-anchor="middle" transform="rotate(-90 25.2 285.7)">PPP1R14B protein levels</text><text x="38.3" y="285.7" font-size="11.1" text-anchor="middle" transform="rotate(-90 38.3 285.7)">(TNBC proteomic dataset)</text><text x="90.4" y="362.4" text-anchor="middle">Normal</text><text x="132.4" y="362.4" text-anchor="middle">TNBC</text><text x="89.8" y="375.6" text-anchor="middle">(<tspan font-style="italic">n</tspan> = 72)</text><text x="134.4" y="375.6" text-anchor="middle">(<tspan font-style="italic">n</tspan> = 90)</text><text x="170" y="215.8" font-size="20.5" font-weight="bold" fill="#000">D</text><rect x="239" y="292.3" width="23.4" height="53" fill="#fff" stroke="#000" stroke-width="1.6"/><rect x="276.6" y="271.5" width="23.4" height="73.8" fill="#fff" stroke="#000" stroke-width="1.6"/><path d="M242.0 278.9M247.7 277.9M253.3 280.1M259.3 280.6M247.7 282.3M247.7 285.4M242.0 287.7M247.7 288.6M259.3 288.2M242.0 290.7M247.7 290.5M259.3 292.0M247.7 295.5M253.3 294.3M247.7 302.1M247.7 310.9M247.7 329.0" fill="none" stroke="none" marker-start="url(#m0)" marker-mid="url(#m0)" marker-end="url(#m0)"/><path d="M280.1 260.0M283.6 260.0M287.2 260.0M289.4 260.0M293.5 260.0M296.6 260.0M283.8 280.8M286.6 280.8M290.2 280.8M292.9 280.8M281.9 262.6M285.2 262.6M287.9 262.6M291.5 262.6M294.2 262.6M276.4 267.8M279.8 267.8M281.4 267.8M284.5 267.8M286.9 267.8M290.1 267.8M292.2 267.8M294.4 267.8M296.8 267.8M300.0 267.8M286.3 270.4M289.8 270.4M284.1 265.2M286.2 265.2M289.9 265.2M292.9 265.2M280.8 257.4M283.5 257.4M286.3 257.4M289.7 257.4M293.5 257.4M296.7 257.4M276.4 273.0M279.7 273.0M283.1 273.0M285.5 273.0M288.8 273.0M291.0 273.0M293.9 273.0M297.4 273.0M299.6 273.0M281.4 278.2M285.2 278.2M288.5 278.2M291.3 278.2M294.4 278.2M286.4 283.4M290.5 283.4M286.5 254.8M290.4 254.8M288.3 249.6M286.3 275.6M290.3 275.6M288.3 301.2M288.3 305.6M288.3 327.7" fill="none" stroke="none" marker-start="url(#m1)" marker-mid="url(#m1)" marker-end="url(#m1)"/><path d="M244.8 278.1H256.4M250.6 278.1V305M244.8 305H256.4" stroke="#000" stroke-width="1.7" fill="none"/><path d="M282.7 257.9H293.9M288.3 257.9V284.2M282.7 284.2H293.9" stroke="#000" stroke-width="1.7" fill="none"/><line x1="226" y1="227.8" x2="226" y2="345.9" stroke="#000" stroke-width="1.3"/><line x1="220.2" y1="228.4" x2="226" y2="228.4" stroke="#000" stroke-width="1.3"/><text x="217.6" y="232.2" font-size="10.5" text-anchor="end">28</text><line x1="220.2" y1="267.4" x2="226" y2="267.4" stroke="#000" stroke-width="1.3"/><text x="217.6" y="271.1" font-size="10.5" text-anchor="end">24</text><line x1="220.2" y1="306.3" x2="226" y2="306.3" stroke="#000" stroke-width="1.3"/><text x="217.6" y="310.1" font-size="10.5" text-anchor="end">20</text><line x1="220.2" y1="345.3" x2="226" y2="345.3" stroke="#000" stroke-width="1.3"/><text x="217.6" y="349.1" font-size="10.5" text-anchor="end">16</text><line x1="225.3" y1="345.3" x2="314" y2="345.3" stroke="#000" stroke-width="1.3"/><line x1="250.4" y1="345.3" x2="250.4" y2="351.1" stroke="#000" stroke-width="1.3"/><line x1="288.7" y1="345.3" x2="288.7" y2="351.1" stroke="#000" stroke-width="1.3"/><path d="M252 235.6V233H288.6V235.6" stroke="#3a3a3a" stroke-width="0.9" fill="none"/><text x="270.3" y="232.4" font-size="10.5" text-anchor="middle">***</text><text x="181.4" y="287" font-size="11.1" text-anchor="middle" transform="rotate(-90 181.4 287)">PPP1R14B protein levels</text><text x="194.3" y="287" font-size="11.1" text-anchor="middle" transform="rotate(-90 194.3 287)">(TNBC proteomic dataset)</text><text x="247.2" y="362.3" text-anchor="middle">Normal</text><text x="288.8" y="362.3" text-anchor="middle">TNBC</text><text x="270.3" y="375.4" font-size="11" text-anchor="middle">Paired samples (<tspan font-style="italic">n</tspan> = 72)</text><text x="334" y="215.8" font-size="20.5" font-weight="bold" fill="#000">E</text><rect x="398" y="298.5" width="23.9" height="44.1" fill="#fff" stroke="#000" stroke-width="1.6"/><rect x="434.9" y="273.3" width="25.2" height="69.3" fill="#fff" stroke="#000" stroke-width="1.6"/><path d="M405 293H415M410 293V303.5M405 303.5H415" stroke="#000" stroke-width="1.7" fill="none"/><path d="M403.1 294.4M404.9 294.4M406.6 294.4M408.3 294.4M410.0 294.4M411.7 294.4M413.4 294.4M415.1 294.4M416.9 294.4M400.6 291.2M402.3 291.2M404.0 291.2M405.7 291.2M407.4 291.2M409.1 291.2M410.9 291.2M412.6 291.2M414.3 291.2M416.0 291.2M417.7 291.2M419.4 291.2M398.0 297.6M399.7 297.6M401.4 297.6M403.1 297.6M404.9 297.6M406.6 297.6M408.3 297.6M410.0 297.6M411.7 297.6M413.4 297.6M415.1 297.6M416.9 297.6M418.6 297.6M420.3 297.6M422.0 297.6M402.3 299.2M404.0 299.2M405.7 299.2M407.4 299.2M409.1 299.2M410.9 299.2M412.6 299.2M414.3 299.2M416.0 299.2M417.7 299.2M405.7 300.8M407.4 300.8M409.1 300.8M410.9 300.8M412.6 300.8M414.3 300.8M405.7 302.4M407.4 302.4M409.1 302.4M410.9 302.4M412.6 302.4M414.3 302.4M405.7 296.0M407.4 296.0M409.1 296.0M410.9 296.0M412.6 296.0M414.3 296.0M405.7 289.6M407.4 289.6M409.1 289.6M410.9 289.6M412.6 289.6M414.3 289.6M407.4 305.6M409.1 305.6M410.9 305.6M412.6 305.6M407.4 292.8M409.1 292.8M410.9 292.8M412.6 292.8M407.4 304.0M409.1 304.0M410.9 304.0M412.6 304.0M410.0 310.4M410.0 286.4M410.0 278.4M410.0 281.6M410.0 318.4" fill="none" stroke="none" marker-start="url(#m0)" marker-mid="url(#m0)" marker-end="url(#m0)"/><path d="M436.6 269.1M437.7 269.1M438.8 269.1M439.9 269.1M441.0 269.1M442.1 269.1M443.2 269.1M444.2 269.1M445.3 269.1M446.4 269.1M447.5 269.1M448.6 269.1M449.7 269.1M450.8 269.1M451.8 269.1M452.9 269.1M454.0 269.1M455.1 269.1M456.2 269.1M457.3 269.1M458.4 269.1M445.3 253.5M446.4 253.5M447.5 253.5M448.6 253.5M449.7 253.5M442.1 262.6M443.2 262.6M444.2 262.6M445.3 262.6M446.4 262.6M447.5 262.6M448.6 262.6M449.7 262.6M450.8 262.6M451.8 262.6M452.9 262.6M436.6 274.3M437.7 274.3M438.8 274.3M439.9 274.3M441.0 274.3M442.1 274.3M443.2 274.3M444.2 274.3M445.3 274.3M446.4 274.3M447.5 274.3M448.6 274.3M449.7 274.3M450.8 274.3M451.8 274.3M452.9 274.3M454.0 274.3M455.1 274.3M456.2 274.3M457.3 274.3M458.4 274.3M436.1 270.4M437.2 270.4M438.3 270.4M439.3 270.4M440.4 270.4M441.5 270.4M442.6 270.4M443.7 270.4M444.8 270.4M445.9 270.4M447.0 270.4M448.0 270.4M449.1 270.4M450.2 270.4M451.3 270.4M452.4 270.4M453.5 270.4M454.6 270.4M455.7 270.4M456.7 270.4M457.8 270.4M458.9 270.4M436.1 271.7M437.2 271.7M438.3 271.7M439.3 271.7M440.4 271.7M441.5 271.7M442.6 271.7M443.7 271.7M444.8 271.7M445.9 271.7M447.0 271.7M448.0 271.7M449.1 271.7M450.2 271.7M451.3 271.7M452.4 271.7M453.5 271.7M454.6 271.7M455.7 271.7M456.7 271.7M457.8 271.7M458.9 271.7M442.1 282.1M443.2 282.1M444.2 282.1M445.3 282.1M446.4 282.1M447.5 282.1M448.6 282.1M449.7 282.1M450.8 282.1M451.8 282.1M452.9 282.1M439.9 276.9M441.0 276.9M442.1 276.9M443.2 276.9M444.2 276.9M445.3 276.9M446.4 276.9M447.5 276.9M448.6 276.9M449.7 276.9M450.8 276.9M451.8 276.9M452.9 276.9M454.0 276.9M455.1 276.9M438.8 278.2M439.9 278.2M441.0 278.2M442.1 278.2M443.2 278.2M444.2 278.2M445.3 278.2M446.4 278.2M447.5 278.2M448.6 278.2M449.7 278.2M450.8 278.2M451.8 278.2M452.9 278.2M454.0 278.2M455.1 278.2M456.2 278.2M435.0 266.5M436.1 266.5M437.2 266.5M438.3 266.5M439.3 266.5M440.4 266.5M441.5 266.5M442.6 266.5M443.7 266.5M444.8 266.5M445.9 266.5M447.0 266.5M448.0 266.5M449.1 266.5M450.2 266.5M451.3 266.5M452.4 266.5M453.5 266.5M454.6 266.5M455.7 266.5M456.7 266.5M457.8 266.5M458.9 266.5M460.0 266.5M439.9 261.3M441.0 261.3M442.1 261.3M443.2 261.3M444.2 261.3M445.3 261.3M446.4 261.3M447.5 261.3M448.6 261.3M449.7 261.3M450.8 261.3M451.8 261.3M452.9 261.3M454.0 261.3M455.1 261.3M438.8 280.8M439.9 280.8M441.0 280.8M442.1 280.8M443.2 280.8M444.2 280.8M445.3 280.8M446.4 280.8M447.5 280.8M448.6 280.8M449.7 280.8M450.8 280.8M451.8 280.8M452.9 280.8M454.0 280.8M455.1 280.8M456.2 280.8M439.3 275.6M440.4 275.6M441.5 275.6M442.6 275.6M443.7 275.6M444.8 275.6M445.9 275.6M447.0 275.6M448.0 275.6M449.1 275.6M450.2 275.6M451.3 275.6M452.4 275.6M453.5 275.6M454.6 275.6M455.7 275.6M436.6 267.8M437.7 267.8M438.8 267.8M439.9 267.8M441.0 267.8M442.1 267.8M443.2 267.8M444.2 267.8M445.3 267.8M446.4 267.8M447.5 267.8M448.6 267.8M449.7 267.8M450.8 267.8M451.8 267.8M452.9 267.8M454.0 267.8M455.1 267.8M456.2 267.8M457.3 267.8M458.4 267.8M446.4 286.0M447.5 286.0M448.6 286.0M445.9 284.7M447.0 284.7M448.0 284.7M449.1 284.7M442.6 258.7M443.7 258.7M444.8 258.7M445.9 258.7M447.0 258.7M448.0 258.7M449.1 258.7M450.2 258.7M451.3 258.7M452.4 258.7M441.0 279.5M442.1 279.5M443.2 279.5M444.2 279.5M445.3 279.5M446.4 279.5M447.5 279.5M448.6 279.5M449.7 279.5M450.8 279.5M451.8 279.5M452.9 279.5M454.0 279.5M439.3 263.9M440.4 263.9M441.5 263.9M442.6 263.9M443.7 263.9M444.8 263.9M445.9 263.9M447.0 263.9M448.0 263.9M449.1 263.9M450.2 263.9M451.3 263.9M452.4 263.9M453.5 263.9M454.6 263.9M455.7 263.9M445.3 252.2M446.4 252.2M447.5 252.2M448.6 252.2M449.7 252.2M439.9 260.0M441.0 260.0M442.1 260.0M443.2 260.0M444.2 260.0M445.3 260.0M446.4 260.0M447.5 260.0M448.6 260.0M449.7 260.0M450.8 260.0M451.8 260.0M452.9 260.0M454.0 260.0M455.1 260.0M442.1 273.0M443.2 273.0M444.2 273.0M445.3 273.0M446.4 273.0M447.5 273.0M448.6 273.0M449.7 273.0M450.8 273.0M451.8 273.0M452.9 273.0M438.3 265.2M439.3 265.2M440.4 265.2M441.5 265.2M442.6 265.2M443.7 265.2M444.8 265.2M445.9 265.2M447.0 265.2M448.0 265.2M449.1 265.2M450.2 265.2M451.3 265.2M452.4 265.2M453.5 265.2M454.6 265.2M455.7 265.2M456.7 265.2M447.5 293.8M443.7 257.4M444.8 257.4M445.9 257.4M447.0 257.4M448.0 257.4M449.1 257.4M450.2 257.4M451.3 257.4M447.5 283.4M446.4 288.6M447.5 288.6M448.6 288.6M445.9 256.1M447.0 256.1M448.0 256.1M449.1 256.1M447.0 254.8M448.0 254.8M447.5 239.2M447.5 247.0M447.5 306.8M447.5 301.6" fill="none" stroke="none" marker-start="url(#m1)" marker-mid="url(#m1)" marker-end="url(#m1)"/><line x1="384.8" y1="225.8" x2="384.8" y2="343.2" stroke="#000" stroke-width="1.3"/><line x1="379" y1="226.4" x2="384.8" y2="226.4" stroke="#000" stroke-width="1.3"/><text x="376.4" y="230.2" font-size="10.5" text-anchor="end">10</text><line x1="379" y1="255.5" x2="384.8" y2="255.5" stroke="#000" stroke-width="1.3"/><text x="376.4" y="259.2" font-size="10.5" text-anchor="end">8</text><line x1="379" y1="284.5" x2="384.8" y2="284.5" stroke="#000" stroke-width="1.3"/><text x="376.4" y="288.2" font-size="10.5" text-anchor="end">6</text><line x1="379" y1="313.6" x2="384.8" y2="313.6" stroke="#000" stroke-width="1.3"/><text x="376.4" y="317.3" font-size="10.5" text-anchor="end">4</text><line x1="379" y1="342.6" x2="384.8" y2="342.6" stroke="#000" stroke-width="1.3"/><text x="376.4" y="346.4" font-size="10.5" text-anchor="end">2</text><line x1="384.2" y1="342.6" x2="474.2" y2="342.6" stroke="#000" stroke-width="1.3"/><line x1="410.1" y1="342.6" x2="410.1" y2="348.4" stroke="#000" stroke-width="1.3"/><line x1="447" y1="342.6" x2="447" y2="348.4" stroke="#000" stroke-width="1.3"/><path d="M410.8 233V230.4H448.1V233" stroke="#3a3a3a" stroke-width="0.9" fill="none"/><text x="429.5" y="229.8" font-size="10.5" text-anchor="middle">***</text><text x="345.5" y="283.5" font-size="11.1" text-anchor="middle" transform="rotate(-90 345.5 283.5)">PPP1R14B  mRNA levels</text><text x="358.3" y="283.5" font-size="11.1" text-anchor="middle" transform="rotate(-90 358.3 283.5)">(TNBC RNA-Seq dataset)</text><text x="407.8" y="358.8" text-anchor="middle">Normal</text><text x="447.9" y="358.8" text-anchor="middle">TNBC</text><text x="406.7" y="373.5" text-anchor="middle">(<tspan font-style="italic">n</tspan> = 88)</text><text x="452.8" y="373.5" text-anchor="middle">(<tspan font-style="italic">n</tspan> = 360)</text><text x="490.2" y="215.8" font-size="20.5" font-weight="bold" fill="#000">F</text><rect x="552.8" y="298.4" width="23.8" height="43.5" fill="#fff" stroke="#000" stroke-width="1.6"/><rect x="590.6" y="278.6" width="23.8" height="63.3" fill="#fff" stroke="#000" stroke-width="1.6"/><path d="M559.7 292.5H569.7M564.7 292.5V303.5M559.7 303.5H569.7" stroke="#000" stroke-width="1.7" fill="none"/><path d="M596.6 271H608.4M602.5 271V286.8M596.6 286.8H608.4" stroke="#000" stroke-width="1.7" fill="none"/><path d="M559.4 291.2M562.0 291.2M564.7 291.2M567.4 291.2M570.0 291.2M559.4 294.4M562.0 294.4M564.7 294.4M567.4 294.4M570.0 294.4M564.7 312.0M554.0 289.6M556.7 289.6M559.4 289.6M562.0 289.6M564.7 289.6M567.4 289.6M570.0 289.6M572.7 289.6M575.4 289.6M552.7 297.6M555.4 297.6M558.0 297.6M560.7 297.6M563.4 297.6M566.0 297.6M568.7 297.6M571.4 297.6M574.0 297.6M576.7 297.6M556.7 302.4M559.4 302.4M562.0 302.4M564.7 302.4M567.4 302.4M570.0 302.4M572.7 302.4M558.0 288.0M560.7 288.0M563.4 288.0M566.0 288.0M568.7 288.0M571.4 288.0M552.7 292.8M555.4 292.8M558.0 292.8M560.7 292.8M563.4 292.8M566.0 292.8M568.7 292.8M571.4 292.8M574.0 292.8M576.7 292.8M558.0 296.0M560.7 296.0M563.4 296.0M566.0 296.0M568.7 296.0M571.4 296.0M562.0 300.8M564.7 300.8M567.4 300.8M554.0 299.2M556.7 299.2M559.4 299.2M562.0 299.2M564.7 299.2M567.4 299.2M570.0 299.2M572.7 299.2M575.4 299.2M562.0 286.4M564.7 286.4M567.4 286.4M562.0 305.6M564.7 305.6M567.4 305.6M562.0 307.2M564.7 307.2M567.4 307.2M560.7 304.0M563.4 304.0M566.0 304.0M568.7 304.0M564.7 278.4M564.7 280.0M564.7 318.4" fill="none" stroke="none" marker-start="url(#m0)" marker-mid="url(#m0)" marker-end="url(#m0)"/><path d="M595.3 275.4M597.7 275.4M600.1 275.4M602.5 275.4M604.9 275.4M607.3 275.4M609.7 275.4M592.9 278.8M595.3 278.8M597.7 278.8M600.1 278.8M602.5 278.8M604.9 278.8M607.3 278.8M609.7 278.8M612.1 278.8M595.3 280.5M597.7 280.5M600.1 280.5M602.5 280.5M604.9 280.5M607.3 280.5M609.7 280.5M590.5 272.0M592.9 272.0M595.3 272.0M597.7 272.0M600.1 272.0M602.5 272.0M604.9 272.0M607.3 272.0M609.7 272.0M612.1 272.0M614.5 272.0M597.7 273.7M600.1 273.7M602.5 273.7M604.9 273.7M607.3 273.7M595.3 282.2M597.7 282.2M600.1 282.2M602.5 282.2M604.9 282.2M607.3 282.2M609.7 282.2M600.1 289.0M602.5 289.0M604.9 289.0M592.9 283.9M595.3 283.9M597.7 283.9M600.1 283.9M602.5 283.9M604.9 283.9M607.3 283.9M609.7 283.9M612.1 283.9M600.1 268.6M602.5 268.6M604.9 268.6M601.3 266.9M603.7 266.9M600.1 270.3M602.5 270.3M604.9 270.3M600.1 285.6M602.5 285.6M604.9 285.6M598.9 287.3M601.3 287.3M603.7 287.3M606.1 287.3M600.1 294.1M602.5 294.1M604.9 294.1M600.1 292.4M602.5 292.4M604.9 292.4M597.7 277.1M600.1 277.1M602.5 277.1M604.9 277.1M607.3 277.1M601.3 265.2M603.7 265.2M602.5 260.1" fill="none" stroke="none" marker-start="url(#m1)" marker-mid="url(#m1)" marker-end="url(#m1)"/><line x1="539.6" y1="224.9" x2="539.6" y2="342.5" stroke="#000" stroke-width="1.3"/><line x1="533.8" y1="225.6" x2="539.6" y2="225.6" stroke="#000" stroke-width="1.3"/><text x="531.2" y="229.3" font-size="10.5" text-anchor="end">10</text><line x1="533.8" y1="254.7" x2="539.6" y2="254.7" stroke="#000" stroke-width="1.3"/><text x="531.2" y="258.4" font-size="10.5" text-anchor="end">8</text><line x1="533.8" y1="283.8" x2="539.6" y2="283.8" stroke="#000" stroke-width="1.3"/><text x="531.2" y="287.5" font-size="10.5" text-anchor="end">6</text><line x1="533.8" y1="312.8" x2="539.6" y2="312.8" stroke="#000" stroke-width="1.3"/><text x="531.2" y="316.6" font-size="10.5" text-anchor="end">4</text><line x1="533.8" y1="341.9" x2="539.6" y2="341.9" stroke="#000" stroke-width="1.3"/><text x="531.2" y="345.6" font-size="10.5" text-anchor="end">2</text><line x1="539" y1="341.9" x2="627.9" y2="341.9" stroke="#000" stroke-width="1.3"/><line x1="564.8" y1="341.9" x2="564.8" y2="347.7" stroke="#000" stroke-width="1.3"/><line x1="602.6" y1="341.9" x2="602.6" y2="347.7" stroke="#000" stroke-width="1.3"/><path d="M566.3 233V230.4H602.4V233" stroke="#3a3a3a" stroke-width="0.9" fill="none"/><text x="584.3" y="229.8" font-size="10.5" text-anchor="middle">***</text><text x="501.4" y="283.7" font-size="11.1" text-anchor="middle" transform="rotate(-90 501.4 283.7)">PPP1R14B  mRNA levels</text><text x="514.2" y="283.7" font-size="11.1" text-anchor="middle" transform="rotate(-90 514.2 283.7)">(TNBC RNA-Seq dataset)</text><text x="558.6" y="359.5" text-anchor="middle">Normal</text><text x="599.5" y="359.5" text-anchor="middle">TNBC</text><text x="525.7" y="373.6" font-size="11">Paired samples (<tspan font-style="italic">n</tspan> = 88)</text><text x="648.2" y="215.8" font-size="20.5" font-weight="bold" fill="#000">H</text><rect x="714.2" y="340.6" width="24.9" height="11.2" fill="#fff" stroke="#000" stroke-width="1.6"/><rect x="754" y="304.3" width="25.6" height="47.5" fill="#fff" stroke="#000" stroke-width="1.6"/><path d="M720.4 331.3H732.8M726.6 331.3V346.5M720.4 346.5H732.8" stroke="#000" stroke-width="1.3" fill="none"/><path d="M760.6 280.8H773M766.8 280.8V325.9M760.6 325.9H773" stroke="#000" stroke-width="1.3" fill="none"/><defs><marker id="m2" markerUnits="userSpaceOnUse" markerWidth="1" markerHeight="1" refX="0" refY="0" overflow="visible"><circle r="2.3" fill="#1c9ab6"/></marker></defs><path d="M723.9 319.4M729.3 323.9M723.9 328.1M723.9 332.6M729.3 331.9M727.2 331.6M723.7 339.5M716.1 342.3M718.9 344.4M721.6 343.7M725.1 342.3M728.6 341.6M731.4 343.7M734.8 343.3M737.6 342.6M717.5 345.8M721.0 346.5M724.4 345.8M727.2 345.1M730.0 347.2M732.7 345.8M735.5 344.4M721.0 349.6M725.8 348.5M732.0 350.6M728.6 348.5" fill="none" stroke="none" marker-start="url(#m2)" marker-mid="url(#m2)" marker-end="url(#m2)"/><defs><marker id="m3" markerUnits="userSpaceOnUse" markerWidth="1" markerHeight="1" refX="0" refY="0" overflow="visible"><rect x="-2.25" y="-2.25" width="4.5" height="4.5" fill="#e8303a"/></marker></defs><path d="M756.0 301.2M762.6 303.2M770.6 303.2M777.2 303.2M756.0 307.2M770.6 307.2M777.2 307.2M770.6 314.8M770.6 321.7M762.6 324.6M770.6 334.2M762.6 336.0M762.6 343.5M770.5 243.7M755.7 281.6M763.2 281.6M755.7 288.4M770.5 288.4M777.6 289.6M755.7 307.3M763.0 290.3" fill="none" stroke="none" marker-start="url(#m3)" marker-mid="url(#m3)" marker-end="url(#m3)"/><line x1="699.9" y1="222.5" x2="699.9" y2="352.4" stroke="#000" stroke-width="1.3"/><line x1="694.1" y1="223.2" x2="699.9" y2="223.2" stroke="#000" stroke-width="1.3"/><text x="691.5" y="226.9" font-size="10.5" text-anchor="end">3</text><line x1="694.1" y1="266.1" x2="699.9" y2="266.1" stroke="#000" stroke-width="1.3"/><text x="691.5" y="269.8" font-size="10.5" text-anchor="end">2</text><line x1="694.1" y1="308.9" x2="699.9" y2="308.9" stroke="#000" stroke-width="1.3"/><text x="691.5" y="312.7" font-size="10.5" text-anchor="end">1</text><line x1="694.1" y1="351.8" x2="699.9" y2="351.8" stroke="#000" stroke-width="1.3"/><text x="691.5" y="355.6" font-size="10.5" text-anchor="end">0</text><line x1="699.2" y1="351.8" x2="794.5" y2="351.8" stroke="#000" stroke-width="1.3"/><line x1="726.7" y1="351.8" x2="726.7" y2="358.6" stroke="#000" stroke-width="1.3"/><line x1="766.3" y1="351.8" x2="766.3" y2="358.6" stroke="#000" stroke-width="1.3"/><path d="M725.4 235.6V232.4H766.2V235.6" stroke="#3a3a3a" stroke-width="0.9" fill="none"/><text x="745.8" y="231.8" font-size="10.5" text-anchor="middle">***</text><text x="661.8" y="285.5" font-size="11" text-anchor="middle" transform="rotate(-90 661.8 285.5)">PPP1R14B protein levels</text><text x="674.6" y="285.5" font-size="11" text-anchor="middle" transform="rotate(-90 674.6 285.5)">(PPP1R14B/Vinculin)</text><text x="725.5" y="370.6" text-anchor="middle">Normal</text><text x="766.2" y="370.6" text-anchor="middle">TNBC</text><text x="1" y="417.3" font-size="20" font-weight="bold" fill="#000">G</text><defs><filter id="bl" x="-30%" y="-100%" width="160%" height="300%"><feGaussianBlur stdDeviation="1.05"/></filter></defs><text transform="translate(56.8 424.2) scale(0.86 1)" font-size="11.6" text-anchor="middle">1</text><line x1="37.8" y1="427.3" x2="76" y2="427.3" stroke="#3c3c3c" stroke-width="1.0"/><text x="47.5" y="439.6" font-size="11.4" text-anchor="middle">N</text><text x="66.3" y="439.6" font-size="11.4" text-anchor="middle">T</text><text transform="translate(99.2 424.2) scale(0.86 1)" font-size="11.6" text-anchor="middle">2</text><line x1="80.1" y1="427.3" x2="118.4" y2="427.3" stroke="#3c3c3c" stroke-width="1.0"/><text x="89.8" y="439.6" font-size="11.4" text-anchor="middle">N</text><text x="108.7" y="439.6" font-size="11.4" text-anchor="middle">T</text><text transform="translate(141.5 424.2) scale(0.86 1)" font-size="11.6" text-anchor="middle">3</text><line x1="122.4" y1="427.3" x2="160.7" y2="427.3" stroke="#3c3c3c" stroke-width="1.0"/><text x="132.1" y="439.6" font-size="11.4" text-anchor="middle">N</text><text x="151" y="439.6" font-size="11.4" text-anchor="middle">T</text><text transform="translate(183.8 424.2) scale(0.86 1)" font-size="11.6" text-anchor="middle">4</text><line x1="164.7" y1="427.3" x2="203" y2="427.3" stroke="#3c3c3c" stroke-width="1.0"/><text x="174.4" y="439.6" font-size="11.4" text-anchor="middle">N</text><text x="193.3" y="439.6" font-size="11.4" text-anchor="middle">T</text><text transform="translate(226.1 424.2) scale(0.86 1)" font-size="11.6" text-anchor="middle">5</text><line x1="207" y1="427.3" x2="245.3" y2="427.3" stroke="#3c3c3c" stroke-width="1.0"/><text x="216.7" y="439.6" font-size="11.4" text-anchor="middle">N</text><text x="235.6" y="439.6" font-size="11.4" text-anchor="middle">T</text><text transform="translate(268.4 424.2) scale(0.86 1)" font-size="11.6" text-anchor="middle">6</text><line x1="249.3" y1="427.3" x2="287.6" y2="427.3" stroke="#3c3c3c" stroke-width="1.0"/><text x="259" y="439.6" font-size="11.4" text-anchor="middle">N</text><text x="277.9" y="439.6" font-size="11.4" text-anchor="middle">T</text><text transform="translate(310.7 424.2) scale(0.86 1)" font-size="11.6" text-anchor="middle">7</text><line x1="291.6" y1="427.3" x2="329.9" y2="427.3" stroke="#3c3c3c" stroke-width="1.0"/><text x="301.3" y="439.6" font-size="11.4" text-anchor="middle">N</text><text x="320.2" y="439.6" font-size="11.4" text-anchor="middle">T</text><text transform="translate(353 424.2) scale(0.86 1)" font-size="11.6" text-anchor="middle">8</text><line x1="333.9" y1="427.3" x2="372.2" y2="427.3" stroke="#3c3c3c" stroke-width="1.0"/><text x="343.6" y="439.6" font-size="11.4" text-anchor="middle">N</text><text x="362.5" y="439.6" font-size="11.4" text-anchor="middle">T</text><text transform="translate(395.3 424.2) scale(0.86 1)" font-size="11.6" text-anchor="middle">9</text><line x1="376.2" y1="427.3" x2="414.5" y2="427.3" stroke="#3c3c3c" stroke-width="1.0"/><text x="385.9" y="439.6" font-size="11.4" text-anchor="middle">N</text><text x="404.8" y="439.6" font-size="11.4" text-anchor="middle">T</text><text transform="translate(437.6 424.2) scale(0.86 1)" font-size="11.6" text-anchor="middle">10</text><line x1="418.5" y1="427.3" x2="456.8" y2="427.3" stroke="#3c3c3c" stroke-width="1.0"/><text x="428.2" y="439.6" font-size="11.4" text-anchor="middle">N</text><text x="447.1" y="439.6" font-size="11.4" text-anchor="middle">T</text><rect x="37.6" y="442.5" width="39.2" height="20" fill="#e6e6e6"/><rect x="37.6" y="467.2" width="39.2" height="20.2" fill="#e6e6e6"/><rect x="80" y="442.5" width="39.2" height="20" fill="#e6e6e6"/><rect x="80" y="467.2" width="39.2" height="20.2" fill="#e6e6e6"/><rect x="122.3" y="442.5" width="39.2" height="20" fill="#e6e6e6"/><rect x="122.3" y="467.2" width="39.2" height="20.2" fill="#e6e6e6"/><rect x="164.6" y="442.5" width="39.2" height="20" fill="#e6e6e6"/><rect x="164.6" y="467.2" width="39.2" height="20.2" fill="#e6e6e6"/><rect x="206.9" y="442.5" width="39.2" height="20" fill="#e6e6e6"/><rect x="206.9" y="467.2" width="39.2" height="20.2" fill="#e6e6e6"/><rect x="249.2" y="442.5" width="39.2" height="20" fill="#e6e6e6"/><rect x="249.2" y="467.2" width="39.2" height="20.2" fill="#e6e6e6"/><rect x="291.5" y="442.5" width="39.2" height="20" fill="#e6e6e6"/><rect x="291.5" y="467.2" width="39.2" height="20.2" fill="#e6e6e6"/><rect x="333.8" y="442.5" width="39.2" height="20" fill="#e6e6e6"/><rect x="333.8" y="467.2" width="39.2" height="20.2" fill="#e6e6e6"/><rect x="376.1" y="442.5" width="39.2" height="20" fill="#e6e6e6"/><rect x="376.1" y="467.2" width="39.2" height="20.2" fill="#e6e6e6"/><rect x="418.4" y="442.5" width="39.2" height="20" fill="#e6e6e6"/><rect x="418.4" y="467.2" width="39.2" height="20.2" fill="#e6e6e6"/><g filter="url(#bl)"><rect x="43" y="443.8" width="9" height="5.4" rx="2.7" fill="rgb(211,211,211)"/><rect x="40.5" y="451" width="14" height="4" rx="2" fill="rgb(198,198,198)"/><rect x="58.3" y="452.1" width="16" height="4.4" rx="2.2" fill="rgb(0,0,0)"/><rect x="38.5" y="472.1" width="18" height="10.4" rx="3" fill="rgb(0,0,0)"/><rect x="57.8" y="472.3" width="17" height="9.9" rx="3" fill="rgb(0,0,0)"/><rect x="103.4" y="452.1" width="13" height="3.8" rx="1.9" fill="rgb(19,19,19)"/><rect x="82.3" y="474.9" width="15" height="5.8" rx="2.9" fill="rgb(0,0,0)"/><rect x="100.7" y="474.9" width="16" height="5.8" rx="2.9" fill="rgb(0,0,0)"/><rect x="125.1" y="449.7" width="14" height="3.2" rx="1.6" fill="rgb(93,93,93)"/><rect x="125.6" y="453.4" width="13" height="3" rx="1.5" fill="rgb(117,117,117)"/><rect x="143" y="450.6" width="16" height="5.8" rx="2.9" fill="rgb(0,0,0)"/><rect x="124.1" y="474" width="16" height="3.6" rx="1.8" fill="rgb(0,0,0)"/><rect x="124.6" y="478.1" width="15" height="3.4" rx="1.7" fill="rgb(105,105,105)"/><rect x="143" y="474.1" width="16" height="3.4" rx="1.7" fill="rgb(0,0,0)"/><rect x="143.5" y="478.1" width="15" height="3.4" rx="1.7" fill="rgb(130,130,130)"/><rect x="168.7" y="450" width="9" height="4" rx="2" fill="rgb(105,105,105)"/><rect x="185.8" y="451.2" width="15" height="5" rx="2.5" fill="rgb(0,0,0)"/><rect x="167.4" y="476" width="14" height="3.6" rx="1.8" fill="rgb(0,0,0)"/><rect x="185.8" y="476" width="15" height="3.6" rx="1.8" fill="rgb(0,0,0)"/><rect x="210.2" y="450.3" width="13" height="4.4" rx="2.2" fill="rgb(179,179,179)"/><rect x="227.6" y="450.3" width="16" height="5.2" rx="2.6" fill="rgb(0,0,0)"/><rect x="208.7" y="474.3" width="16" height="5.9" rx="3" fill="rgb(0,0,0)"/><rect x="227.6" y="474.3" width="16" height="5.9" rx="3" fill="rgb(0,0,0)"/><rect x="252" y="450.6" width="14" height="4.8" rx="2.4" fill="rgb(159,159,159)"/><rect x="269.9" y="450.3" width="16" height="5.2" rx="2.6" fill="rgb(0,0,0)"/><rect x="251.5" y="475" width="15" height="4.6" rx="2.3" fill="rgb(0,0,0)"/><rect x="270.4" y="475" width="15" height="4.6" rx="2.3" fill="rgb(0,0,0)"/><rect x="294.8" y="451.3" width="13" height="4.4" rx="2.2" fill="rgb(154,154,154)"/><rect x="312.2" y="450.3" width="16" height="5.2" rx="2.6" fill="rgb(0,0,0)"/><rect x="293.3" y="474.3" width="16" height="5.9" rx="3" fill="rgb(0,0,0)"/><rect x="312.2" y="474.3" width="16" height="5.9" rx="3" fill="rgb(0,0,0)"/><rect x="338.1" y="450.3" width="11" height="4.4" rx="2.2" fill="rgb(213,213,213)"/><rect x="357.7" y="451.1" width="12" height="3.7" rx="1.8" fill="rgb(31,31,31)"/><rect x="335.6" y="474.1" width="16" height="6.4" rx="3" fill="rgb(0,0,0)"/><rect x="354.5" y="473.8" width="16" height="6.9" rx="3" fill="rgb(0,0,0)"/><rect x="379.9" y="450.8" width="12" height="4.4" rx="2.2" fill="rgb(184,184,184)"/><rect x="397.3" y="450.4" width="15" height="5.2" rx="2.6" fill="rgb(0,0,0)"/><rect x="378.9" y="474.3" width="14" height="4.9" rx="2.5" fill="rgb(0,0,0)"/><rect x="397.3" y="474.6" width="15" height="5.4" rx="2.7" fill="rgb(0,0,0)"/><rect x="421.7" y="449.4" width="13" height="2.9" rx="1.4" fill="rgb(68,68,68)"/><rect x="421.7" y="452.7" width="13" height="2.8" rx="1.4" fill="rgb(130,130,130)"/><rect x="439.1" y="450.7" width="16" height="4.6" rx="2.3" fill="rgb(0,0,0)"/><rect x="420.7" y="473.8" width="15" height="3.9" rx="1.9" fill="rgb(0,0,0)"/><rect x="421.2" y="477.8" width="14" height="3.9" rx="1.9" fill="rgb(93,93,93)"/><rect x="439.6" y="473.8" width="15" height="3.9" rx="1.9" fill="rgb(0,0,0)"/><rect x="440.1" y="478.1" width="14" height="3.4" rx="1.7" fill="rgb(105,105,105)"/><rect x="440.6" y="470.8" width="13" height="2.9" rx="1.4" fill="rgb(179,179,179)"/></g><g fill="none" stroke="#2a2a2a" stroke-width="1.2"><rect x="37.6" y="442.5" width="39.2" height="20"/><rect x="37.6" y="467.2" width="39.2" height="20.2"/><rect x="80" y="442.5" width="39.2" height="20"/><rect x="80" y="467.2" width="39.2" height="20.2"/><rect x="122.3" y="442.5" width="39.2" height="20"/><rect x="122.3" y="467.2" width="39.2" height="20.2"/><rect x="164.6" y="442.5" width="39.2" height="20"/><rect x="164.6" y="467.2" width="39.2" height="20.2"/><rect x="206.9" y="442.5" width="39.2" height="20"/><rect x="206.9" y="467.2" width="39.2" height="20.2"/><rect x="249.2" y="442.5" width="39.2" height="20"/><rect x="249.2" y="467.2" width="39.2" height="20.2"/><rect x="291.5" y="442.5" width="39.2" height="20"/><rect x="291.5" y="467.2" width="39.2" height="20.2"/><rect x="333.8" y="442.5" width="39.2" height="20"/><rect x="333.8" y="467.2" width="39.2" height="20.2"/><rect x="376.1" y="442.5" width="39.2" height="20"/><rect x="376.1" y="467.2" width="39.2" height="20.2"/><rect x="418.4" y="442.5" width="39.2" height="20"/><rect x="418.4" y="467.2" width="39.2" height="20.2"/></g><text x="34.4" y="463.2" font-size="8.3" text-anchor="end">15-</text><text x="34.4" y="488.2" font-size="8.3" text-anchor="end">100-</text><text x="461.9" y="456.8" font-size="11">PPP1R14B</text><text x="461.9" y="481.1" font-size="11">Vinculin</text><text transform="translate(56.8 503.6) scale(0.86 1)" font-size="11.6" text-anchor="middle">11</text><line x1="37.8" y1="506.7" x2="76" y2="506.7" stroke="#3c3c3c" stroke-width="1.0"/><text x="47.5" y="519" font-size="11.4" text-anchor="middle">N</text><text x="66.3" y="519" font-size="11.4" text-anchor="middle">T</text><text transform="translate(99.2 503.6) scale(0.86 1)" font-size="11.6" text-anchor="middle">12</text><line x1="80.1" y1="506.7" x2="118.4" y2="506.7" stroke="#3c3c3c" stroke-width="1.0"/><text x="89.8" y="519" font-size="11.4" text-anchor="middle">N</text><text x="108.7" y="519" font-size="11.4" text-anchor="middle">T</text><text transform="translate(141.5 503.6) scale(0.86 1)" font-size="11.6" text-anchor="middle">13</text><line x1="122.4" y1="506.7" x2="160.7" y2="506.7" stroke="#3c3c3c" stroke-width="1.0"/><text x="132.1" y="519" font-size="11.4" text-anchor="middle">N</text><text x="151" y="519" font-size="11.4" text-anchor="middle">T</text><text transform="translate(183.8 503.6) scale(0.86 1)" font-size="11.6" text-anchor="middle">14</text><line x1="164.7" y1="506.7" x2="203" y2="506.7" stroke="#3c3c3c" stroke-width="1.0"/><text x="174.4" y="519" font-size="11.4" text-anchor="middle">N</text><text x="193.3" y="519" font-size="11.4" text-anchor="middle">T</text><text transform="translate(226.1 503.6) scale(0.86 1)" font-size="11.6" text-anchor="middle">15</text><line x1="207" y1="506.7" x2="245.3" y2="506.7" stroke="#3c3c3c" stroke-width="1.0"/><text x="216.7" y="519" font-size="11.4" text-anchor="middle">N</text><text x="235.6" y="519" font-size="11.4" text-anchor="middle">T</text><text transform="translate(268.4 503.6) scale(0.86 1)" font-size="11.6" text-anchor="middle">16</text><line x1="249.3" y1="506.7" x2="287.6" y2="506.7" stroke="#3c3c3c" stroke-width="1.0"/><text x="259" y="519" font-size="11.4" text-anchor="middle">N</text><text x="277.9" y="519" font-size="11.4" text-anchor="middle">T</text><text transform="translate(310.7 503.6) scale(0.86 1)" font-size="11.6" text-anchor="middle">17</text><line x1="291.6" y1="506.7" x2="329.9" y2="506.7" stroke="#3c3c3c" stroke-width="1.0"/><text x="301.3" y="519" font-size="11.4" text-anchor="middle">N</text><text x="320.2" y="519" font-size="11.4" text-anchor="middle">T</text><text transform="translate(353 503.6) scale(0.86 1)" font-size="11.6" text-anchor="middle">18</text><line x1="333.9" y1="506.7" x2="372.2" y2="506.7" stroke="#3c3c3c" stroke-width="1.0"/><text x="343.6" y="519" font-size="11.4" text-anchor="middle">N</text><text x="362.5" y="519" font-size="11.4" text-anchor="middle">T</text><text transform="translate(395.3 503.6) scale(0.86 1)" font-size="11.6" text-anchor="middle">19</text><line x1="376.2" y1="506.7" x2="414.5" y2="506.7" stroke="#3c3c3c" stroke-width="1.0"/><text x="385.9" y="519" font-size="11.4" text-anchor="middle">N</text><text x="404.8" y="519" font-size="11.4" text-anchor="middle">T</text><text transform="translate(437.6 503.6) scale(0.86 1)" font-size="11.6" text-anchor="middle">20</text><line x1="418.5" y1="506.7" x2="456.8" y2="506.7" stroke="#3c3c3c" stroke-width="1.0"/><text x="428.2" y="519" font-size="11.4" text-anchor="middle">N</text><text x="447.1" y="519" font-size="11.4" text-anchor="middle">T</text><rect x="37.6" y="521.9" width="39.2" height="20" fill="#e6e6e6"/><rect x="37.6" y="546.6" width="39.2" height="20" fill="#e6e6e6"/><rect x="80" y="521.9" width="39.2" height="20" fill="#e6e6e6"/><rect x="80" y="546.6" width="39.2" height="20" fill="#e6e6e6"/><rect x="122.3" y="521.9" width="39.2" height="20" fill="#e6e6e6"/><rect x="122.3" y="546.6" width="39.2" height="20" fill="#e6e6e6"/><rect x="164.6" y="521.9" width="39.2" height="20" fill="#e6e6e6"/><rect x="164.6" y="546.6" width="39.2" height="20" fill="#e6e6e6"/><rect x="206.9" y="521.9" width="39.2" height="20" fill="#e6e6e6"/><rect x="206.9" y="546.6" width="39.2" height="20" fill="#e6e6e6"/><rect x="249.2" y="521.9" width="39.2" height="20" fill="#e6e6e6"/><rect x="249.2" y="546.6" width="39.2" height="20" fill="#e6e6e6"/><rect x="291.5" y="521.9" width="39.2" height="20" fill="#e6e6e6"/><rect x="291.5" y="546.6" width="39.2" height="20" fill="#e6e6e6"/><rect x="333.8" y="521.9" width="39.2" height="20" fill="#e6e6e6"/><rect x="333.8" y="546.6" width="39.2" height="20" fill="#e6e6e6"/><rect x="376.1" y="521.9" width="39.2" height="20" fill="#e6e6e6"/><rect x="376.1" y="546.6" width="39.2" height="20" fill="#e6e6e6"/><rect x="418.4" y="521.9" width="39.2" height="20" fill="#e6e6e6"/><rect x="418.4" y="546.6" width="39.2" height="20" fill="#e6e6e6"/><g filter="url(#bl)"><rect x="42" y="529.7" width="11" height="4.4" rx="2.2" fill="rgb(216,216,216)"/><rect x="58.3" y="527.2" width="16" height="7.4" rx="3" fill="rgb(0,0,0)"/><rect x="39.5" y="553.4" width="16" height="6.4" rx="3" fill="rgb(0,0,0)"/><rect x="58.8" y="553.9" width="15" height="5.4" rx="2.7" fill="rgb(0,0,0)"/><rect x="83.8" y="530.7" width="12" height="4.4" rx="2.2" fill="rgb(198,198,198)"/><rect x="100.7" y="529.4" width="16" height="6" rx="3" fill="rgb(0,0,0)"/><rect x="81.8" y="553.4" width="16" height="6.4" rx="3" fill="rgb(0,0,0)"/><rect x="101.2" y="553.6" width="15" height="5.9" rx="3" fill="rgb(0,0,0)"/><rect x="125.6" y="529.2" width="13" height="5.4" rx="2.7" fill="rgb(203,203,203)"/><rect x="143" y="528.7" width="16" height="6.4" rx="3" fill="rgb(147,147,147)"/><rect x="124.6" y="553.6" width="15" height="4.9" rx="2.5" fill="rgb(19,19,19)"/><rect x="144.5" y="554.9" width="13" height="4.4" rx="2.2" fill="rgb(6,6,6)"/><rect x="167.9" y="529.2" width="13" height="5.4" rx="2.7" fill="rgb(179,179,179)"/><rect x="186.3" y="529.2" width="14" height="5.4" rx="2.7" fill="rgb(154,154,154)"/><rect x="166.9" y="553.4" width="15" height="5.4" rx="2.7" fill="rgb(0,0,0)"/><rect x="184.8" y="552.4" width="17" height="8.4" rx="3" fill="rgb(0,0,0)"/><rect x="210.7" y="530.2" width="12" height="4.4" rx="2.2" fill="rgb(184,184,184)"/><rect x="228.1" y="528.7" width="15" height="6.4" rx="3" fill="rgb(6,6,6)"/><rect x="208.7" y="553.1" width="16" height="6.9" rx="3" fill="rgb(0,0,0)"/><rect x="227.6" y="552.9" width="16" height="7.4" rx="3" fill="rgb(0,0,0)"/><rect x="270.4" y="528.7" width="15" height="6.4" rx="3" fill="rgb(80,80,80)"/><rect x="252" y="553.9" width="14" height="5.4" rx="2.7" fill="rgb(0,0,0)"/><rect x="269.4" y="552.9" width="17" height="7.4" rx="3" fill="rgb(0,0,0)"/><rect x="295.8" y="530.7" width="11" height="3.4" rx="1.7" fill="rgb(130,130,130)"/><rect x="312.7" y="529.2" width="15" height="5.4" rx="2.7" fill="rgb(31,31,31)"/><rect x="293.8" y="554.1" width="15" height="4.9" rx="2.5" fill="rgb(0,0,0)"/><rect x="313.2" y="554.4" width="14" height="4.4" rx="2.2" fill="rgb(0,0,0)"/><rect x="337.6" y="529.7" width="12" height="4.4" rx="2.2" fill="rgb(191,191,191)"/><rect x="355" y="528.9" width="15" height="5.9" rx="3" fill="rgb(68,68,68)"/><rect x="335.6" y="552.9" width="16" height="6.4" rx="3" fill="rgb(0,0,0)"/><rect x="354.5" y="553.4" width="16" height="6.4" rx="3" fill="rgb(0,0,0)"/><rect x="379.4" y="529.4" width="13" height="4.9" rx="2.5" fill="rgb(166,166,166)"/><rect x="397.3" y="527.7" width="15" height="7.4" rx="3" fill="rgb(0,0,0)"/><rect x="380.4" y="554.4" width="11" height="4.4" rx="2.2" fill="rgb(0,0,0)"/><rect x="397.8" y="554.8" width="14" height="3.6" rx="1.8" fill="rgb(0,0,0)"/><rect x="423.7" y="530.4" width="9" height="3.9" rx="1.9" fill="rgb(198,198,198)"/><rect x="438.6" y="528.2" width="17" height="7.4" rx="3" fill="rgb(0,0,0)"/><rect x="419.7" y="553.1" width="17" height="6.9" rx="3" fill="rgb(0,0,0)"/><rect x="439.1" y="553.6" width="16" height="5.9" rx="3" fill="rgb(0,0,0)"/></g><g fill="none" stroke="#2a2a2a" stroke-width="1.2"><rect x="37.6" y="521.9" width="39.2" height="20"/><rect x="37.6" y="546.6" width="39.2" height="20"/><rect x="80" y="521.9" width="39.2" height="20"/><rect x="80" y="546.6" width="39.2" height="20"/><rect x="122.3" y="521.9" width="39.2" height="20"/><rect x="122.3" y="546.6" width="39.2" height="20"/><rect x="164.6" y="521.9" width="39.2" height="20"/><rect x="164.6" y="546.6" width="39.2" height="20"/><rect x="206.9" y="521.9" width="39.2" height="20"/><rect x="206.9" y="546.6" width="39.2" height="20"/><rect x="249.2" y="521.9" width="39.2" height="20"/><rect x="249.2" y="546.6" width="39.2" height="20"/><rect x="291.5" y="521.9" width="39.2" height="20"/><rect x="291.5" y="546.6" width="39.2" height="20"/><rect x="333.8" y="521.9" width="39.2" height="20"/><rect x="333.8" y="546.6" width="39.2" height="20"/><rect x="376.1" y="521.9" width="39.2" height="20"/><rect x="376.1" y="546.6" width="39.2" height="20"/><rect x="418.4" y="521.9" width="39.2" height="20"/><rect x="418.4" y="546.6" width="39.2" height="20"/></g><text x="34.4" y="542.6" font-size="8.3" text-anchor="end">15-</text><text x="34.4" y="567.4" font-size="8.3" text-anchor="end">100-</text><text x="461.9" y="536.2" font-size="11">PPP1R14B</text><text x="461.9" y="560.5" font-size="11">Vinculin</text><text x="552.5" y="416.1" font-size="20" font-weight="bold" fill="#000">I</text><text x="703" y="410.8" font-size="11.2" text-anchor="middle">CPTAC dataset</text><defs><marker id="m4" markerUnits="userSpaceOnUse" markerWidth="1" markerHeight="1" refX="0" refY="0" overflow="visible"><circle r="2.0" fill="none" stroke="#5b8fd6" stroke-width="0.9"/></marker></defs><path d="M637.3 490.5M645.2 494.2M653.3 495.0M637.3 500.7M645.2 501.8M653.3 502.2M637.3 505.6M637.3 511.2M645.2 509.7M653.3 512.5M645.2 513.9M637.3 520.1M653.3 523.9M653.3 528.2M637.3 531.4M645.2 531.4M653.3 532.4M637.3 535.8" fill="none" stroke="none" marker-start="url(#m4)" marker-mid="url(#m4)" marker-end="url(#m4)"/><defs><marker id="m5" markerUnits="userSpaceOnUse" markerWidth="1" markerHeight="1" refX="0" refY="0" overflow="visible"><rect x="-1.45" y="-1.45" width="2.9" height="2.9" fill="none" stroke="#1a9ab3" stroke-width="0.9"/></marker></defs><path d="M669.6 520.8M673.2 520.8M676.8 520.8M680.4 520.8M684.0 520.8M687.6 520.8M691.2 520.8M668.4 511.5M671.4 511.5M674.4 511.5M677.4 511.5M680.4 511.5M683.4 511.5M686.4 511.5M689.4 511.5M692.4 511.5M668.4 502.2M671.8 502.2M675.3 502.2M678.7 502.2M682.1 502.2M685.5 502.2M689.0 502.2M692.4 502.2M676.8 514.6M680.4 514.6M684.0 514.6M669.6 505.3M673.2 505.3M676.8 505.3M680.4 505.3M684.0 505.3M687.6 505.3M691.2 505.3M678.6 492.9M682.2 492.9M673.2 496.0M676.8 496.0M680.4 496.0M684.0 496.0M687.6 496.0M680.4 523.9M680.4 527.0M680.4 489.8M675.0 508.4M678.6 508.4M682.2 508.4M685.8 508.4M678.6 499.1M682.2 499.1M680.4 530.1M675.0 517.7M678.6 517.7M682.2 517.7M685.8 517.7M680.4 483.6M680.4 468.1M680.4 474.3M680.4 477.4M678.6 480.5M682.2 480.5M680.4 533.2" fill="none" stroke="none" marker-start="url(#m5)" marker-mid="url(#m5)" marker-end="url(#m5)"/><defs><marker id="m6" markerUnits="userSpaceOnUse" markerWidth="1" markerHeight="1" refX="0" refY="0" overflow="visible"><path d="M0 -2.2L2.2 0L0 2.2L-2.2 0z" fill="none" stroke="#f3953a" stroke-width="0.9"/></marker></defs><path d="M718.4 471.6M710.3 481.8M718.4 484.2M718.4 499.9M710.3 510.7M718.4 513.9M710.3 516.3M718.4 519.5M710.3 531.4M726.5 530.8" fill="none" stroke="none" marker-start="url(#m6)" marker-mid="url(#m6)" marker-end="url(#m6)"/><defs><marker id="m7" markerUnits="userSpaceOnUse" markerWidth="1" markerHeight="1" refX="0" refY="0" overflow="visible"><circle r="2.0" fill="none" stroke="#e83a44" stroke-width="0.9"/></marker></defs><path d="M754.8 476.7M754.8 483.3M754.8 491.8M746.7 495.0M762.7 493.1M754.8 498.8M762.7 498.8M754.8 503.1M746.7 509.7M754.8 508.8M762.7 508.2M746.7 513.9M762.7 515.8M754.8 519.5M754.8 538.0M755.0 449.5" fill="none" stroke="none" marker-start="url(#m7)" marker-mid="url(#m7)" marker-end="url(#m7)"/><path d="M639.2 498.8H651.2M645.2 498.8V527.6M639.2 527.6H651.2" stroke="#7a7a7a" stroke-width="1.3" fill="none"/><line x1="633.2" y1="513.5" x2="657.2" y2="513.5" stroke="#111" stroke-width="2.2"/><path d="M674.9 490.8H686.9M680.9 490.8V521M674.9 521H686.9" stroke="#7a7a7a" stroke-width="1.3" fill="none"/><line x1="668.9" y1="506" x2="692.9" y2="506" stroke="#111" stroke-width="2.2"/><path d="M712.3 485.2H724.3M718.3 485.2V527.1M712.3 527.1H724.3" stroke="#7a7a7a" stroke-width="1.3" fill="none"/><line x1="706.3" y1="506" x2="730.3" y2="506" stroke="#111" stroke-width="2.2"/><path d="M749.2 480.1H761.2M755.2 480.1V520.3M749.2 520.3H761.2" stroke="#7a7a7a" stroke-width="1.3" fill="none"/><line x1="743.2" y1="500.3" x2="767.2" y2="500.3" stroke="#111" stroke-width="2.2"/><line x1="620.8" y1="422.6" x2="620.8" y2="551.6" stroke="#000" stroke-width="1.3"/><line x1="615" y1="423.3" x2="620.8" y2="423.3" stroke="#000" stroke-width="1.3"/><text x="612.4" y="427" font-size="10.5" text-anchor="end">2</text><line x1="615" y1="465.8" x2="620.8" y2="465.8" stroke="#000" stroke-width="1.3"/><text x="612.4" y="469.6" font-size="10.5" text-anchor="end">1</text><line x1="615" y1="508.4" x2="620.8" y2="508.4" stroke="#000" stroke-width="1.3"/><text x="612.4" y="512.1" font-size="10.5" text-anchor="end">0</text><line x1="615" y1="551" x2="620.8" y2="551" stroke="#000" stroke-width="1.3"/><text x="612.4" y="554.7" font-size="10.5" text-anchor="end">-1</text><line x1="620.1" y1="550.9" x2="779.8" y2="550.9" stroke="#000" stroke-width="1.3"/><line x1="645.1" y1="550.9" x2="645.1" y2="556.7" stroke="#000" stroke-width="1.3"/><line x1="681.8" y1="550.9" x2="681.8" y2="556.7" stroke="#000" stroke-width="1.3"/><line x1="718.5" y1="550.9" x2="718.5" y2="556.7" stroke="#000" stroke-width="1.3"/><line x1="754.7" y1="550.9" x2="754.7" y2="556.7" stroke="#000" stroke-width="1.3"/><path d="M645.3 428.2V425.9H752.5V428.2" stroke="#3a3a3a" stroke-width="0.9" fill="none"/><text x="697.4" y="427" font-size="10.5" text-anchor="middle">*</text><path d="M645.3 442.1V439.8H718.5V442.1" stroke="#3a3a3a" stroke-width="0.9" fill="none"/><text x="678.3" y="436.1" font-size="11" text-anchor="middle">ns</text><path d="M645.3 456.1V453.6H681.5V456.1" stroke="#3a3a3a" stroke-width="0.9" fill="none"/><text x="661.5" y="449.3" font-size="11" text-anchor="middle">ns</text><text x="581.3" y="484.5" font-size="11.1" text-anchor="middle" transform="rotate(-90 581.3 484.5)">Relative PPP1R14B levels</text><text x="596" y="484.5" font-size="11.1" text-anchor="middle" transform="rotate(-90 596 484.5)">(Z value)</text><text x="640.3" y="569" text-anchor="middle">Normal</text><text x="641.3" y="582.6" font-size="10.2" text-anchor="middle">(<tspan font-style="italic">n</tspan> = 18)</text><text x="681.8" y="569" text-anchor="middle">Luminal</text><text x="682.2" y="582.6" font-size="10.2" text-anchor="middle">(<tspan font-style="italic">n</tspan> = 64)</text><text x="723.1" y="569" text-anchor="middle">HER2+</text><text x="721.7" y="582.6" font-size="10.2" text-anchor="middle">(<tspan font-style="italic">n</tspan> = 10)</text><text x="759" y="569" text-anchor="middle">TNBC</text><text x="759.9" y="582.6" font-size="10.2" text-anchor="middle">(<tspan font-style="italic">n</tspan> = 16)</text><text x="2.2" y="618.8" font-size="20" font-weight="bold" fill="#000">J</text><text x="146.5" y="615.8" font-size="11.2" text-anchor="middle">TCGA dataset</text><path d="M93.9 713H105.9M99.9 713V727.5M93.9 727.5H105.9" stroke="#222" stroke-width="1.2" fill="none"/><path d="M132.3 697H144.3M138.3 697V715.5M132.3 715.5H144.3" stroke="#222" stroke-width="1.2" fill="none"/><path d="M170.3 687.2H182.3M176.3 687.2V709M170.3 709H182.3" stroke="#222" stroke-width="1.2" fill="none"/><path d="M208.5 681.5H220.5M214.5 681.5V703.5M208.5 703.5H220.5" stroke="#222" stroke-width="1.2" fill="none"/><line x1="87.4" y1="720.2" x2="112.4" y2="720.2" stroke="#111" stroke-width="1.8"/><line x1="125.8" y1="706" x2="150.8" y2="706" stroke="#111" stroke-width="1.8"/><line x1="163.8" y1="698.2" x2="188.8" y2="698.2" stroke="#111" stroke-width="1.8"/><line x1="202" y1="692.5" x2="227" y2="692.5" stroke="#111" stroke-width="1.8"/><defs><marker id="m8" markerUnits="userSpaceOnUse" markerWidth="1" markerHeight="1" refX="0" refY="0" overflow="visible"><circle r="1.85" fill="none" stroke="#5b8fd6" stroke-width="0.8"/></marker></defs><path d="M91.2 716.1M93.8 716.1M97.2 716.1M99.5 716.1M102.7 716.1M105.9 716.1M109.1 716.1M87.4 722.4M89.2 722.4M90.2 722.4M91.3 722.4M91.7 722.4M93.0 722.4M94.9 722.4M96.0 722.4M96.9 722.4M99.1 722.4M99.8 722.4M101.6 722.4M101.9 722.4M103.7 722.4M105.5 722.4M105.7 722.4M106.8 722.4M109.1 722.4M109.2 722.4M111.3 722.4M113.0 722.4M92.7 714.0M95.2 714.0M98.5 714.0M101.1 714.0M104.1 714.0M106.5 714.0M87.9 724.5M90.5 724.5M92.9 724.5M95.1 724.5M97.4 724.5M100.5 724.5M102.6 724.5M104.8 724.5M108.0 724.5M110.4 724.5M112.0 724.5M87.9 720.3M89.0 720.3M90.3 720.3M91.2 720.3M93.1 720.3M93.7 720.3M96.1 720.3M97.8 720.3M98.7 720.3M100.2 720.3M100.8 720.3M102.9 720.3M103.8 720.3M106.1 720.3M107.1 720.3M107.8 720.3M109.7 720.3M110.3 720.3M112.2 720.3M88.8 730.8M91.5 730.8M94.1 730.8M97.1 730.8M99.6 730.8M102.2 730.8M106.2 730.8M108.9 730.8M110.9 730.8M88.2 726.6M91.5 726.6M94.5 726.6M97.5 726.6M99.4 726.6M103.2 726.6M105.5 726.6M108.3 726.6M110.8 726.6M92.3 711.9M95.7 711.9M97.8 711.9M101.4 711.9M104.7 711.9M106.7 711.9M98.1 707.7M101.6 707.7M87.1 718.2M89.8 718.2M92.7 718.2M94.6 718.2M96.8 718.2M100.6 718.2M102.4 718.2M104.7 718.2M107.0 718.2M110.3 718.2M113.1 718.2M97.1 705.6M99.5 705.6M102.3 705.6M98.4 732.9M101.3 732.9M95.5 728.7M98.8 728.7M101.2 728.7M104.3 728.7M100.4 709.8M99.3 699.3M99.3 739.2" fill="none" stroke="none" marker-start="url(#m8)" marker-mid="url(#m8)" marker-end="url(#m8)"/><defs><marker id="m9" markerUnits="userSpaceOnUse" markerWidth="1" markerHeight="1" refX="0" refY="0" overflow="visible"><rect x="-1.25" y="-1.25" width="2.5" height="2.5" fill="none" stroke="#1a9ab3" stroke-width="0.8"/></marker></defs><path d="M128.9 715.5M129.2 715.5M130.3 715.5M130.5 715.5M131.4 715.5M131.9 715.5M132.7 715.5M133.3 715.5M133.8 715.5M134.9 715.5M135.4 715.5M136.2 715.5M136.6 715.5M137.2 715.5M138.2 715.5M138.4 715.5M139.6 715.5M140.1 715.5M140.4 715.5M141.2 715.5M141.6 715.5M142.8 715.5M143.3 715.5M144.1 715.5M144.6 715.5M145.5 715.5M145.7 715.5M146.3 715.5M147.1 715.5M147.8 715.5M126.2 706.5M127.0 706.5M127.2 706.5M128.1 706.5M129.0 706.5M129.5 706.5M130.3 706.5M130.6 706.5M131.7 706.5M132.0 706.5M132.5 706.5M133.4 706.5M133.9 706.5M134.6 706.5M135.3 706.5M136.1 706.5M137.0 706.5M137.1 706.5M137.9 706.5M138.8 706.5M139.5 706.5M139.7 706.5M140.6 706.5M141.4 706.5M142.1 706.5M142.7 706.5M143.0 706.5M143.9 706.5M144.4 706.5M145.2 706.5M146.1 706.5M146.3 706.5M147.1 706.5M148.1 706.5M148.4 706.5M149.0 706.5M150.0 706.5M150.3 706.5M128.5 703.5M129.2 703.5M129.9 703.5M130.4 703.5M131.1 703.5M132.0 703.5M132.1 703.5M133.2 703.5M133.9 703.5M134.5 703.5M134.8 703.5M135.5 703.5M136.2 703.5M137.1 703.5M137.6 703.5M138.0 703.5M138.7 703.5M139.6 703.5M140.0 703.5M141.0 703.5M141.3 703.5M142.2 703.5M143.1 703.5M143.7 703.5M144.4 703.5M145.1 703.5M145.6 703.5M146.3 703.5M146.8 703.5M147.5 703.5M148.3 703.5M133.1 696.0M133.8 696.0M134.5 696.0M134.9 696.0M135.8 696.0M136.4 696.0M137.1 696.0M137.5 696.0M138.4 696.0M139.0 696.0M139.6 696.0M140.5 696.0M141.2 696.0M141.6 696.0M142.5 696.0M142.7 696.0M143.6 696.0M129.2 700.5M129.7 700.5M130.2 700.5M130.8 700.5M131.5 700.5M132.2 700.5M133.2 700.5M133.4 700.5M134.3 700.5M135.0 700.5M135.6 700.5M136.1 700.5M137.2 700.5M137.8 700.5M138.3 700.5M138.9 700.5M139.8 700.5M140.5 700.5M140.9 700.5M141.9 700.5M142.4 700.5M143.1 700.5M143.6 700.5M144.3 700.5M145.2 700.5M145.6 700.5M146.5 700.5M146.8 700.5M147.3 700.5M132.9 718.5M133.7 718.5M134.2 718.5M135.2 718.5M135.8 718.5M136.4 718.5M137.1 718.5M137.8 718.5M138.1 718.5M139.0 718.5M139.9 718.5M140.1 718.5M141.1 718.5M141.9 718.5M142.0 718.5M143.0 718.5M143.6 718.5M135.7 694.5M136.2 694.5M137.2 694.5M137.9 694.5M138.6 694.5M139.1 694.5M139.4 694.5M140.2 694.5M141.1 694.5M127.8 708.0M129.0 708.0M129.6 708.0M130.2 708.0M130.8 708.0M131.4 708.0M132.2 708.0M132.7 708.0M133.4 708.0M134.1 708.0M134.7 708.0M135.3 708.0M135.7 708.0M136.5 708.0M137.0 708.0M138.2 708.0M138.8 708.0M139.2 708.0M140.1 708.0M140.7 708.0M141.5 708.0M141.7 708.0M142.7 708.0M143.3 708.0M143.8 708.0M144.6 708.0M145.3 708.0M145.6 708.0M146.6 708.0M147.4 708.0M147.7 708.0M148.4 708.0M126.8 702.0M127.4 702.0M128.2 702.0M128.8 702.0M129.5 702.0M130.0 702.0M130.4 702.0M131.5 702.0M131.8 702.0M132.9 702.0M133.3 702.0M134.2 702.0M134.7 702.0M135.2 702.0M136.2 702.0M136.7 702.0M137.2 702.0M137.9 702.0M138.7 702.0M139.2 702.0M139.7 702.0M140.3 702.0M141.4 702.0M142.2 702.0M142.8 702.0M143.2 702.0M143.7 702.0M144.3 702.0M145.4 702.0M145.8 702.0M146.6 702.0M147.2 702.0M147.9 702.0M148.7 702.0M149.3 702.0M149.6 702.0M132.1 699.0M133.0 699.0M134.0 699.0M134.4 699.0M134.9 699.0M135.9 699.0M136.3 699.0M137.0 699.0M137.8 699.0M138.4 699.0M138.9 699.0M139.4 699.0M140.0 699.0M141.0 699.0M141.4 699.0M142.2 699.0M142.7 699.0M143.6 699.0M144.4 699.0M136.7 693.0M137.4 693.0M138.2 693.0M139.0 693.0M139.7 693.0M130.2 717.0M130.9 717.0M131.1 717.0M132.3 717.0M132.9 717.0M133.5 717.0M134.1 717.0M134.5 717.0M135.6 717.0M136.2 717.0M136.5 717.0M137.1 717.0M138.2 717.0M138.4 717.0M139.4 717.0M140.0 717.0M140.3 717.0M141.3 717.0M141.9 717.0M142.9 717.0M143.2 717.0M144.0 717.0M144.3 717.0M145.1 717.0M145.8 717.0M146.5 717.0M137.1 691.5M138.0 691.5M138.7 691.5M139.5 691.5M128.3 714.0M129.0 714.0M129.7 714.0M130.3 714.0M130.9 714.0M131.2 714.0M132.0 714.0M132.9 714.0M133.1 714.0M134.0 714.0M134.8 714.0M135.1 714.0M135.7 714.0M136.5 714.0M137.5 714.0M138.2 714.0M138.9 714.0M139.6 714.0M140.2 714.0M140.5 714.0M141.5 714.0M141.9 714.0M142.7 714.0M143.5 714.0M144.1 714.0M144.5 714.0M145.4 714.0M145.6 714.0M146.8 714.0M147.4 714.0M147.8 714.0M148.8 714.0M131.8 697.5M132.9 697.5M133.5 697.5M134.0 697.5M134.9 697.5M135.2 697.5M136.1 697.5M136.8 697.5M137.6 697.5M138.0 697.5M138.4 697.5M139.5 697.5M140.0 697.5M140.8 697.5M141.0 697.5M142.1 697.5M142.3 697.5M143.2 697.5M143.6 697.5M144.8 697.5M137.3 729.0M138.0 729.0M138.9 729.0M139.5 729.0M138.0 690.0M138.9 690.0M132.9 720.0M133.3 720.0M134.0 720.0M134.4 720.0M135.3 720.0M135.8 720.0M136.5 720.0M137.4 720.0M137.7 720.0M138.9 720.0M139.1 720.0M139.7 720.0M140.7 720.0M141.0 720.0M141.9 720.0M142.7 720.0M143.2 720.0M143.7 720.0M128.4 705.0M129.1 705.0M129.8 705.0M130.6 705.0M131.2 705.0M131.7 705.0M132.2 705.0M133.3 705.0M133.7 705.0M134.5 705.0M134.8 705.0M135.8 705.0M136.3 705.0M136.8 705.0M137.9 705.0M138.5 705.0M138.8 705.0M139.8 705.0M140.6 705.0M141.1 705.0M141.7 705.0M142.4 705.0M142.9 705.0M143.4 705.0M144.0 705.0M144.9 705.0M145.5 705.0M146.1 705.0M146.7 705.0M147.4 705.0M148.0 705.0M136.1 721.5M136.4 721.5M137.6 721.5M138.1 721.5M138.7 721.5M139.5 721.5M140.0 721.5M140.5 721.5M126.7 712.5M127.5 712.5M128.3 712.5M129.0 712.5M129.2 712.5M130.2 712.5M131.0 712.5M131.1 712.5M132.2 712.5M132.8 712.5M133.5 712.5M134.3 712.5M134.4 712.5M135.6 712.5M136.3 712.5M136.6 712.5M137.3 712.5M137.9 712.5M138.6 712.5M139.3 712.5M140.2 712.5M140.9 712.5M141.0 712.5M142.0 712.5M142.8 712.5M143.2 712.5M143.9 712.5M144.5 712.5M145.2 712.5M145.7 712.5M146.5 712.5M147.3 712.5M147.8 712.5M148.2 712.5M148.9 712.5M150.0 712.5M126.0 711.0M126.3 711.0M127.1 711.0M127.8 711.0M128.5 711.0M129.0 711.0M129.5 711.0M130.5 711.0M131.1 711.0M131.6 711.0M132.2 711.0M133.1 711.0M133.9 711.0M134.5 711.0M135.2 711.0M135.5 711.0M136.5 711.0M136.8 711.0M137.6 711.0M138.3 711.0M138.8 711.0M139.9 711.0M140.4 711.0M140.8 711.0M141.4 711.0M142.0 711.0M142.8 711.0M143.4 711.0M144.1 711.0M144.8 711.0M145.7 711.0M146.5 711.0M147.1 711.0M147.4 711.0M148.0 711.0M148.6 711.0M149.4 711.0M150.1 711.0M150.6 711.0M137.5 727.5M138.6 727.5M138.9 727.5M126.7 709.5M127.3 709.5M127.6 709.5M128.3 709.5M129.1 709.5M129.5 709.5M130.2 709.5M131.0 709.5M131.7 709.5M132.2 709.5M133.1 709.5M134.0 709.5M134.6 709.5M135.3 709.5M135.5 709.5M136.6 709.5M136.8 709.5M137.3 709.5M138.3 709.5M139.2 709.5M139.9 709.5M140.4 709.5M140.9 709.5M141.9 709.5M142.0 709.5M143.1 709.5M143.8 709.5M144.4 709.5M145.0 709.5M145.8 709.5M146.1 709.5M146.6 709.5M147.7 709.5M147.9 709.5M148.6 709.5M149.3 709.5M150.0 709.5M136.9 723.0M137.4 723.0M137.9 723.0M138.5 723.0M139.1 723.0M140.0 723.0M136.5 724.5M137.1 724.5M137.9 724.5M138.9 724.5M139.2 724.5M140.1 724.5M137.1 726.0M137.8 726.0M138.3 726.0M139.2 726.0M139.5 726.0M138.0 730.5M138.4 730.5M137.9 685.5M138.5 685.5M137.8 688.5M138.3 688.5M139.1 688.5M138.6 687.0M138.1 660.0M138.6 664.5M138.3 670.5M138.0 675.0M138.5 679.5M138.5 736.5M138.2 744.0" fill="none" stroke="none" marker-start="url(#m9)" marker-mid="url(#m9)" marker-end="url(#m9)"/><defs><marker id="m10" markerUnits="userSpaceOnUse" markerWidth="1" markerHeight="1" refX="0" refY="0" overflow="visible"><path d="M0 -2.15L2.15 0L0 2.15L-2.15 0z" fill="none" stroke="#f3953a" stroke-width="0.85"/></marker></defs><path d="M164.1 700.8M170.6 700.8M176.4 700.8M183.0 700.8M189.2 700.8M167.4 697.6M172.9 697.6M178.9 697.6M185.8 697.6M167.0 710.4M173.6 710.4M180.1 710.4M185.6 710.4M170.5 691.2M176.3 691.2M182.1 691.2M170.7 704.0M175.8 704.0M183.1 704.0M177.0 688.0M163.9 694.4M170.2 694.4M175.8 694.4M183.2 694.4M189.1 694.4M164.5 707.2M169.5 707.2M176.4 707.2M182.9 707.2M189.3 707.2M175.8 684.8M176.7 662.4M176.5 678.4M175.7 713.6M175.9 720.0" fill="none" stroke="none" marker-start="url(#m10)" marker-mid="url(#m10)" marker-end="url(#m10)"/><defs><marker id="m11" markerUnits="userSpaceOnUse" markerWidth="1" markerHeight="1" refX="0" refY="0" overflow="visible"><circle r="1.85" fill="none" stroke="#e8202a" stroke-width="0.8"/></marker></defs><path d="M213.3 674.0M216.2 674.0M206.5 694.0M209.7 694.0M212.7 694.0M216.7 694.0M219.0 694.0M222.4 694.0M205.0 684.0M208.5 684.0M211.1 684.0M214.1 684.0M217.2 684.0M221.0 684.0M224.2 684.0M215.2 718.0M202.2 692.0M204.7 692.0M207.6 692.0M210.7 692.0M215.2 692.0M218.2 692.0M220.8 692.0M223.5 692.0M227.4 692.0M202.9 700.0M206.2 700.0M209.6 700.0M212.3 700.0M216.0 700.0M218.7 700.0M221.7 700.0M225.6 700.0M204.7 696.0M208.7 696.0M212.0 696.0M214.0 696.0M217.1 696.0M220.6 696.0M224.2 696.0M210.1 706.0M213.0 706.0M215.4 706.0M219.2 706.0M201.6 690.0M204.7 690.0M207.8 690.0M211.9 690.0M214.3 690.0M217.3 690.0M221.1 690.0M223.7 690.0M227.1 690.0M206.1 702.0M209.8 702.0M212.6 702.0M216.6 702.0M218.8 702.0M222.3 702.0M208.3 710.0M211.7 710.0M214.1 710.0M217.3 710.0M220.1 710.0M207.2 686.0M209.8 686.0M213.6 686.0M216.0 686.0M219.3 686.0M222.9 686.0M201.4 698.0M205.4 698.0M208.6 698.0M211.5 698.0M214.5 698.0M217.3 698.0M220.7 698.0M224.3 698.0M226.5 698.0M207.1 688.0M210.5 688.0M213.2 688.0M215.8 688.0M219.8 688.0M222.1 688.0M202.1 682.0M204.8 682.0M207.7 682.0M211.7 682.0M215.0 682.0M218.0 682.0M221.4 682.0M223.7 682.0M226.3 682.0M206.9 704.0M210.0 704.0M212.7 704.0M216.3 704.0M219.8 704.0M221.8 704.0M210.0 676.0M213.2 676.0M215.7 676.0M219.1 676.0M212.5 708.0M216.2 708.0M214.7 712.0M212.8 678.0M215.5 678.0M214.7 672.0M215.1 666.0M215.0 724.0" fill="none" stroke="none" marker-start="url(#m11)" marker-mid="url(#m11)" marker-end="url(#m11)"/><line x1="74.4" y1="629.6" x2="74.4" y2="759.2" stroke="#000" stroke-width="1.3"/><line x1="69.2" y1="630.2" x2="74.4" y2="630.2" stroke="#000" stroke-width="1.3"/><text x="66.6" y="634" font-size="10.5" text-anchor="end">16</text><line x1="69.2" y1="655.9" x2="74.4" y2="655.9" stroke="#000" stroke-width="1.3"/><text x="66.6" y="659.6" font-size="10.5" text-anchor="end">14</text><line x1="69.2" y1="681.6" x2="74.4" y2="681.6" stroke="#000" stroke-width="1.3"/><text x="66.6" y="685.3" font-size="10.5" text-anchor="end">12</text><line x1="69.2" y1="707.2" x2="74.4" y2="707.2" stroke="#000" stroke-width="1.3"/><text x="66.6" y="711" font-size="10.5" text-anchor="end">10</text><line x1="69.2" y1="732.9" x2="74.4" y2="732.9" stroke="#000" stroke-width="1.3"/><text x="66.6" y="736.7" font-size="10.5" text-anchor="end">8</text><line x1="69.2" y1="758.6" x2="74.4" y2="758.6" stroke="#000" stroke-width="1.3"/><text x="66.6" y="762.4" font-size="10.5" text-anchor="end">6</text><line x1="73.8" y1="758.6" x2="240.3" y2="758.6" stroke="#000" stroke-width="1.3"/><line x1="100.1" y1="758.6" x2="100.1" y2="763.8" stroke="#000" stroke-width="1.3"/><line x1="137.9" y1="758.6" x2="137.9" y2="763.8" stroke="#000" stroke-width="1.3"/><line x1="176.4" y1="758.6" x2="176.4" y2="763.8" stroke="#000" stroke-width="1.3"/><line x1="214.5" y1="758.6" x2="214.5" y2="763.8" stroke="#000" stroke-width="1.3"/><path d="M99.3 635V632.6H215V635" stroke="#3a3a3a" stroke-width="0.9" fill="none"/><text x="154.3" y="632" font-size="10.5" text-anchor="middle">***</text><path d="M99.3 647.3V644.9H176.6V647.3" stroke="#3a3a3a" stroke-width="0.9" fill="none"/><text x="139.8" y="644.3" font-size="10.5" text-anchor="middle">***</text><path d="M99.3 660.9V658.5H137.9V660.9" stroke="#3a3a3a" stroke-width="0.9" fill="none"/><text x="119.6" y="657.9" font-size="10.5" text-anchor="middle">***</text><text x="32.2" y="695.4" font-size="11" text-anchor="middle" transform="rotate(-90 32.2 695.4)">Relative PPP1R14B levels</text><text x="45.5" y="695.4" font-size="11" text-anchor="middle" transform="rotate(-90 45.5 695.4)">(enrichment level (log<tspan font-size="7.5" dy="2.5">2</tspan><tspan dy="-2.5">))</tspan></text><text x="90" y="776.2" text-anchor="middle">Normal</text><text x="133.8" y="776.2" text-anchor="middle">Luminal</text><text x="177.2" y="776.2" text-anchor="middle">HER2+</text><text x="214.9" y="776.2" text-anchor="middle">TNBC</text><text x="91.5" y="788.7" font-size="10.2" text-anchor="middle">(<tspan font-style="italic">n</tspan> = 114)</text><text x="134" y="788.7" font-size="10.2" text-anchor="middle">(<tspan font-style="italic">n</tspan> = 568)</text><text x="176.4" y="788.7" font-size="10.2" text-anchor="middle">(<tspan font-style="italic">n</tspan> = 37)</text><text x="216.6" y="788.7" font-size="10.2" text-anchor="middle">(<tspan font-style="italic">n</tspan> = 116)</text><text x="276.4" y="618.8" font-size="20" font-weight="bold" fill="#000">K</text><text x="403.4" y="615.5" font-size="11.2" text-anchor="middle">METABRIC dataset</text><path d="M349.1 699.5H361.1M355.1 699.5V723M349.1 723H361.1" stroke="#222" stroke-width="1.2" fill="none"/><path d="M388.2 699H400.2M394.2 699V722M388.2 722H400.2" stroke="#222" stroke-width="1.2" fill="none"/><path d="M427 688H439M433 688V711M427 711H439" stroke="#222" stroke-width="1.2" fill="none"/><path d="M465.3 682H477.3M471.3 682V703M465.3 703H477.3" stroke="#222" stroke-width="1.2" fill="none"/><line x1="342.6" y1="711.6" x2="367.6" y2="711.6" stroke="#111" stroke-width="1.8"/><line x1="381.7" y1="710.5" x2="406.7" y2="710.5" stroke="#111" stroke-width="1.8"/><line x1="420.5" y1="699.2" x2="445.5" y2="699.2" stroke="#111" stroke-width="1.8"/><line x1="458.8" y1="692.3" x2="483.8" y2="692.3" stroke="#111" stroke-width="1.8"/><path d="M346.9 714.0M349.3 714.0M351.0 714.0M353.4 714.0M356.0 714.0M358.7 714.0M360.5 714.0M363.4 714.0M349.5 716.0M352.3 716.0M354.5 716.0M355.8 716.0M358.6 716.0M360.9 716.0M344.2 706.0M346.6 706.0M349.0 706.0M351.7 706.0M354.2 706.0M356.0 706.0M357.9 706.0M360.3 706.0M362.9 706.0M365.8 706.0M342.5 708.0M344.5 708.0M347.1 708.0M348.4 708.0M351.5 708.0M353.6 708.0M355.4 708.0M357.2 708.0M359.4 708.0M361.7 708.0M363.6 708.0M364.9 708.0M368.3 708.0M343.2 710.0M346.2 710.0M347.7 710.0M351.1 710.0M353.1 710.0M355.3 710.0M357.8 710.0M359.7 710.0M361.4 710.0M364.0 710.0M366.4 710.0M350.7 724.0M352.8 724.0M355.7 724.0M357.1 724.0M359.0 724.0M349.8 698.0M351.0 698.0M354.2 698.0M355.6 698.0M358.3 698.0M361.2 698.0M346.4 712.0M349.5 712.0M351.1 712.0M353.6 712.0M356.6 712.0M358.7 712.0M360.5 712.0M363.5 712.0M348.7 720.0M350.8 720.0M352.1 720.0M355.8 720.0M357.4 720.0M360.0 720.0M361.5 720.0M348.8 704.0M352.1 704.0M354.4 704.0M356.7 704.0M358.4 704.0M361.0 704.0M343.6 702.0M345.7 702.0M348.3 702.0M350.4 702.0M352.4 702.0M354.9 702.0M357.6 702.0M360.3 702.0M362.1 702.0M365.0 702.0M366.8 702.0M352.5 728.0M355.2 728.0M357.2 728.0M346.5 700.0M347.6 700.0M349.9 700.0M353.5 700.0M355.6 700.0M357.3 700.0M360.3 700.0M361.5 700.0M363.8 700.0M350.8 694.0M353.4 694.0M355.4 694.0M356.8 694.0M359.9 694.0M351.4 718.0M353.4 718.0M355.6 718.0M358.7 718.0M348.5 722.0M350.8 722.0M352.4 722.0M355.0 722.0M357.4 722.0M360.0 722.0M361.6 722.0M353.2 726.0M355.2 726.0M356.7 726.0M353.1 690.0M354.4 690.0M356.9 690.0M354.5 734.0M351.0 696.0M353.0 696.0M354.9 696.0M357.2 696.0M359.8 696.0M352.4 692.0M355.8 692.0M357.6 692.0M354.0 732.0M355.9 732.0M354.7 684.0M354.5 744.0" fill="none" stroke="none" marker-start="url(#m8)" marker-mid="url(#m8)" marker-end="url(#m8)"/><path d="M390.2 698.0M390.6 698.0M390.9 698.0M391.4 698.0M391.8 698.0M392.1 698.0M392.8 698.0M393.1 698.0M393.2 698.0M393.8 698.0M394.2 698.0M394.5 698.0M394.8 698.0M395.3 698.0M395.7 698.0M396.4 698.0M396.6 698.0M397.0 698.0M397.6 698.0M397.9 698.0M398.3 698.0M389.6 724.0M390.0 724.0M390.8 724.0M390.8 724.0M391.3 724.0M392.1 724.0M392.1 724.0M392.8 724.0M393.3 724.0M393.9 724.0M393.7 724.0M394.2 724.0M395.0 724.0M395.1 724.0M395.7 724.0M396.2 724.0M396.5 724.0M396.8 724.0M397.4 724.0M398.0 724.0M398.0 724.0M398.3 724.0M388.9 703.0M389.1 703.0M389.5 703.0M389.7 703.0M390.6 703.0M391.1 703.0M391.2 703.0M391.7 703.0M391.9 703.0M392.5 703.0M392.7 703.0M393.5 703.0M394.0 703.0M393.9 703.0M394.6 703.0M395.2 703.0M395.5 703.0M395.7 703.0M396.6 703.0M396.9 703.0M397.1 703.0M397.9 703.0M398.1 703.0M398.4 703.0M399.1 703.0M399.0 703.0M399.7 703.0M387.3 720.0M387.2 720.0M387.9 720.0M388.0 720.0M388.5 720.0M389.2 720.0M389.3 720.0M390.2 720.0M390.6 720.0M390.9 720.0M391.3 720.0M391.8 720.0M391.8 720.0M392.4 720.0M393.0 720.0M393.6 720.0M394.0 720.0M394.1 720.0M394.9 720.0M395.1 720.0M395.7 720.0M396.0 720.0M396.4 720.0M397.0 720.0M396.9 720.0M397.8 720.0M397.7 720.0M398.1 720.0M399.1 720.0M399.2 720.0M399.9 720.0M399.9 720.0M400.7 720.0M400.9 720.0M401.3 720.0M386.3 705.0M386.8 705.0M387.0 705.0M387.5 705.0M388.3 705.0M388.4 705.0M388.9 705.0M389.5 705.0M389.5 705.0M390.0 705.0M390.9 705.0M391.0 705.0M391.4 705.0M391.8 705.0M392.6 705.0M392.9 705.0M393.1 705.0M393.3 705.0M394.0 705.0M394.2 705.0M394.7 705.0M395.1 705.0M395.5 705.0M396.0 705.0M396.5 705.0M397.0 705.0M397.5 705.0M398.0 705.0M398.3 705.0M398.6 705.0M399.3 705.0M399.4 705.0M399.8 705.0M400.5 705.0M401.0 705.0M400.9 705.0M401.6 705.0M402.3 705.0M386.1 704.0M386.5 704.0M386.7 704.0M387.2 704.0M387.9 704.0M388.3 704.0M388.7 704.0M388.8 704.0M389.5 704.0M389.5 704.0M390.0 704.0M390.5 704.0M391.0 704.0M391.4 704.0M391.7 704.0M392.2 704.0M392.5 704.0M393.2 704.0M393.3 704.0M394.2 704.0M394.2 704.0M395.1 704.0M395.3 704.0M395.8 704.0M396.1 704.0M396.5 704.0M397.2 704.0M397.6 704.0M398.0 704.0M398.2 704.0M398.5 704.0M399.0 704.0M399.5 704.0M399.8 704.0M400.6 704.0M400.7 704.0M401.3 704.0M401.7 704.0M402.3 704.0M402.4 704.0M388.9 700.0M389.7 700.0M389.8 700.0M390.1 700.0M390.9 700.0M391.5 700.0M391.4 700.0M392.4 700.0M392.3 700.0M393.2 700.0M393.5 700.0M393.8 700.0M394.3 700.0M394.7 700.0M394.8 700.0M395.2 700.0M396.1 700.0M396.1 700.0M396.5 700.0M397.2 700.0M397.5 700.0M397.9 700.0M398.5 700.0M399.0 700.0M399.1 700.0M385.8 717.0M385.9 717.0M386.7 717.0M387.1 717.0M387.3 717.0M387.6 717.0M388.0 717.0M388.5 717.0M389.0 717.0M389.6 717.0M389.9 717.0M390.5 717.0M390.9 717.0M391.3 717.0M391.4 717.0M391.9 717.0M392.7 717.0M392.9 717.0M393.2 717.0M393.8 717.0M393.9 717.0M394.6 717.0M395.2 717.0M395.5 717.0M395.7 717.0M396.3 717.0M396.7 717.0M397.2 717.0M397.7 717.0M398.2 717.0M398.5 717.0M398.8 717.0M399.4 717.0M399.9 717.0M400.0 717.0M400.2 717.0M401.0 717.0M401.1 717.0M401.8 717.0M402.0 717.0M402.6 717.0M391.3 722.0M392.0 722.0M392.1 722.0M392.7 722.0M393.3 722.0M393.6 722.0M393.9 722.0M394.5 722.0M394.8 722.0M395.0 722.0M395.8 722.0M396.2 722.0M396.3 722.0M396.7 722.0M388.5 701.0M389.3 701.0M389.7 701.0M389.9 701.0M390.4 701.0M390.9 701.0M391.5 701.0M391.7 701.0M392.4 701.0M392.3 701.0M392.7 701.0M393.4 701.0M393.8 701.0M394.4 701.0M394.4 701.0M395.0 701.0M395.7 701.0M395.6 701.0M396.0 701.0M396.5 701.0M396.9 701.0M397.5 701.0M398.0 701.0M398.6 701.0M399.1 701.0M399.4 701.0M399.7 701.0M380.9 714.0M380.9 714.0M381.7 714.0M381.8 714.0M382.6 714.0M383.1 714.0M383.1 714.0M383.8 714.0M384.2 714.0M384.8 714.0M385.2 714.0M385.4 714.0M385.9 714.0M386.1 714.0M386.7 714.0M386.8 714.0M387.5 714.0M387.9 714.0M388.5 714.0M388.8 714.0M388.9 714.0M389.5 714.0M390.2 714.0M390.3 714.0M390.8 714.0M391.4 714.0M391.6 714.0M392.3 714.0M392.6 714.0M393.0 714.0M393.4 714.0M394.0 714.0M394.2 714.0M394.4 714.0M395.2 714.0M395.2 714.0M395.8 714.0M396.2 714.0M396.9 714.0M397.3 714.0M397.3 714.0M398.2 714.0M398.5 714.0M398.7 714.0M399.0 714.0M399.7 714.0M400.1 714.0M400.2 714.0M400.9 714.0M401.3 714.0M402.1 714.0M402.4 714.0M402.5 714.0M403.2 714.0M403.7 714.0M403.7 714.0M404.0 714.0M404.7 714.0M405.2 714.0M405.5 714.0M405.9 714.0M406.5 714.0M406.8 714.0M407.1 714.0M407.5 714.0M389.0 702.0M389.8 702.0M390.1 702.0M390.6 702.0M391.0 702.0M391.2 702.0M391.5 702.0M391.8 702.0M392.2 702.0M392.9 702.0M393.2 702.0M393.6 702.0M394.3 702.0M394.6 702.0M395.3 702.0M395.3 702.0M395.7 702.0M396.5 702.0M396.8 702.0M397.3 702.0M397.8 702.0M397.8 702.0M398.4 702.0M398.8 702.0M399.1 702.0M387.5 716.0M387.9 716.0M388.3 716.0M389.0 716.0M388.9 716.0M389.4 716.0M389.7 716.0M390.3 716.0M390.6 716.0M391.3 716.0M391.5 716.0M391.8 716.0M392.7 716.0M393.1 716.0M393.3 716.0M394.0 716.0M394.4 716.0M394.7 716.0M395.2 716.0M395.6 716.0M395.7 716.0M396.3 716.0M396.5 716.0M396.9 716.0M397.4 716.0M397.9 716.0M398.3 716.0M398.7 716.0M399.1 716.0M399.4 716.0M399.9 716.0M400.4 716.0M400.7 716.0M385.8 710.0M386.5 710.0M386.6 710.0M387.3 710.0M387.5 710.0M388.1 710.0M388.3 710.0M388.7 710.0M389.4 710.0M389.5 710.0M390.0 710.0M390.5 710.0M391.0 710.0M391.3 710.0M391.9 710.0M392.0 710.0M392.8 710.0M393.3 710.0M393.7 710.0M394.1 710.0M394.2 710.0M395.0 710.0M395.5 710.0M395.6 710.0M396.2 710.0M396.7 710.0M396.9 710.0M397.4 710.0M397.7 710.0M398.4 710.0M398.4 710.0M399.1 710.0M399.3 710.0M399.9 710.0M400.5 710.0M400.7 710.0M401.1 710.0M401.5 710.0M402.3 710.0M402.4 710.0M388.6 723.0M389.0 723.0M389.6 723.0M389.9 723.0M390.3 723.0M390.8 723.0M391.2 723.0M391.6 723.0M392.3 723.0M392.7 723.0M392.8 723.0M393.1 723.0M394.0 723.0M394.1 723.0M394.9 723.0M395.2 723.0M395.7 723.0M396.0 723.0M396.5 723.0M396.9 723.0M397.3 723.0M397.6 723.0M398.2 723.0M398.4 723.0M399.0 723.0M399.1 723.0M399.9 723.0M383.8 711.0M384.1 711.0M384.8 711.0M385.4 711.0M385.4 711.0M385.9 711.0M386.3 711.0M386.5 711.0M387.2 711.0M387.8 711.0M388.3 711.0M388.2 711.0M388.7 711.0M389.5 711.0M389.7 711.0M390.4 711.0M390.3 711.0M391.2 711.0M391.4 711.0M392.0 711.0M392.2 711.0M392.9 711.0M393.3 711.0M393.7 711.0M394.2 711.0M394.5 711.0M394.5 711.0M395.4 711.0M395.7 711.0M396.4 711.0M396.7 711.0M396.7 711.0M397.4 711.0M397.6 711.0M398.1 711.0M398.4 711.0M399.0 711.0M399.7 711.0M400.2 711.0M400.5 711.0M400.8 711.0M401.4 711.0M401.8 711.0M402.1 711.0M402.5 711.0M402.8 711.0M403.1 711.0M403.6 711.0M404.4 711.0M404.8 711.0M392.8 730.0M393.1 730.0M393.5 730.0M394.3 730.0M394.2 730.0M395.0 730.0M395.1 730.0M395.6 730.0M386.8 707.0M387.4 707.0M387.8 707.0M388.1 707.0M388.6 707.0M389.4 707.0M389.8 707.0M389.9 707.0M390.7 707.0M390.7 707.0M391.5 707.0M391.8 707.0M392.1 707.0M392.5 707.0M392.7 707.0M393.5 707.0M394.0 707.0M394.5 707.0M394.8 707.0M394.8 707.0M395.5 707.0M396.1 707.0M396.5 707.0M396.8 707.0M397.2 707.0M397.8 707.0M398.0 707.0M398.5 707.0M399.0 707.0M399.1 707.0M399.7 707.0M400.1 707.0M400.7 707.0M400.7 707.0M401.1 707.0M386.4 712.0M387.2 712.0M387.2 712.0M388.2 712.0M388.4 712.0M388.5 712.0M389.2 712.0M389.4 712.0M390.3 712.0M390.3 712.0M390.7 712.0M391.3 712.0M391.4 712.0M392.1 712.0M392.3 712.0M393.0 712.0M393.1 712.0M394.0 712.0M394.2 712.0M394.3 712.0M395.3 712.0M395.7 712.0M395.7 712.0M396.5 712.0M396.9 712.0M397.1 712.0M397.5 712.0M398.0 712.0M398.5 712.0M398.8 712.0M399.0 712.0M399.7 712.0M400.2 712.0M400.5 712.0M400.7 712.0M401.1 712.0M402.1 712.0M393.5 688.0M393.6 688.0M394.2 688.0M394.4 688.0M395.2 688.0M385.1 713.0M385.5 713.0M386.0 713.0M386.5 713.0M387.3 713.0M387.5 713.0M387.9 713.0M388.3 713.0M388.5 713.0M389.3 713.0M389.8 713.0M390.1 713.0M390.4 713.0M390.6 713.0M391.4 713.0M391.9 713.0M392.3 713.0M392.3 713.0M392.7 713.0M393.5 713.0M393.8 713.0M394.4 713.0M394.8 713.0M395.0 713.0M395.5 713.0M396.1 713.0M396.4 713.0M397.0 713.0M397.2 713.0M397.8 713.0M398.0 713.0M398.2 713.0M398.7 713.0M399.0 713.0M400.0 713.0M400.2 713.0M400.5 713.0M400.7 713.0M401.6 713.0M401.8 713.0M401.9 713.0M402.5 713.0M402.9 713.0M391.2 694.0M391.6 694.0M392.1 694.0M392.5 694.0M393.1 694.0M393.7 694.0M394.2 694.0M394.4 694.0M395.0 694.0M395.3 694.0M395.6 694.0M396.1 694.0M396.8 694.0M396.7 694.0M383.8 706.0M384.3 706.0M384.5 706.0M385.2 706.0M385.4 706.0M386.1 706.0M386.1 706.0M387.0 706.0M387.4 706.0M387.9 706.0M388.0 706.0M388.6 706.0M388.8 706.0M389.5 706.0M390.0 706.0M390.1 706.0M390.9 706.0M390.9 706.0M391.6 706.0M391.9 706.0M392.3 706.0M392.5 706.0M393.4 706.0M393.6 706.0M393.9 706.0M394.5 706.0M395.1 706.0M395.3 706.0M395.8 706.0M396.2 706.0M396.7 706.0M397.0 706.0M397.2 706.0M397.6 706.0M398.4 706.0M398.9 706.0M398.8 706.0M399.3 706.0M399.8 706.0M400.1 706.0M400.8 706.0M401.4 706.0M401.6 706.0M401.8 706.0M402.6 706.0M402.9 706.0M403.4 706.0M403.5 706.0M404.1 706.0M404.8 706.0M387.5 715.0M387.8 715.0M388.6 715.0M388.7 715.0M389.5 715.0M389.6 715.0M390.4 715.0M390.5 715.0M391.0 715.0M391.2 715.0M392.0 715.0M392.4 715.0M392.7 715.0M393.4 715.0M393.8 715.0M393.9 715.0M394.6 715.0M394.7 715.0M395.3 715.0M395.4 715.0M396.2 715.0M396.5 715.0M397.2 715.0M397.4 715.0M397.7 715.0M398.2 715.0M398.8 715.0M399.2 715.0M399.6 715.0M400.0 715.0M400.2 715.0M400.7 715.0M386.2 709.0M386.7 709.0M386.6 709.0M387.3 709.0M387.7 709.0M388.0 709.0M388.3 709.0M388.7 709.0M389.6 709.0M390.0 709.0M390.4 709.0M390.6 709.0M391.3 709.0M391.7 709.0M391.9 709.0M392.4 709.0M392.6 709.0M392.9 709.0M393.6 709.0M394.0 709.0M394.4 709.0M394.8 709.0M395.0 709.0M395.8 709.0M396.1 709.0M396.6 709.0M397.2 709.0M397.2 709.0M397.9 709.0M398.2 709.0M398.4 709.0M399.1 709.0M399.6 709.0M399.9 709.0M400.1 709.0M400.4 709.0M401.4 709.0M401.9 709.0M402.3 709.0M402.5 709.0M390.7 696.0M390.6 696.0M391.2 696.0M391.8 696.0M391.9 696.0M392.7 696.0M392.9 696.0M393.6 696.0M393.6 696.0M394.3 696.0M394.7 696.0M395.1 696.0M395.3 696.0M395.7 696.0M396.6 696.0M396.4 696.0M397.4 696.0M397.5 696.0M398.0 696.0M390.2 725.0M390.4 725.0M391.0 725.0M391.5 725.0M391.6 725.0M392.3 725.0M392.5 725.0M392.9 725.0M393.5 725.0M393.7 725.0M394.4 725.0M394.9 725.0M395.1 725.0M395.5 725.0M396.1 725.0M396.8 725.0M397.1 725.0M397.4 725.0M397.7 725.0M398.4 725.0M389.7 697.0M390.1 697.0M390.9 697.0M391.1 697.0M391.5 697.0M392.0 697.0M392.0 697.0M392.7 697.0M393.4 697.0M393.8 697.0M393.8 697.0M394.4 697.0M394.7 697.0M395.2 697.0M395.4 697.0M396.0 697.0M396.7 697.0M396.9 697.0M397.5 697.0M397.9 697.0M398.3 697.0M398.5 697.0M386.3 708.0M386.5 708.0M387.1 708.0M387.7 708.0M387.9 708.0M388.5 708.0M388.6 708.0M388.9 708.0M389.5 708.0M389.8 708.0M390.5 708.0M390.6 708.0M391.4 708.0M391.7 708.0M392.1 708.0M392.5 708.0M393.0 708.0M393.5 708.0M393.7 708.0M394.2 708.0M394.9 708.0M394.8 708.0M395.7 708.0M396.1 708.0M396.2 708.0M396.8 708.0M397.0 708.0M397.7 708.0M397.9 708.0M398.3 708.0M399.0 708.0M399.5 708.0M399.5 708.0M399.9 708.0M400.6 708.0M400.8 708.0M401.5 708.0M401.5 708.0M402.0 708.0M392.2 726.0M392.8 726.0M393.2 726.0M393.4 726.0M394.1 726.0M394.3 726.0M394.7 726.0M395.6 726.0M395.9 726.0M396.3 726.0M393.6 734.0M394.0 734.0M394.2 734.0M394.9 734.0M395.2 734.0M388.2 719.0M388.9 719.0M389.0 719.0M389.4 719.0M389.7 719.0M390.6 719.0M390.6 719.0M391.1 719.0M391.5 719.0M392.0 719.0M392.5 719.0M392.9 719.0M393.1 719.0M393.9 719.0M394.4 719.0M394.5 719.0M394.9 719.0M395.7 719.0M395.9 719.0M396.4 719.0M396.7 719.0M397.3 719.0M397.5 719.0M398.1 719.0M398.4 719.0M398.8 719.0M399.5 719.0M399.5 719.0M400.1 719.0M392.8 693.0M392.9 693.0M393.5 693.0M393.9 693.0M393.9 693.0M394.8 693.0M394.9 693.0M395.3 693.0M395.8 693.0M393.6 689.0M394.4 689.0M394.4 689.0M392.7 729.0M393.0 729.0M393.6 729.0M393.9 729.0M394.7 729.0M394.7 729.0M395.2 729.0M395.9 729.0M393.0 686.0M393.2 686.0M393.7 686.0M394.2 686.0M394.6 686.0M395.0 686.0M395.7 686.0M393.1 690.0M393.5 690.0M394.1 690.0M393.9 690.0M394.6 690.0M394.9 690.0M395.7 690.0M388.3 718.0M388.4 718.0M388.7 718.0M389.4 718.0M389.9 718.0M389.9 718.0M390.9 718.0M391.2 718.0M391.5 718.0M391.7 718.0M392.0 718.0M392.5 718.0M392.9 718.0M393.4 718.0M394.1 718.0M394.3 718.0M394.7 718.0M395.2 718.0M395.6 718.0M396.2 718.0M396.8 718.0M397.2 718.0M397.1 718.0M397.8 718.0M398.2 718.0M398.9 718.0M398.8 718.0M399.7 718.0M399.7 718.0M400.0 718.0M393.6 731.0M393.8 731.0M394.6 731.0M395.1 731.0M389.2 721.0M389.9 721.0M390.3 721.0M390.3 721.0M391.2 721.0M391.6 721.0M392.2 721.0M392.2 721.0M392.7 721.0M393.3 721.0M393.3 721.0M394.1 721.0M394.1 721.0M394.8 721.0M395.3 721.0M395.5 721.0M395.9 721.0M396.8 721.0M397.1 721.0M397.5 721.0M397.5 721.0M398.3 721.0M398.6 721.0M398.8 721.0M389.5 699.0M389.6 699.0M390.2 699.0M390.4 699.0M390.9 699.0M391.7 699.0M391.7 699.0M392.4 699.0M392.7 699.0M392.9 699.0M393.7 699.0M394.0 699.0M394.5 699.0M395.1 699.0M395.0 699.0M395.8 699.0M395.8 699.0M396.4 699.0M396.8 699.0M397.4 699.0M398.0 699.0M398.1 699.0M398.4 699.0M399.0 699.0M393.2 732.0M393.4 732.0M394.1 732.0M394.4 732.0M394.8 732.0M395.4 732.0M391.7 727.0M392.4 727.0M392.5 727.0M393.4 727.0M393.7 727.0M394.1 727.0M394.2 727.0M394.9 727.0M395.3 727.0M395.8 727.0M396.2 727.0M396.2 727.0M392.9 691.0M393.5 691.0M393.9 691.0M394.3 691.0M394.7 691.0M395.5 691.0M392.4 728.0M392.8 728.0M393.0 728.0M393.6 728.0M393.9 728.0M394.3 728.0M394.9 728.0M395.3 728.0M395.7 728.0M396.4 728.0M393.9 733.0M394.2 733.0M392.1 695.0M392.3 695.0M393.1 695.0M393.3 695.0M393.8 695.0M394.1 695.0M394.4 695.0M395.2 695.0M395.4 695.0M395.7 695.0M396.5 695.0M393.5 687.0M394.0 687.0M394.1 687.0M394.8 687.0M395.2 687.0M393.9 738.0M394.4 738.0M393.8 736.0M394.5 736.0M394.6 736.0M393.6 739.0M393.9 739.0M394.8 739.0M394.1 692.0M394.4 692.0M394.4 692.0M394.1 685.0M394.2 681.0M394.3 737.0M394.4 661.0M394.0 670.0M394.4 674.0M394.0 678.0M394.4 744.0M394.4 750.0M394.4 755.0" fill="none" stroke="none" marker-start="url(#m9)" marker-mid="url(#m9)" marker-end="url(#m9)"/><path d="M423.0 704.0M423.3 704.0M424.3 704.0M425.3 704.0M426.4 704.0M427.9 704.0M429.8 704.0M430.5 704.0M431.5 704.0M431.9 704.0M433.8 704.0M434.3 704.0M435.7 704.0M437.5 704.0M437.7 704.0M439.1 704.0M440.0 704.0M441.5 704.0M442.4 704.0M442.8 704.0M425.9 700.0M426.6 700.0M427.9 700.0M428.8 700.0M430.8 700.0M430.7 700.0M431.9 700.0M433.5 700.0M434.8 700.0M435.6 700.0M437.3 700.0M437.7 700.0M439.1 700.0M440.1 700.0M425.0 688.0M425.8 688.0M427.3 688.0M429.3 688.0M429.2 688.0M430.2 688.0M432.5 688.0M432.8 688.0M433.5 688.0M435.4 688.0M436.1 688.0M437.8 688.0M438.9 688.0M438.9 688.0M440.1 688.0M423.3 702.0M424.9 702.0M425.5 702.0M427.1 702.0M428.3 702.0M429.2 702.0M430.3 702.0M431.6 702.0M432.8 702.0M433.0 702.0M435.0 702.0M435.0 702.0M436.5 702.0M437.8 702.0M439.3 702.0M440.4 702.0M441.8 702.0M442.2 702.0M430.2 686.0M430.7 686.0M432.1 686.0M433.2 686.0M434.3 686.0M436.2 686.0M427.6 716.0M428.2 716.0M429.4 716.0M430.8 716.0M431.6 716.0M433.3 716.0M434.4 716.0M435.5 716.0M436.0 716.0M436.7 716.0M437.9 716.0M430.2 690.0M431.9 690.0M432.2 690.0M433.6 690.0M434.3 690.0M436.4 690.0M429.6 710.0M430.1 710.0M432.0 710.0M432.1 710.0M433.2 710.0M434.3 710.0M435.3 710.0M436.6 710.0M428.0 714.0M429.5 714.0M430.3 714.0M431.6 714.0M433.5 714.0M434.4 714.0M435.3 714.0M435.7 714.0M437.8 714.0M420.5 706.0M421.3 706.0M422.1 706.0M423.6 706.0M424.9 706.0M425.7 706.0M427.2 706.0M428.2 706.0M428.7 706.0M429.9 706.0M430.7 706.0M432.1 706.0M433.4 706.0M435.0 706.0M436.2 706.0M437.1 706.0M438.5 706.0M439.1 706.0M439.5 706.0M440.5 706.0M442.5 706.0M442.7 706.0M444.2 706.0M445.2 706.0M425.4 698.0M426.6 698.0M427.6 698.0M428.9 698.0M430.4 698.0M431.3 698.0M432.1 698.0M433.9 698.0M434.4 698.0M436.1 698.0M437.4 698.0M438.2 698.0M438.4 698.0M440.1 698.0M426.9 712.0M428.4 712.0M429.5 712.0M430.0 712.0M431.7 712.0M432.4 712.0M433.4 712.0M434.3 712.0M436.3 712.0M436.5 712.0M437.9 712.0M439.5 712.0M432.4 682.0M434.2 682.0M429.0 692.0M430.8 692.0M431.3 692.0M432.4 692.0M433.5 692.0M434.8 692.0M435.3 692.0M436.9 692.0M430.9 720.0M431.9 720.0M432.4 720.0M433.5 720.0M434.7 720.0M432.0 726.0M433.9 726.0M428.9 694.0M429.8 694.0M430.4 694.0M431.3 694.0M432.8 694.0M433.5 694.0M435.9 694.0M436.2 694.0M438.0 694.0M427.5 696.0M429.0 696.0M430.9 696.0M431.9 696.0M432.4 696.0M433.0 696.0M434.7 696.0M435.1 696.0M436.7 696.0M438.2 696.0M428.5 708.0M430.3 708.0M431.1 708.0M433.0 708.0M433.0 708.0M434.5 708.0M436.2 708.0M436.6 708.0M431.5 684.0M432.6 684.0M432.9 684.0M433.4 684.0M435.4 684.0M433.4 724.0M431.7 718.0M432.6 718.0M434.5 718.0M432.1 722.0M432.9 722.0M433.3 650.0M433.4 658.0M432.8 668.0M433.6 670.0" fill="none" stroke="none" marker-start="url(#m10)" marker-mid="url(#m10)" marker-end="url(#m10)"/><path d="M465.2 691.5M467.3 691.5M468.1 691.5M470.5 691.5M470.6 691.5M473.2 691.5M473.5 691.5M476.1 691.5M477.6 691.5M471.1 709.5M472.0 709.5M462.9 687.0M464.4 687.0M465.9 687.0M467.6 687.0M469.6 687.0M470.0 687.0M472.1 687.0M473.2 687.0M474.7 687.0M476.8 687.0M477.4 687.0M479.8 687.0M465.5 702.0M466.5 702.0M467.8 702.0M469.6 702.0M470.9 702.0M472.6 702.0M474.8 702.0M475.6 702.0M476.6 702.0M469.9 706.5M471.3 706.5M472.8 706.5M464.8 688.5M466.6 688.5M467.1 688.5M469.5 688.5M470.2 688.5M472.7 688.5M473.7 688.5M474.6 688.5M476.8 688.5M477.9 688.5M464.2 693.0M465.3 693.0M466.7 693.0M468.2 693.0M469.8 693.0M471.7 693.0M472.3 693.0M474.5 693.0M475.4 693.0M476.8 693.0M478.2 693.0M465.8 682.5M467.8 682.5M469.5 682.5M470.1 682.5M471.8 682.5M474.0 682.5M475.2 682.5M475.8 682.5M462.7 696.0M465.3 696.0M465.9 696.0M468.1 696.0M469.1 696.0M471.2 696.0M471.9 696.0M474.0 696.0M474.6 696.0M477.0 696.0M478.2 696.0M479.8 696.0M467.7 676.5M469.1 676.5M471.1 676.5M472.6 676.5M473.8 676.5M475.6 676.5M467.7 685.5M468.8 685.5M470.1 685.5M471.5 685.5M473.4 685.5M475.5 685.5M466.1 697.5M467.3 697.5M468.3 697.5M470.5 697.5M472.0 697.5M472.6 697.5M474.0 697.5M476.1 697.5M477.8 697.5M469.6 684.0M471.0 684.0M472.6 684.0M474.0 684.0M458.4 694.5M459.2 694.5M460.6 694.5M463.0 694.5M463.5 694.5M465.8 694.5M466.8 694.5M467.8 694.5M469.7 694.5M472.0 694.5M472.5 694.5M474.9 694.5M476.2 694.5M477.7 694.5M479.0 694.5M480.0 694.5M481.5 694.5M482.3 694.5M484.6 694.5M465.2 690.0M466.6 690.0M467.9 690.0M470.3 690.0M470.9 690.0M472.6 690.0M474.0 690.0M475.1 690.0M477.2 690.0M467.3 711.0M468.0 711.0M469.8 711.0M472.0 711.0M472.6 711.0M474.1 711.0M475.6 711.0M464.3 681.0M465.4 681.0M467.4 681.0M469.1 681.0M469.2 681.0M471.3 681.0M472.8 681.0M474.1 681.0M476.2 681.0M477.2 681.0M478.7 681.0M471.5 673.5M462.4 699.0M463.7 699.0M465.7 699.0M467.1 699.0M467.8 699.0M470.1 699.0M470.8 699.0M472.7 699.0M474.2 699.0M476.0 699.0M476.8 699.0M478.3 699.0M480.2 699.0M467.8 708.0M469.2 708.0M470.8 708.0M472.5 708.0M473.8 708.0M475.5 708.0M467.0 700.5M468.4 700.5M470.0 700.5M471.9 700.5M472.2 700.5M473.9 700.5M474.9 700.5M469.6 678.0M471.9 678.0M472.7 678.0M467.4 703.5M468.4 703.5M469.2 703.5M471.8 703.5M472.2 703.5M474.6 703.5M475.8 703.5M469.9 679.5M472.0 679.5M472.2 679.5M469.8 675.0M471.2 675.0M472.1 675.0M470.1 712.5M472.6 712.5M469.8 705.0M471.2 705.0M472.6 705.0M474.0 705.0M471.7 666.0" fill="none" stroke="none" marker-start="url(#m11)" marker-mid="url(#m11)" marker-end="url(#m11)"/><line x1="329.5" y1="629.6" x2="329.5" y2="759.2" stroke="#000" stroke-width="1.3"/><line x1="324.3" y1="630.2" x2="329.5" y2="630.2" stroke="#000" stroke-width="1.3"/><text x="321.7" y="634" font-size="10.5" text-anchor="end">6</text><line x1="324.3" y1="655.9" x2="329.5" y2="655.9" stroke="#000" stroke-width="1.3"/><text x="321.7" y="659.6" font-size="10.5" text-anchor="end">4</text><line x1="324.3" y1="681.6" x2="329.5" y2="681.6" stroke="#000" stroke-width="1.3"/><text x="321.7" y="685.3" font-size="10.5" text-anchor="end">2</text><line x1="324.3" y1="707.2" x2="329.5" y2="707.2" stroke="#000" stroke-width="1.3"/><text x="321.7" y="711" font-size="10.5" text-anchor="end">0</text><line x1="324.3" y1="732.9" x2="329.5" y2="732.9" stroke="#000" stroke-width="1.3"/><text x="321.7" y="736.7" font-size="10.5" text-anchor="end">−2</text><line x1="324.3" y1="758.6" x2="329.5" y2="758.6" stroke="#000" stroke-width="1.3"/><text x="321.7" y="762.4" font-size="10.5" text-anchor="end">−4</text><line x1="328.9" y1="758.6" x2="498.2" y2="758.6" stroke="#000" stroke-width="1.3"/><line x1="355.6" y1="758.6" x2="355.6" y2="763.8" stroke="#000" stroke-width="1.3"/><line x1="394.1" y1="758.6" x2="394.1" y2="763.8" stroke="#000" stroke-width="1.3"/><line x1="432.5" y1="758.6" x2="432.5" y2="763.8" stroke="#000" stroke-width="1.3"/><line x1="471" y1="758.6" x2="471" y2="763.8" stroke="#000" stroke-width="1.3"/><path d="M354.4 635V632.6H471.7V635" stroke="#3a3a3a" stroke-width="0.9" fill="none"/><text x="409" y="632" font-size="10.5" text-anchor="middle">***</text><path d="M354.4 647.3V644.9H433V647.3" stroke="#3a3a3a" stroke-width="0.9" fill="none"/><text x="394.6" y="644.3" font-size="10.5" text-anchor="middle">***</text><path d="M354.4 661.4V659H393.7V661.4" stroke="#3a3a3a" stroke-width="0.9" fill="none"/><text x="373.2" y="654.6" font-size="11" text-anchor="middle">ns</text><text x="283" y="695.4" font-size="11" text-anchor="middle" transform="rotate(-90 283 695.4)">Relative PPP1R14B levels</text><text x="295.8" y="695.4" font-size="11" text-anchor="middle" transform="rotate(-90 295.8 695.4)">(enrichment level (log<tspan font-size="7.5" dy="2.5">2</tspan><tspan dy="-2.5">))</tspan></text><text x="345.7" y="776.2" text-anchor="middle">Normal</text><text x="390" y="776.2" text-anchor="middle">Luminal</text><text x="435.3" y="776.2" text-anchor="middle">HER2+</text><text x="474.5" y="776.2" text-anchor="middle">TNBC</text><text x="345.7" y="788.7" font-size="10.2" text-anchor="middle">(<tspan font-style="italic">n</tspan> = 140)</text><text x="391" y="788.7" font-size="10.2" text-anchor="middle">(<tspan font-style="italic">n</tspan> = 1,140)</text><text x="436.3" y="788.7" font-size="10.2" text-anchor="middle">(<tspan font-style="italic">n</tspan> = 220)</text><text x="476.8" y="788.7" font-size="10.2" text-anchor="middle">(<tspan font-style="italic">n</tspan> = 199)</text><text x="529.8" y="619" font-size="20" font-weight="bold" fill="#000">L</text><line x1="592.7" y1="639.6" x2="592.7" y2="771.5" stroke="#000" stroke-width="1.3"/><line x1="587.6" y1="640.3" x2="592.7" y2="640.3" stroke="#000" stroke-width="1.3"/><text x="585.1" y="644" font-size="10.3" text-anchor="end">100</text><line x1="587.6" y1="662.1" x2="592.7" y2="662.1" stroke="#000" stroke-width="1.3"/><text x="585.1" y="665.8" font-size="10.3" text-anchor="end">95</text><line x1="587.6" y1="683.8" x2="592.7" y2="683.8" stroke="#000" stroke-width="1.3"/><text x="585.1" y="687.6" font-size="10.3" text-anchor="end">90</text><line x1="587.6" y1="705.6" x2="592.7" y2="705.6" stroke="#000" stroke-width="1.3"/><text x="585.1" y="709.3" font-size="10.3" text-anchor="end">85</text><line x1="587.6" y1="727.4" x2="592.7" y2="727.4" stroke="#000" stroke-width="1.3"/><text x="585.1" y="731.1" font-size="10.3" text-anchor="end">80</text><line x1="587.6" y1="749.1" x2="592.7" y2="749.1" stroke="#000" stroke-width="1.3"/><text x="585.1" y="752.9" font-size="10.3" text-anchor="end">75</text><line x1="587.6" y1="770.9" x2="592.7" y2="770.9" stroke="#000" stroke-width="1.3"/><text x="585.1" y="774.6" font-size="10.3" text-anchor="end">70</text><line x1="592.1" y1="770.9" x2="752.8" y2="770.9" stroke="#000" stroke-width="1.3"/><line x1="592.9" y1="770.9" x2="592.9" y2="776.1" stroke="#000" stroke-width="1.3"/><line x1="624.9" y1="770.9" x2="624.9" y2="776.1" stroke="#000" stroke-width="1.3"/><line x1="656.8" y1="770.9" x2="656.8" y2="776.1" stroke="#000" stroke-width="1.3"/><line x1="688.8" y1="770.9" x2="688.8" y2="776.1" stroke="#000" stroke-width="1.3"/><line x1="720.8" y1="770.9" x2="720.8" y2="776.1" stroke="#000" stroke-width="1.3"/><line x1="752.8" y1="770.9" x2="752.8" y2="776.1" stroke="#000" stroke-width="1.3"/><text x="592.9" y="789.5" font-size="10.6" text-anchor="middle">0</text><text x="624.9" y="789.5" font-size="10.6" text-anchor="middle">30</text><text x="656.8" y="789.5" font-size="10.6" text-anchor="middle">60</text><text x="688.8" y="789.5" font-size="10.6" text-anchor="middle">90</text><text x="720.8" y="789.5" font-size="10.6" text-anchor="middle">120</text><text x="752.8" y="789.5" font-size="10.6" text-anchor="middle">150</text><text x="547.5" y="789.4" font-size="10.5">Months</text><text x="544.8" y="703" font-size="11.2" text-anchor="middle" transform="rotate(-90 544.8 703)">Overall survival (%)</text><text x="561.2" y="703" font-size="11.2" text-anchor="middle" transform="rotate(-90 561.2 703)">(TNBC RNA-Seq dataset)</text><path d="M592.9 640.3H597.7V641.6H603.6V642.9H611V646H614.2V649.9H616.3V653.4H619.5V657.3H621.7V659.9H624.9V662.9H628.1V666.4H631.3V668.6H634.5V669.9H644.1V672.1H647.2V673.8H650.4V675.8H744.2" stroke="#5b8fd6" stroke-width="1.8" fill="none"/><path d="M592.9 640.3H597.7V641.6H603.6V643.8H607.8V645.1H613.1V651.2H614.2V655.5H616.3V660.8H619.5V663.8H621.7V666.9H623.8V672.5H625.9V676H628.1V678.6H630.2V681.7H632.3V683.4H639.8V686.9H641.9V690.8H644.1V693.4H645.1V696.9H652.6V698.6H655.8V701.2H659V703.9H662.2V706H665.4V711.7H715.5" stroke="#e8202a" stroke-width="1.8" fill="none"/><line x1="672.8" y1="710" x2="672.8" y2="711.7" stroke="#e8202a" stroke-width="0.8"/><line x1="683.5" y1="710" x2="683.5" y2="711.7" stroke="#e8202a" stroke-width="0.8"/><line x1="694.1" y1="710" x2="694.1" y2="711.7" stroke="#e8202a" stroke-width="0.8"/><line x1="699.5" y1="710" x2="699.5" y2="711.7" stroke="#e8202a" stroke-width="0.8"/><line x1="704.8" y1="710" x2="704.8" y2="711.7" stroke="#e8202a" stroke-width="0.8"/><line x1="710.1" y1="710" x2="710.1" y2="711.7" stroke="#e8202a" stroke-width="0.8"/><line x1="662.2" y1="674.1" x2="662.2" y2="675.8" stroke="#5b8fd6" stroke-width="0.8"/><line x1="672.8" y1="674.1" x2="672.8" y2="675.8" stroke="#5b8fd6" stroke-width="0.8"/><line x1="688.8" y1="674.1" x2="688.8" y2="675.8" stroke="#5b8fd6" stroke-width="0.8"/><line x1="699.5" y1="674.1" x2="699.5" y2="675.8" stroke="#5b8fd6" stroke-width="0.8"/><line x1="712.3" y1="674.1" x2="712.3" y2="675.8" stroke="#5b8fd6" stroke-width="0.8"/><line x1="726.1" y1="674.1" x2="726.1" y2="675.8" stroke="#5b8fd6" stroke-width="0.8"/><line x1="736.8" y1="674.1" x2="736.8" y2="675.8" stroke="#5b8fd6" stroke-width="0.8"/><text x="651.3" y="654.1">Log-rank <tspan font-style="italic">P</tspan> = 0.04</text><text x="651.3" y="670.8" font-size="11.0">Hazard ratio=1.9</text><line x1="604" y1="740.3" x2="618.5" y2="740.3" stroke="#e8202a" stroke-width="1.8"/><line x1="604" y1="758.5" x2="618.5" y2="758.5" stroke="#5b8fd6" stroke-width="1.8"/><line x1="611.2" y1="738.6" x2="611.2" y2="740.3" stroke="#e8202a" stroke-width="0.8"/><line x1="611.2" y1="756.8" x2="611.2" y2="758.5" stroke="#5b8fd6" stroke-width="0.8"/><text x="623.9" y="745.7" font-size="10.9">High (<tspan font-style="italic">n</tspan> = 180)</text><text x="623.9" y="761.9" font-size="10.9">Low (<tspan font-style="italic">n</tspan> = 180)</text></svg></body></html>
